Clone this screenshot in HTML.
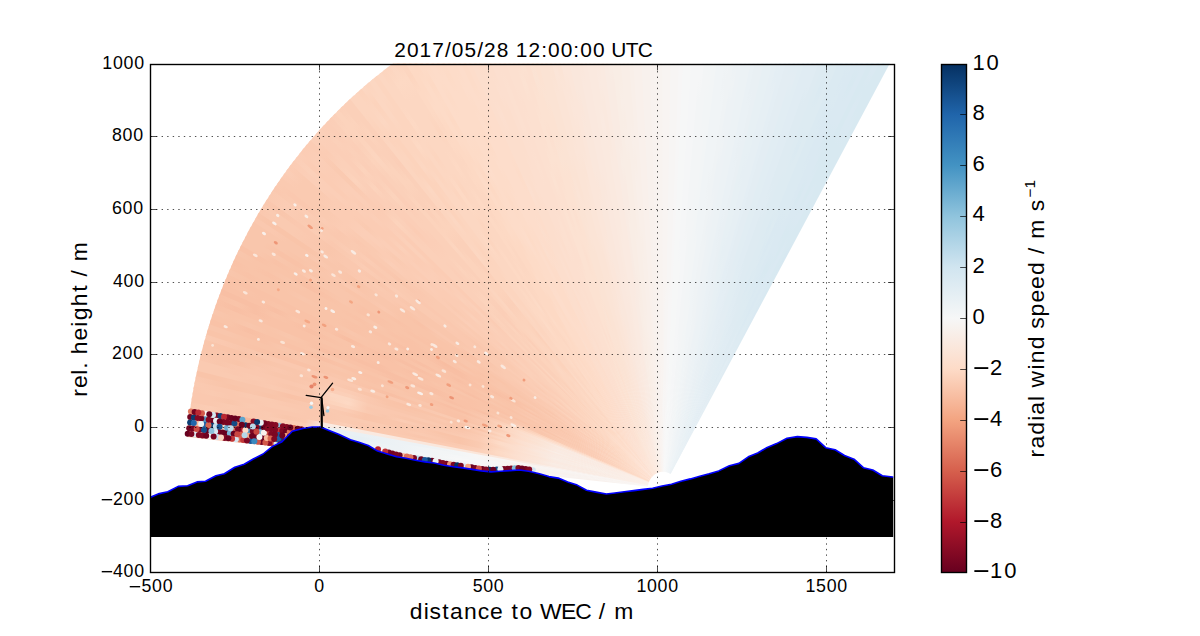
<!DOCTYPE html><html><head><meta charset="utf-8"><style>html,body{margin:0;padding:0;background:#fff;}body{width:1200px;height:636px;overflow:hidden;}svg{display:block;}text{font-family:"Liberation Sans",sans-serif;fill:#000;}</style></head><body>
<svg width="1200" height="636" viewBox="0 0 1200 636">
<defs><clipPath id="ax"><rect x="150" y="63.6" width="744" height="508.8"/></clipPath>
<linearGradient id="cb" x1="0" y1="0" x2="0" y2="1"><stop offset="0" stop-color="#053061"/><stop offset="0.1" stop-color="#2065ab"/><stop offset="0.2" stop-color="#4393c3"/><stop offset="0.3" stop-color="#90c4dd"/><stop offset="0.4" stop-color="#d1e5f0"/><stop offset="0.5" stop-color="#f6f7f7"/><stop offset="0.6" stop-color="#fddbc7"/><stop offset="0.7" stop-color="#f3a481"/><stop offset="0.8" stop-color="#d6604d"/><stop offset="0.9" stop-color="#b1182b"/><stop offset="1" stop-color="#67001f"/></linearGradient>
<linearGradient id="b0" gradientUnits="userSpaceOnUse" x1="670.5" y1="473.8" x2="897.9" y2="40.1"><stop offset="0.000" stop-color="#e7f0f4"/><stop offset="0.042" stop-color="#e6eff4"/><stop offset="0.083" stop-color="#e6eff4"/><stop offset="0.125" stop-color="#e4eef4"/><stop offset="0.167" stop-color="#e1edf3"/><stop offset="0.208" stop-color="#e0ecf3"/><stop offset="0.250" stop-color="#deebf2"/><stop offset="0.292" stop-color="#ddebf2"/><stop offset="0.333" stop-color="#dbeaf2"/><stop offset="0.375" stop-color="#dae9f2"/><stop offset="0.417" stop-color="#d8e9f1"/><stop offset="0.458" stop-color="#d8e9f1"/><stop offset="0.500" stop-color="#d7e8f1"/><stop offset="0.542" stop-color="#d8e9f1"/><stop offset="0.583" stop-color="#d8e9f1"/><stop offset="0.625" stop-color="#d8e9f1"/><stop offset="0.667" stop-color="#d8e9f1"/><stop offset="0.708" stop-color="#d8e9f1"/><stop offset="0.750" stop-color="#d8e9f1"/><stop offset="0.792" stop-color="#d8e9f1"/><stop offset="0.833" stop-color="#d8e9f1"/><stop offset="0.875" stop-color="#d8e9f1"/><stop offset="0.917" stop-color="#d8e9f1"/><stop offset="0.958" stop-color="#d8e9f1"/><stop offset="1.000" stop-color="#d8e9f1"/></linearGradient>
<linearGradient id="b1" gradientUnits="userSpaceOnUse" x1="670.4" y1="473.8" x2="893.6" y2="37.4"><stop offset="0.000" stop-color="#e7f0f4"/><stop offset="0.042" stop-color="#e6eff4"/><stop offset="0.083" stop-color="#e4eef4"/><stop offset="0.125" stop-color="#e4eef4"/><stop offset="0.167" stop-color="#e3edf3"/><stop offset="0.208" stop-color="#e1edf3"/><stop offset="0.250" stop-color="#e0ecf3"/><stop offset="0.292" stop-color="#deebf2"/><stop offset="0.333" stop-color="#ddebf2"/><stop offset="0.375" stop-color="#dbeaf2"/><stop offset="0.417" stop-color="#dae9f2"/><stop offset="0.458" stop-color="#d8e9f1"/><stop offset="0.500" stop-color="#d8e9f1"/><stop offset="0.542" stop-color="#d8e9f1"/><stop offset="0.583" stop-color="#d8e9f1"/><stop offset="0.625" stop-color="#d8e9f1"/><stop offset="0.667" stop-color="#d8e9f1"/><stop offset="0.708" stop-color="#d8e9f1"/><stop offset="0.750" stop-color="#d8e9f1"/><stop offset="0.792" stop-color="#dae9f2"/><stop offset="0.833" stop-color="#d8e9f1"/><stop offset="0.875" stop-color="#d8e9f1"/><stop offset="0.917" stop-color="#d8e9f1"/><stop offset="0.958" stop-color="#d8e9f1"/><stop offset="1.000" stop-color="#d8e9f1"/></linearGradient>
<linearGradient id="b2" gradientUnits="userSpaceOnUse" x1="670.2" y1="473.7" x2="889.2" y2="34.9"><stop offset="0.000" stop-color="#e9f0f4"/><stop offset="0.042" stop-color="#e7f0f4"/><stop offset="0.083" stop-color="#e6eff4"/><stop offset="0.125" stop-color="#e4eef4"/><stop offset="0.167" stop-color="#e3edf3"/><stop offset="0.208" stop-color="#e1edf3"/><stop offset="0.250" stop-color="#e1edf3"/><stop offset="0.292" stop-color="#deebf2"/><stop offset="0.333" stop-color="#ddebf2"/><stop offset="0.375" stop-color="#dbeaf2"/><stop offset="0.417" stop-color="#dbeaf2"/><stop offset="0.458" stop-color="#dae9f2"/><stop offset="0.500" stop-color="#dae9f2"/><stop offset="0.542" stop-color="#d8e9f1"/><stop offset="0.583" stop-color="#dae9f2"/><stop offset="0.625" stop-color="#dae9f2"/><stop offset="0.667" stop-color="#d8e9f1"/><stop offset="0.708" stop-color="#d8e9f1"/><stop offset="0.750" stop-color="#d8e9f1"/><stop offset="0.792" stop-color="#dae9f2"/><stop offset="0.833" stop-color="#dae9f2"/><stop offset="0.875" stop-color="#d8e9f1"/><stop offset="0.917" stop-color="#dae9f2"/><stop offset="0.958" stop-color="#dae9f2"/><stop offset="1.000" stop-color="#d8e9f1"/></linearGradient>
<linearGradient id="b3" gradientUnits="userSpaceOnUse" x1="670.1" y1="473.6" x2="884.7" y2="32.4"><stop offset="0.000" stop-color="#e7f0f4"/><stop offset="0.042" stop-color="#e6eff4"/><stop offset="0.083" stop-color="#e4eef4"/><stop offset="0.125" stop-color="#e3edf3"/><stop offset="0.167" stop-color="#e1edf3"/><stop offset="0.208" stop-color="#e0ecf3"/><stop offset="0.250" stop-color="#deebf2"/><stop offset="0.292" stop-color="#deebf2"/><stop offset="0.333" stop-color="#dbeaf2"/><stop offset="0.375" stop-color="#dae9f2"/><stop offset="0.417" stop-color="#dae9f2"/><stop offset="0.458" stop-color="#dae9f2"/><stop offset="0.500" stop-color="#d8e9f1"/><stop offset="0.542" stop-color="#d8e9f1"/><stop offset="0.583" stop-color="#dae9f2"/><stop offset="0.625" stop-color="#d8e9f1"/><stop offset="0.667" stop-color="#d8e9f1"/><stop offset="0.708" stop-color="#d8e9f1"/><stop offset="0.750" stop-color="#d8e9f1"/><stop offset="0.792" stop-color="#d8e9f1"/><stop offset="0.833" stop-color="#d8e9f1"/><stop offset="0.875" stop-color="#d8e9f1"/><stop offset="0.917" stop-color="#d8e9f1"/><stop offset="0.958" stop-color="#d8e9f1"/><stop offset="1.000" stop-color="#d8e9f1"/></linearGradient>
<linearGradient id="b4" gradientUnits="userSpaceOnUse" x1="669.9" y1="473.5" x2="880.3" y2="29.9"><stop offset="0.000" stop-color="#e9f0f4"/><stop offset="0.042" stop-color="#e7f0f4"/><stop offset="0.083" stop-color="#e6eff4"/><stop offset="0.125" stop-color="#e4eef4"/><stop offset="0.167" stop-color="#e3edf3"/><stop offset="0.208" stop-color="#e1edf3"/><stop offset="0.250" stop-color="#e0ecf3"/><stop offset="0.292" stop-color="#e0ecf3"/><stop offset="0.333" stop-color="#ddebf2"/><stop offset="0.375" stop-color="#dbeaf2"/><stop offset="0.417" stop-color="#dbeaf2"/><stop offset="0.458" stop-color="#d8e9f1"/><stop offset="0.500" stop-color="#dae9f2"/><stop offset="0.542" stop-color="#d8e9f1"/><stop offset="0.583" stop-color="#dae9f2"/><stop offset="0.625" stop-color="#dae9f2"/><stop offset="0.667" stop-color="#dae9f2"/><stop offset="0.708" stop-color="#d8e9f1"/><stop offset="0.750" stop-color="#d8e9f1"/><stop offset="0.792" stop-color="#dae9f2"/><stop offset="0.833" stop-color="#dae9f2"/><stop offset="0.875" stop-color="#dae9f2"/><stop offset="0.917" stop-color="#dae9f2"/><stop offset="0.958" stop-color="#dae9f2"/><stop offset="1.000" stop-color="#dae9f2"/></linearGradient>
<linearGradient id="b5" gradientUnits="userSpaceOnUse" x1="669.8" y1="473.4" x2="875.8" y2="27.5"><stop offset="0.000" stop-color="#e9f0f4"/><stop offset="0.042" stop-color="#e7f0f4"/><stop offset="0.083" stop-color="#e6eff4"/><stop offset="0.125" stop-color="#e3edf3"/><stop offset="0.167" stop-color="#e3edf3"/><stop offset="0.208" stop-color="#e1edf3"/><stop offset="0.250" stop-color="#e0ecf3"/><stop offset="0.292" stop-color="#deebf2"/><stop offset="0.333" stop-color="#ddebf2"/><stop offset="0.375" stop-color="#dbeaf2"/><stop offset="0.417" stop-color="#dae9f2"/><stop offset="0.458" stop-color="#d8e9f1"/><stop offset="0.500" stop-color="#dae9f2"/><stop offset="0.542" stop-color="#dae9f2"/><stop offset="0.583" stop-color="#dae9f2"/><stop offset="0.625" stop-color="#d8e9f1"/><stop offset="0.667" stop-color="#dae9f2"/><stop offset="0.708" stop-color="#dae9f2"/><stop offset="0.750" stop-color="#d8e9f1"/><stop offset="0.792" stop-color="#dae9f2"/><stop offset="0.833" stop-color="#dae9f2"/><stop offset="0.875" stop-color="#d8e9f1"/><stop offset="0.917" stop-color="#dae9f2"/><stop offset="0.958" stop-color="#dae9f2"/><stop offset="1.000" stop-color="#dae9f2"/></linearGradient>
<linearGradient id="b6" gradientUnits="userSpaceOnUse" x1="669.6" y1="473.4" x2="871.3" y2="25.1"><stop offset="0.000" stop-color="#e9f0f4"/><stop offset="0.042" stop-color="#e9f0f4"/><stop offset="0.083" stop-color="#e6eff4"/><stop offset="0.125" stop-color="#e4eef4"/><stop offset="0.167" stop-color="#e4eef4"/><stop offset="0.208" stop-color="#e1edf3"/><stop offset="0.250" stop-color="#e0ecf3"/><stop offset="0.292" stop-color="#deebf2"/><stop offset="0.333" stop-color="#ddebf2"/><stop offset="0.375" stop-color="#ddebf2"/><stop offset="0.417" stop-color="#dbeaf2"/><stop offset="0.458" stop-color="#dae9f2"/><stop offset="0.500" stop-color="#dae9f2"/><stop offset="0.542" stop-color="#dae9f2"/><stop offset="0.583" stop-color="#dbeaf2"/><stop offset="0.625" stop-color="#dae9f2"/><stop offset="0.667" stop-color="#dae9f2"/><stop offset="0.708" stop-color="#dae9f2"/><stop offset="0.750" stop-color="#dae9f2"/><stop offset="0.792" stop-color="#dae9f2"/><stop offset="0.833" stop-color="#dae9f2"/><stop offset="0.875" stop-color="#dae9f2"/><stop offset="0.917" stop-color="#dae9f2"/><stop offset="0.958" stop-color="#dae9f2"/><stop offset="1.000" stop-color="#dae9f2"/></linearGradient>
<linearGradient id="b7" gradientUnits="userSpaceOnUse" x1="669.5" y1="473.3" x2="866.8" y2="22.8"><stop offset="0.000" stop-color="#e9f0f4"/><stop offset="0.042" stop-color="#e7f0f4"/><stop offset="0.083" stop-color="#e6eff4"/><stop offset="0.125" stop-color="#e4eef4"/><stop offset="0.167" stop-color="#e4eef4"/><stop offset="0.208" stop-color="#e1edf3"/><stop offset="0.250" stop-color="#e1edf3"/><stop offset="0.292" stop-color="#e0ecf3"/><stop offset="0.333" stop-color="#deebf2"/><stop offset="0.375" stop-color="#ddebf2"/><stop offset="0.417" stop-color="#dbeaf2"/><stop offset="0.458" stop-color="#dbeaf2"/><stop offset="0.500" stop-color="#dbeaf2"/><stop offset="0.542" stop-color="#dae9f2"/><stop offset="0.583" stop-color="#dbeaf2"/><stop offset="0.625" stop-color="#dbeaf2"/><stop offset="0.667" stop-color="#dbeaf2"/><stop offset="0.708" stop-color="#dae9f2"/><stop offset="0.750" stop-color="#dae9f2"/><stop offset="0.792" stop-color="#dae9f2"/><stop offset="0.833" stop-color="#dbeaf2"/><stop offset="0.875" stop-color="#dae9f2"/><stop offset="0.917" stop-color="#dbeaf2"/><stop offset="0.958" stop-color="#dae9f2"/><stop offset="1.000" stop-color="#dae9f2"/></linearGradient>
<linearGradient id="b8" gradientUnits="userSpaceOnUse" x1="669.4" y1="473.2" x2="862.3" y2="20.5"><stop offset="0.000" stop-color="#e9f0f4"/><stop offset="0.042" stop-color="#e7f0f4"/><stop offset="0.083" stop-color="#e7f0f4"/><stop offset="0.125" stop-color="#e6eff4"/><stop offset="0.167" stop-color="#e4eef4"/><stop offset="0.208" stop-color="#e3edf3"/><stop offset="0.250" stop-color="#e1edf3"/><stop offset="0.292" stop-color="#e0ecf3"/><stop offset="0.333" stop-color="#deebf2"/><stop offset="0.375" stop-color="#ddebf2"/><stop offset="0.417" stop-color="#ddebf2"/><stop offset="0.458" stop-color="#dbeaf2"/><stop offset="0.500" stop-color="#dae9f2"/><stop offset="0.542" stop-color="#dae9f2"/><stop offset="0.583" stop-color="#dbeaf2"/><stop offset="0.625" stop-color="#dbeaf2"/><stop offset="0.667" stop-color="#dbeaf2"/><stop offset="0.708" stop-color="#dbeaf2"/><stop offset="0.750" stop-color="#dbeaf2"/><stop offset="0.792" stop-color="#dae9f2"/><stop offset="0.833" stop-color="#dbeaf2"/><stop offset="0.875" stop-color="#dbeaf2"/><stop offset="0.917" stop-color="#dbeaf2"/><stop offset="0.958" stop-color="#dbeaf2"/><stop offset="1.000" stop-color="#dbeaf2"/></linearGradient>
<linearGradient id="b9" gradientUnits="userSpaceOnUse" x1="669.2" y1="473.1" x2="857.7" y2="18.3"><stop offset="0.000" stop-color="#eaf1f5"/><stop offset="0.042" stop-color="#e9f0f4"/><stop offset="0.083" stop-color="#e6eff4"/><stop offset="0.125" stop-color="#e6eff4"/><stop offset="0.167" stop-color="#e4eef4"/><stop offset="0.208" stop-color="#e3edf3"/><stop offset="0.250" stop-color="#e1edf3"/><stop offset="0.292" stop-color="#e0ecf3"/><stop offset="0.333" stop-color="#deebf2"/><stop offset="0.375" stop-color="#deebf2"/><stop offset="0.417" stop-color="#dbeaf2"/><stop offset="0.458" stop-color="#ddebf2"/><stop offset="0.500" stop-color="#dbeaf2"/><stop offset="0.542" stop-color="#ddebf2"/><stop offset="0.583" stop-color="#dbeaf2"/><stop offset="0.625" stop-color="#dbeaf2"/><stop offset="0.667" stop-color="#dbeaf2"/><stop offset="0.708" stop-color="#dbeaf2"/><stop offset="0.750" stop-color="#dbeaf2"/><stop offset="0.792" stop-color="#dbeaf2"/><stop offset="0.833" stop-color="#dbeaf2"/><stop offset="0.875" stop-color="#dbeaf2"/><stop offset="0.917" stop-color="#dbeaf2"/><stop offset="0.958" stop-color="#dbeaf2"/><stop offset="1.000" stop-color="#dbeaf2"/></linearGradient>
<linearGradient id="b10" gradientUnits="userSpaceOnUse" x1="669.1" y1="473.1" x2="853.1" y2="16.2"><stop offset="0.000" stop-color="#eaf1f5"/><stop offset="0.042" stop-color="#e9f0f4"/><stop offset="0.083" stop-color="#e7f0f4"/><stop offset="0.125" stop-color="#e7f0f4"/><stop offset="0.167" stop-color="#e6eff4"/><stop offset="0.208" stop-color="#e3edf3"/><stop offset="0.250" stop-color="#e1edf3"/><stop offset="0.292" stop-color="#e1edf3"/><stop offset="0.333" stop-color="#e0ecf3"/><stop offset="0.375" stop-color="#deebf2"/><stop offset="0.417" stop-color="#deebf2"/><stop offset="0.458" stop-color="#ddebf2"/><stop offset="0.500" stop-color="#ddebf2"/><stop offset="0.542" stop-color="#dbeaf2"/><stop offset="0.583" stop-color="#ddebf2"/><stop offset="0.625" stop-color="#ddebf2"/><stop offset="0.667" stop-color="#ddebf2"/><stop offset="0.708" stop-color="#ddebf2"/><stop offset="0.750" stop-color="#ddebf2"/><stop offset="0.792" stop-color="#ddebf2"/><stop offset="0.833" stop-color="#ddebf2"/><stop offset="0.875" stop-color="#ddebf2"/><stop offset="0.917" stop-color="#ddebf2"/><stop offset="0.958" stop-color="#ddebf2"/><stop offset="1.000" stop-color="#ddebf2"/></linearGradient>
<linearGradient id="b11" gradientUnits="userSpaceOnUse" x1="668.9" y1="473" x2="848.5" y2="14"><stop offset="0.000" stop-color="#eaf1f5"/><stop offset="0.042" stop-color="#eaf1f5"/><stop offset="0.083" stop-color="#e7f0f4"/><stop offset="0.125" stop-color="#e6eff4"/><stop offset="0.167" stop-color="#e6eff4"/><stop offset="0.208" stop-color="#e3edf3"/><stop offset="0.250" stop-color="#e3edf3"/><stop offset="0.292" stop-color="#e1edf3"/><stop offset="0.333" stop-color="#e0ecf3"/><stop offset="0.375" stop-color="#deebf2"/><stop offset="0.417" stop-color="#ddebf2"/><stop offset="0.458" stop-color="#ddebf2"/><stop offset="0.500" stop-color="#ddebf2"/><stop offset="0.542" stop-color="#ddebf2"/><stop offset="0.583" stop-color="#ddebf2"/><stop offset="0.625" stop-color="#ddebf2"/><stop offset="0.667" stop-color="#ddebf2"/><stop offset="0.708" stop-color="#dbeaf2"/><stop offset="0.750" stop-color="#ddebf2"/><stop offset="0.792" stop-color="#ddebf2"/><stop offset="0.833" stop-color="#dbeaf2"/><stop offset="0.875" stop-color="#ddebf2"/><stop offset="0.917" stop-color="#ddebf2"/><stop offset="0.958" stop-color="#dbeaf2"/><stop offset="1.000" stop-color="#ddebf2"/></linearGradient>
<linearGradient id="b12" gradientUnits="userSpaceOnUse" x1="668.8" y1="472.9" x2="843.9" y2="12"><stop offset="0.000" stop-color="#eaf1f5"/><stop offset="0.042" stop-color="#eaf1f5"/><stop offset="0.083" stop-color="#e9f0f4"/><stop offset="0.125" stop-color="#e7f0f4"/><stop offset="0.167" stop-color="#e6eff4"/><stop offset="0.208" stop-color="#e4eef4"/><stop offset="0.250" stop-color="#e3edf3"/><stop offset="0.292" stop-color="#e3edf3"/><stop offset="0.333" stop-color="#e1edf3"/><stop offset="0.375" stop-color="#e0ecf3"/><stop offset="0.417" stop-color="#deebf2"/><stop offset="0.458" stop-color="#deebf2"/><stop offset="0.500" stop-color="#deebf2"/><stop offset="0.542" stop-color="#ddebf2"/><stop offset="0.583" stop-color="#ddebf2"/><stop offset="0.625" stop-color="#ddebf2"/><stop offset="0.667" stop-color="#deebf2"/><stop offset="0.708" stop-color="#ddebf2"/><stop offset="0.750" stop-color="#ddebf2"/><stop offset="0.792" stop-color="#ddebf2"/><stop offset="0.833" stop-color="#ddebf2"/><stop offset="0.875" stop-color="#ddebf2"/><stop offset="0.917" stop-color="#ddebf2"/><stop offset="0.958" stop-color="#deebf2"/><stop offset="1.000" stop-color="#ddebf2"/></linearGradient>
<linearGradient id="b13" gradientUnits="userSpaceOnUse" x1="668.6" y1="472.9" x2="839.3" y2="10"><stop offset="0.000" stop-color="#ecf2f5"/><stop offset="0.042" stop-color="#e9f0f4"/><stop offset="0.083" stop-color="#e7f0f4"/><stop offset="0.125" stop-color="#e7f0f4"/><stop offset="0.167" stop-color="#e6eff4"/><stop offset="0.208" stop-color="#e4eef4"/><stop offset="0.250" stop-color="#e4eef4"/><stop offset="0.292" stop-color="#e3edf3"/><stop offset="0.333" stop-color="#e1edf3"/><stop offset="0.375" stop-color="#e0ecf3"/><stop offset="0.417" stop-color="#deebf2"/><stop offset="0.458" stop-color="#deebf2"/><stop offset="0.500" stop-color="#deebf2"/><stop offset="0.542" stop-color="#deebf2"/><stop offset="0.583" stop-color="#deebf2"/><stop offset="0.625" stop-color="#deebf2"/><stop offset="0.667" stop-color="#deebf2"/><stop offset="0.708" stop-color="#deebf2"/><stop offset="0.750" stop-color="#deebf2"/><stop offset="0.792" stop-color="#deebf2"/><stop offset="0.833" stop-color="#deebf2"/><stop offset="0.875" stop-color="#deebf2"/><stop offset="0.917" stop-color="#deebf2"/><stop offset="0.958" stop-color="#deebf2"/><stop offset="1.000" stop-color="#deebf2"/></linearGradient>
<linearGradient id="b14" gradientUnits="userSpaceOnUse" x1="668.5" y1="472.8" x2="834.6" y2="8"><stop offset="0.000" stop-color="#ecf2f5"/><stop offset="0.042" stop-color="#eaf1f5"/><stop offset="0.083" stop-color="#e9f0f4"/><stop offset="0.125" stop-color="#e7f0f4"/><stop offset="0.167" stop-color="#e6eff4"/><stop offset="0.208" stop-color="#e6eff4"/><stop offset="0.250" stop-color="#e4eef4"/><stop offset="0.292" stop-color="#e3edf3"/><stop offset="0.333" stop-color="#e3edf3"/><stop offset="0.375" stop-color="#e1edf3"/><stop offset="0.417" stop-color="#e0ecf3"/><stop offset="0.458" stop-color="#deebf2"/><stop offset="0.500" stop-color="#deebf2"/><stop offset="0.542" stop-color="#deebf2"/><stop offset="0.583" stop-color="#e0ecf3"/><stop offset="0.625" stop-color="#deebf2"/><stop offset="0.667" stop-color="#deebf2"/><stop offset="0.708" stop-color="#deebf2"/><stop offset="0.750" stop-color="#deebf2"/><stop offset="0.792" stop-color="#deebf2"/><stop offset="0.833" stop-color="#e0ecf3"/><stop offset="0.875" stop-color="#e0ecf3"/><stop offset="0.917" stop-color="#deebf2"/><stop offset="0.958" stop-color="#e0ecf3"/><stop offset="1.000" stop-color="#deebf2"/></linearGradient>
<linearGradient id="b15" gradientUnits="userSpaceOnUse" x1="668.3" y1="472.8" x2="829.9" y2="6.1"><stop offset="0.000" stop-color="#edf2f5"/><stop offset="0.042" stop-color="#ecf2f5"/><stop offset="0.083" stop-color="#e9f0f4"/><stop offset="0.125" stop-color="#e9f0f4"/><stop offset="0.167" stop-color="#e7f0f4"/><stop offset="0.208" stop-color="#e7f0f4"/><stop offset="0.250" stop-color="#e6eff4"/><stop offset="0.292" stop-color="#e4eef4"/><stop offset="0.333" stop-color="#e3edf3"/><stop offset="0.375" stop-color="#e1edf3"/><stop offset="0.417" stop-color="#e1edf3"/><stop offset="0.458" stop-color="#e0ecf3"/><stop offset="0.500" stop-color="#e0ecf3"/><stop offset="0.542" stop-color="#e0ecf3"/><stop offset="0.583" stop-color="#e0ecf3"/><stop offset="0.625" stop-color="#e0ecf3"/><stop offset="0.667" stop-color="#e0ecf3"/><stop offset="0.708" stop-color="#e0ecf3"/><stop offset="0.750" stop-color="#e0ecf3"/><stop offset="0.792" stop-color="#e0ecf3"/><stop offset="0.833" stop-color="#e0ecf3"/><stop offset="0.875" stop-color="#e0ecf3"/><stop offset="0.917" stop-color="#e0ecf3"/><stop offset="0.958" stop-color="#e0ecf3"/><stop offset="1.000" stop-color="#e0ecf3"/></linearGradient>
<linearGradient id="b16" gradientUnits="userSpaceOnUse" x1="668.2" y1="472.7" x2="825.2" y2="4.3"><stop offset="0.000" stop-color="#ecf2f5"/><stop offset="0.042" stop-color="#eaf1f5"/><stop offset="0.083" stop-color="#e9f0f4"/><stop offset="0.125" stop-color="#e9f0f4"/><stop offset="0.167" stop-color="#e7f0f4"/><stop offset="0.208" stop-color="#e6eff4"/><stop offset="0.250" stop-color="#e6eff4"/><stop offset="0.292" stop-color="#e4eef4"/><stop offset="0.333" stop-color="#e3edf3"/><stop offset="0.375" stop-color="#e1edf3"/><stop offset="0.417" stop-color="#e1edf3"/><stop offset="0.458" stop-color="#e0ecf3"/><stop offset="0.500" stop-color="#e0ecf3"/><stop offset="0.542" stop-color="#e0ecf3"/><stop offset="0.583" stop-color="#e0ecf3"/><stop offset="0.625" stop-color="#e0ecf3"/><stop offset="0.667" stop-color="#e0ecf3"/><stop offset="0.708" stop-color="#e0ecf3"/><stop offset="0.750" stop-color="#e0ecf3"/><stop offset="0.792" stop-color="#e0ecf3"/><stop offset="0.833" stop-color="#e0ecf3"/><stop offset="0.875" stop-color="#e0ecf3"/><stop offset="0.917" stop-color="#e1edf3"/><stop offset="0.958" stop-color="#e0ecf3"/><stop offset="1.000" stop-color="#e1edf3"/></linearGradient>
<linearGradient id="b17" gradientUnits="userSpaceOnUse" x1="668" y1="472.6" x2="820.5" y2="2.5"><stop offset="0.000" stop-color="#ecf2f5"/><stop offset="0.042" stop-color="#ecf2f5"/><stop offset="0.083" stop-color="#eaf1f5"/><stop offset="0.125" stop-color="#e9f0f4"/><stop offset="0.167" stop-color="#e9f0f4"/><stop offset="0.208" stop-color="#e7f0f4"/><stop offset="0.250" stop-color="#e6eff4"/><stop offset="0.292" stop-color="#e4eef4"/><stop offset="0.333" stop-color="#e4eef4"/><stop offset="0.375" stop-color="#e3edf3"/><stop offset="0.417" stop-color="#e3edf3"/><stop offset="0.458" stop-color="#e1edf3"/><stop offset="0.500" stop-color="#e1edf3"/><stop offset="0.542" stop-color="#e1edf3"/><stop offset="0.583" stop-color="#e1edf3"/><stop offset="0.625" stop-color="#e1edf3"/><stop offset="0.667" stop-color="#e1edf3"/><stop offset="0.708" stop-color="#e1edf3"/><stop offset="0.750" stop-color="#e1edf3"/><stop offset="0.792" stop-color="#e1edf3"/><stop offset="0.833" stop-color="#e1edf3"/><stop offset="0.875" stop-color="#e1edf3"/><stop offset="0.917" stop-color="#e1edf3"/><stop offset="0.958" stop-color="#e1edf3"/><stop offset="1.000" stop-color="#e1edf3"/></linearGradient>
<linearGradient id="b18" gradientUnits="userSpaceOnUse" x1="667.9" y1="472.6" x2="815.8" y2="0.7"><stop offset="0.000" stop-color="#ecf2f5"/><stop offset="0.042" stop-color="#ecf2f5"/><stop offset="0.083" stop-color="#eaf1f5"/><stop offset="0.125" stop-color="#eaf1f5"/><stop offset="0.167" stop-color="#e9f0f4"/><stop offset="0.208" stop-color="#e7f0f4"/><stop offset="0.250" stop-color="#e6eff4"/><stop offset="0.292" stop-color="#e6eff4"/><stop offset="0.333" stop-color="#e4eef4"/><stop offset="0.375" stop-color="#e4eef4"/><stop offset="0.417" stop-color="#e3edf3"/><stop offset="0.458" stop-color="#e1edf3"/><stop offset="0.500" stop-color="#e1edf3"/><stop offset="0.542" stop-color="#e1edf3"/><stop offset="0.583" stop-color="#e1edf3"/><stop offset="0.625" stop-color="#e1edf3"/><stop offset="0.667" stop-color="#e1edf3"/><stop offset="0.708" stop-color="#e1edf3"/><stop offset="0.750" stop-color="#e1edf3"/><stop offset="0.792" stop-color="#e1edf3"/><stop offset="0.833" stop-color="#e3edf3"/><stop offset="0.875" stop-color="#e1edf3"/><stop offset="0.917" stop-color="#e1edf3"/><stop offset="0.958" stop-color="#e1edf3"/><stop offset="1.000" stop-color="#e1edf3"/></linearGradient>
<linearGradient id="b19" gradientUnits="userSpaceOnUse" x1="667.7" y1="472.5" x2="811" y2="-1"><stop offset="0.000" stop-color="#edf2f5"/><stop offset="0.042" stop-color="#ecf2f5"/><stop offset="0.083" stop-color="#ecf2f5"/><stop offset="0.125" stop-color="#eaf1f5"/><stop offset="0.167" stop-color="#e9f0f4"/><stop offset="0.208" stop-color="#e9f0f4"/><stop offset="0.250" stop-color="#e7f0f4"/><stop offset="0.292" stop-color="#e6eff4"/><stop offset="0.333" stop-color="#e6eff4"/><stop offset="0.375" stop-color="#e4eef4"/><stop offset="0.417" stop-color="#e3edf3"/><stop offset="0.458" stop-color="#e3edf3"/><stop offset="0.500" stop-color="#e3edf3"/><stop offset="0.542" stop-color="#e3edf3"/><stop offset="0.583" stop-color="#e3edf3"/><stop offset="0.625" stop-color="#e3edf3"/><stop offset="0.667" stop-color="#e3edf3"/><stop offset="0.708" stop-color="#e3edf3"/><stop offset="0.750" stop-color="#e3edf3"/><stop offset="0.792" stop-color="#e3edf3"/><stop offset="0.833" stop-color="#e3edf3"/><stop offset="0.875" stop-color="#e1edf3"/><stop offset="0.917" stop-color="#e3edf3"/><stop offset="0.958" stop-color="#e3edf3"/><stop offset="1.000" stop-color="#e3edf3"/></linearGradient>
<linearGradient id="b20" gradientUnits="userSpaceOnUse" x1="667.6" y1="472.5" x2="806.2" y2="-2.6"><stop offset="0.000" stop-color="#edf2f5"/><stop offset="0.042" stop-color="#ecf2f5"/><stop offset="0.083" stop-color="#ecf2f5"/><stop offset="0.125" stop-color="#eaf1f5"/><stop offset="0.167" stop-color="#e9f0f4"/><stop offset="0.208" stop-color="#e9f0f4"/><stop offset="0.250" stop-color="#e7f0f4"/><stop offset="0.292" stop-color="#e6eff4"/><stop offset="0.333" stop-color="#e6eff4"/><stop offset="0.375" stop-color="#e4eef4"/><stop offset="0.417" stop-color="#e4eef4"/><stop offset="0.458" stop-color="#e3edf3"/><stop offset="0.500" stop-color="#e3edf3"/><stop offset="0.542" stop-color="#e3edf3"/><stop offset="0.583" stop-color="#e3edf3"/><stop offset="0.625" stop-color="#e3edf3"/><stop offset="0.667" stop-color="#e3edf3"/><stop offset="0.708" stop-color="#e3edf3"/><stop offset="0.750" stop-color="#e3edf3"/><stop offset="0.792" stop-color="#e3edf3"/><stop offset="0.833" stop-color="#e3edf3"/><stop offset="0.875" stop-color="#e3edf3"/><stop offset="0.917" stop-color="#e3edf3"/><stop offset="0.958" stop-color="#e3edf3"/><stop offset="1.000" stop-color="#e3edf3"/></linearGradient>
<linearGradient id="b21" gradientUnits="userSpaceOnUse" x1="667.4" y1="472.4" x2="801.5" y2="-4.2"><stop offset="0.000" stop-color="#edf2f5"/><stop offset="0.042" stop-color="#edf2f5"/><stop offset="0.083" stop-color="#ecf2f5"/><stop offset="0.125" stop-color="#ecf2f5"/><stop offset="0.167" stop-color="#eaf1f5"/><stop offset="0.208" stop-color="#e9f0f4"/><stop offset="0.250" stop-color="#e9f0f4"/><stop offset="0.292" stop-color="#e7f0f4"/><stop offset="0.333" stop-color="#e7f0f4"/><stop offset="0.375" stop-color="#e6eff4"/><stop offset="0.417" stop-color="#e4eef4"/><stop offset="0.458" stop-color="#e4eef4"/><stop offset="0.500" stop-color="#e4eef4"/><stop offset="0.542" stop-color="#e4eef4"/><stop offset="0.583" stop-color="#e4eef4"/><stop offset="0.625" stop-color="#e4eef4"/><stop offset="0.667" stop-color="#e4eef4"/><stop offset="0.708" stop-color="#e4eef4"/><stop offset="0.750" stop-color="#e4eef4"/><stop offset="0.792" stop-color="#e4eef4"/><stop offset="0.833" stop-color="#e4eef4"/><stop offset="0.875" stop-color="#e4eef4"/><stop offset="0.917" stop-color="#e4eef4"/><stop offset="0.958" stop-color="#e4eef4"/><stop offset="1.000" stop-color="#e4eef4"/></linearGradient>
<linearGradient id="b22" gradientUnits="userSpaceOnUse" x1="667.3" y1="472.4" x2="796.7" y2="-5.7"><stop offset="0.000" stop-color="#eff3f5"/><stop offset="0.042" stop-color="#edf2f5"/><stop offset="0.083" stop-color="#edf2f5"/><stop offset="0.125" stop-color="#ecf2f5"/><stop offset="0.167" stop-color="#ecf2f5"/><stop offset="0.208" stop-color="#eaf1f5"/><stop offset="0.250" stop-color="#e9f0f4"/><stop offset="0.292" stop-color="#e9f0f4"/><stop offset="0.333" stop-color="#e7f0f4"/><stop offset="0.375" stop-color="#e7f0f4"/><stop offset="0.417" stop-color="#e6eff4"/><stop offset="0.458" stop-color="#e6eff4"/><stop offset="0.500" stop-color="#e6eff4"/><stop offset="0.542" stop-color="#e6eff4"/><stop offset="0.583" stop-color="#e6eff4"/><stop offset="0.625" stop-color="#e6eff4"/><stop offset="0.667" stop-color="#e6eff4"/><stop offset="0.708" stop-color="#e6eff4"/><stop offset="0.750" stop-color="#e6eff4"/><stop offset="0.792" stop-color="#e6eff4"/><stop offset="0.833" stop-color="#e4eef4"/><stop offset="0.875" stop-color="#e6eff4"/><stop offset="0.917" stop-color="#e6eff4"/><stop offset="0.958" stop-color="#e6eff4"/><stop offset="1.000" stop-color="#e6eff4"/></linearGradient>
<linearGradient id="b23" gradientUnits="userSpaceOnUse" x1="667.1" y1="472.3" x2="791.9" y2="-7.2"><stop offset="0.000" stop-color="#eff3f5"/><stop offset="0.042" stop-color="#edf2f5"/><stop offset="0.083" stop-color="#edf2f5"/><stop offset="0.125" stop-color="#ecf2f5"/><stop offset="0.167" stop-color="#ecf2f5"/><stop offset="0.208" stop-color="#eaf1f5"/><stop offset="0.250" stop-color="#eaf1f5"/><stop offset="0.292" stop-color="#e9f0f4"/><stop offset="0.333" stop-color="#e9f0f4"/><stop offset="0.375" stop-color="#e7f0f4"/><stop offset="0.417" stop-color="#e7f0f4"/><stop offset="0.458" stop-color="#e6eff4"/><stop offset="0.500" stop-color="#e6eff4"/><stop offset="0.542" stop-color="#e6eff4"/><stop offset="0.583" stop-color="#e6eff4"/><stop offset="0.625" stop-color="#e6eff4"/><stop offset="0.667" stop-color="#e6eff4"/><stop offset="0.708" stop-color="#e6eff4"/><stop offset="0.750" stop-color="#e6eff4"/><stop offset="0.792" stop-color="#e6eff4"/><stop offset="0.833" stop-color="#e6eff4"/><stop offset="0.875" stop-color="#e6eff4"/><stop offset="0.917" stop-color="#e6eff4"/><stop offset="0.958" stop-color="#e6eff4"/><stop offset="1.000" stop-color="#e6eff4"/></linearGradient>
<linearGradient id="b24" gradientUnits="userSpaceOnUse" x1="667" y1="472.3" x2="787" y2="-8.6"><stop offset="0.000" stop-color="#eff3f5"/><stop offset="0.042" stop-color="#eff3f5"/><stop offset="0.083" stop-color="#edf2f5"/><stop offset="0.125" stop-color="#edf2f5"/><stop offset="0.167" stop-color="#ecf2f5"/><stop offset="0.208" stop-color="#ecf2f5"/><stop offset="0.250" stop-color="#eaf1f5"/><stop offset="0.292" stop-color="#eaf1f5"/><stop offset="0.333" stop-color="#e9f0f4"/><stop offset="0.375" stop-color="#e9f0f4"/><stop offset="0.417" stop-color="#e7f0f4"/><stop offset="0.458" stop-color="#e6eff4"/><stop offset="0.500" stop-color="#e7f0f4"/><stop offset="0.542" stop-color="#e7f0f4"/><stop offset="0.583" stop-color="#e7f0f4"/><stop offset="0.625" stop-color="#e6eff4"/><stop offset="0.667" stop-color="#e7f0f4"/><stop offset="0.708" stop-color="#e7f0f4"/><stop offset="0.750" stop-color="#e7f0f4"/><stop offset="0.792" stop-color="#e7f0f4"/><stop offset="0.833" stop-color="#e7f0f4"/><stop offset="0.875" stop-color="#e7f0f4"/><stop offset="0.917" stop-color="#e6eff4"/><stop offset="0.958" stop-color="#e7f0f4"/><stop offset="1.000" stop-color="#e7f0f4"/></linearGradient>
<linearGradient id="b25" gradientUnits="userSpaceOnUse" x1="666.8" y1="472.2" x2="782.2" y2="-10"><stop offset="0.000" stop-color="#eff3f5"/><stop offset="0.042" stop-color="#eff3f5"/><stop offset="0.083" stop-color="#edf2f5"/><stop offset="0.125" stop-color="#edf2f5"/><stop offset="0.167" stop-color="#edf2f5"/><stop offset="0.208" stop-color="#ecf2f5"/><stop offset="0.250" stop-color="#ecf2f5"/><stop offset="0.292" stop-color="#eaf1f5"/><stop offset="0.333" stop-color="#eaf1f5"/><stop offset="0.375" stop-color="#e9f0f4"/><stop offset="0.417" stop-color="#e9f0f4"/><stop offset="0.458" stop-color="#e7f0f4"/><stop offset="0.500" stop-color="#e7f0f4"/><stop offset="0.542" stop-color="#e7f0f4"/><stop offset="0.583" stop-color="#e7f0f4"/><stop offset="0.625" stop-color="#e7f0f4"/><stop offset="0.667" stop-color="#e7f0f4"/><stop offset="0.708" stop-color="#e7f0f4"/><stop offset="0.750" stop-color="#e7f0f4"/><stop offset="0.792" stop-color="#e7f0f4"/><stop offset="0.833" stop-color="#e7f0f4"/><stop offset="0.875" stop-color="#e7f0f4"/><stop offset="0.917" stop-color="#e7f0f4"/><stop offset="0.958" stop-color="#e7f0f4"/><stop offset="1.000" stop-color="#e7f0f4"/></linearGradient>
<linearGradient id="b26" gradientUnits="userSpaceOnUse" x1="666.7" y1="472.2" x2="777.3" y2="-11.3"><stop offset="0.000" stop-color="#f0f4f6"/><stop offset="0.042" stop-color="#eff3f5"/><stop offset="0.083" stop-color="#eff3f5"/><stop offset="0.125" stop-color="#eff3f5"/><stop offset="0.167" stop-color="#edf2f5"/><stop offset="0.208" stop-color="#ecf2f5"/><stop offset="0.250" stop-color="#ecf2f5"/><stop offset="0.292" stop-color="#ecf2f5"/><stop offset="0.333" stop-color="#eaf1f5"/><stop offset="0.375" stop-color="#eaf1f5"/><stop offset="0.417" stop-color="#e9f0f4"/><stop offset="0.458" stop-color="#e9f0f4"/><stop offset="0.500" stop-color="#e9f0f4"/><stop offset="0.542" stop-color="#e9f0f4"/><stop offset="0.583" stop-color="#e9f0f4"/><stop offset="0.625" stop-color="#e9f0f4"/><stop offset="0.667" stop-color="#e9f0f4"/><stop offset="0.708" stop-color="#e9f0f4"/><stop offset="0.750" stop-color="#e9f0f4"/><stop offset="0.792" stop-color="#e9f0f4"/><stop offset="0.833" stop-color="#e9f0f4"/><stop offset="0.875" stop-color="#e9f0f4"/><stop offset="0.917" stop-color="#e9f0f4"/><stop offset="0.958" stop-color="#e9f0f4"/><stop offset="1.000" stop-color="#e9f0f4"/></linearGradient>
<linearGradient id="b27" gradientUnits="userSpaceOnUse" x1="666.5" y1="472.2" x2="772.5" y2="-12.5"><stop offset="0.000" stop-color="#f0f4f6"/><stop offset="0.042" stop-color="#f0f4f6"/><stop offset="0.083" stop-color="#eff3f5"/><stop offset="0.125" stop-color="#eff3f5"/><stop offset="0.167" stop-color="#edf2f5"/><stop offset="0.208" stop-color="#edf2f5"/><stop offset="0.250" stop-color="#edf2f5"/><stop offset="0.292" stop-color="#ecf2f5"/><stop offset="0.333" stop-color="#ecf2f5"/><stop offset="0.375" stop-color="#eaf1f5"/><stop offset="0.417" stop-color="#eaf1f5"/><stop offset="0.458" stop-color="#eaf1f5"/><stop offset="0.500" stop-color="#e9f0f4"/><stop offset="0.542" stop-color="#eaf1f5"/><stop offset="0.583" stop-color="#eaf1f5"/><stop offset="0.625" stop-color="#eaf1f5"/><stop offset="0.667" stop-color="#e9f0f4"/><stop offset="0.708" stop-color="#eaf1f5"/><stop offset="0.750" stop-color="#eaf1f5"/><stop offset="0.792" stop-color="#e9f0f4"/><stop offset="0.833" stop-color="#e9f0f4"/><stop offset="0.875" stop-color="#e9f0f4"/><stop offset="0.917" stop-color="#e9f0f4"/><stop offset="0.958" stop-color="#eaf1f5"/><stop offset="1.000" stop-color="#e9f0f4"/></linearGradient>
<linearGradient id="b28" gradientUnits="userSpaceOnUse" x1="666.3" y1="472.1" x2="767.6" y2="-13.7"><stop offset="0.000" stop-color="#f0f4f6"/><stop offset="0.042" stop-color="#f0f4f6"/><stop offset="0.083" stop-color="#f0f4f6"/><stop offset="0.125" stop-color="#eff3f5"/><stop offset="0.167" stop-color="#eff3f5"/><stop offset="0.208" stop-color="#edf2f5"/><stop offset="0.250" stop-color="#edf2f5"/><stop offset="0.292" stop-color="#ecf2f5"/><stop offset="0.333" stop-color="#ecf2f5"/><stop offset="0.375" stop-color="#ecf2f5"/><stop offset="0.417" stop-color="#eaf1f5"/><stop offset="0.458" stop-color="#eaf1f5"/><stop offset="0.500" stop-color="#eaf1f5"/><stop offset="0.542" stop-color="#eaf1f5"/><stop offset="0.583" stop-color="#eaf1f5"/><stop offset="0.625" stop-color="#eaf1f5"/><stop offset="0.667" stop-color="#eaf1f5"/><stop offset="0.708" stop-color="#eaf1f5"/><stop offset="0.750" stop-color="#eaf1f5"/><stop offset="0.792" stop-color="#eaf1f5"/><stop offset="0.833" stop-color="#eaf1f5"/><stop offset="0.875" stop-color="#eaf1f5"/><stop offset="0.917" stop-color="#eaf1f5"/><stop offset="0.958" stop-color="#eaf1f5"/><stop offset="1.000" stop-color="#eaf1f5"/></linearGradient>
<linearGradient id="b29" gradientUnits="userSpaceOnUse" x1="666.2" y1="472.1" x2="762.7" y2="-14.9"><stop offset="0.000" stop-color="#f2f5f6"/><stop offset="0.042" stop-color="#f0f4f6"/><stop offset="0.083" stop-color="#f0f4f6"/><stop offset="0.125" stop-color="#f0f4f6"/><stop offset="0.167" stop-color="#eff3f5"/><stop offset="0.208" stop-color="#eff3f5"/><stop offset="0.250" stop-color="#edf2f5"/><stop offset="0.292" stop-color="#edf2f5"/><stop offset="0.333" stop-color="#edf2f5"/><stop offset="0.375" stop-color="#ecf2f5"/><stop offset="0.417" stop-color="#ecf2f5"/><stop offset="0.458" stop-color="#ecf2f5"/><stop offset="0.500" stop-color="#ecf2f5"/><stop offset="0.542" stop-color="#ecf2f5"/><stop offset="0.583" stop-color="#ecf2f5"/><stop offset="0.625" stop-color="#ecf2f5"/><stop offset="0.667" stop-color="#ecf2f5"/><stop offset="0.708" stop-color="#ecf2f5"/><stop offset="0.750" stop-color="#ecf2f5"/><stop offset="0.792" stop-color="#ecf2f5"/><stop offset="0.833" stop-color="#ecf2f5"/><stop offset="0.875" stop-color="#ecf2f5"/><stop offset="0.917" stop-color="#ecf2f5"/><stop offset="0.958" stop-color="#ecf2f5"/><stop offset="1.000" stop-color="#ecf2f5"/></linearGradient>
<linearGradient id="b30" gradientUnits="userSpaceOnUse" x1="666" y1="472.1" x2="757.8" y2="-16"><stop offset="0.000" stop-color="#f2f5f6"/><stop offset="0.042" stop-color="#f2f5f6"/><stop offset="0.083" stop-color="#f0f4f6"/><stop offset="0.125" stop-color="#f0f4f6"/><stop offset="0.167" stop-color="#f0f4f6"/><stop offset="0.208" stop-color="#eff3f5"/><stop offset="0.250" stop-color="#eff3f5"/><stop offset="0.292" stop-color="#eff3f5"/><stop offset="0.333" stop-color="#edf2f5"/><stop offset="0.375" stop-color="#edf2f5"/><stop offset="0.417" stop-color="#edf2f5"/><stop offset="0.458" stop-color="#ecf2f5"/><stop offset="0.500" stop-color="#ecf2f5"/><stop offset="0.542" stop-color="#ecf2f5"/><stop offset="0.583" stop-color="#ecf2f5"/><stop offset="0.625" stop-color="#ecf2f5"/><stop offset="0.667" stop-color="#ecf2f5"/><stop offset="0.708" stop-color="#ecf2f5"/><stop offset="0.750" stop-color="#ecf2f5"/><stop offset="0.792" stop-color="#ecf2f5"/><stop offset="0.833" stop-color="#ecf2f5"/><stop offset="0.875" stop-color="#ecf2f5"/><stop offset="0.917" stop-color="#ecf2f5"/><stop offset="0.958" stop-color="#ecf2f5"/><stop offset="1.000" stop-color="#ecf2f5"/></linearGradient>
<linearGradient id="b31" gradientUnits="userSpaceOnUse" x1="665.9" y1="472" x2="752.9" y2="-17"><stop offset="0.000" stop-color="#f2f5f6"/><stop offset="0.042" stop-color="#f2f5f6"/><stop offset="0.083" stop-color="#f2f5f6"/><stop offset="0.125" stop-color="#f0f4f6"/><stop offset="0.167" stop-color="#f0f4f6"/><stop offset="0.208" stop-color="#f0f4f6"/><stop offset="0.250" stop-color="#eff3f5"/><stop offset="0.292" stop-color="#eff3f5"/><stop offset="0.333" stop-color="#eff3f5"/><stop offset="0.375" stop-color="#edf2f5"/><stop offset="0.417" stop-color="#edf2f5"/><stop offset="0.458" stop-color="#edf2f5"/><stop offset="0.500" stop-color="#edf2f5"/><stop offset="0.542" stop-color="#edf2f5"/><stop offset="0.583" stop-color="#edf2f5"/><stop offset="0.625" stop-color="#edf2f5"/><stop offset="0.667" stop-color="#edf2f5"/><stop offset="0.708" stop-color="#edf2f5"/><stop offset="0.750" stop-color="#edf2f5"/><stop offset="0.792" stop-color="#edf2f5"/><stop offset="0.833" stop-color="#edf2f5"/><stop offset="0.875" stop-color="#edf2f5"/><stop offset="0.917" stop-color="#edf2f5"/><stop offset="0.958" stop-color="#edf2f5"/><stop offset="1.000" stop-color="#edf2f5"/></linearGradient>
<linearGradient id="b32" gradientUnits="userSpaceOnUse" x1="665.7" y1="472" x2="748" y2="-18"><stop offset="0.000" stop-color="#f3f5f6"/><stop offset="0.042" stop-color="#f2f5f6"/><stop offset="0.083" stop-color="#f2f5f6"/><stop offset="0.125" stop-color="#f2f5f6"/><stop offset="0.167" stop-color="#f0f4f6"/><stop offset="0.208" stop-color="#f0f4f6"/><stop offset="0.250" stop-color="#f0f4f6"/><stop offset="0.292" stop-color="#f0f4f6"/><stop offset="0.333" stop-color="#eff3f5"/><stop offset="0.375" stop-color="#eff3f5"/><stop offset="0.417" stop-color="#eff3f5"/><stop offset="0.458" stop-color="#eff3f5"/><stop offset="0.500" stop-color="#edf2f5"/><stop offset="0.542" stop-color="#eff3f5"/><stop offset="0.583" stop-color="#edf2f5"/><stop offset="0.625" stop-color="#edf2f5"/><stop offset="0.667" stop-color="#eff3f5"/><stop offset="0.708" stop-color="#edf2f5"/><stop offset="0.750" stop-color="#edf2f5"/><stop offset="0.792" stop-color="#eff3f5"/><stop offset="0.833" stop-color="#edf2f5"/><stop offset="0.875" stop-color="#edf2f5"/><stop offset="0.917" stop-color="#eff3f5"/><stop offset="0.958" stop-color="#edf2f5"/><stop offset="1.000" stop-color="#edf2f5"/></linearGradient>
<linearGradient id="b33" gradientUnits="userSpaceOnUse" x1="665.6" y1="472" x2="743" y2="-18.9"><stop offset="0.000" stop-color="#f3f5f6"/><stop offset="0.042" stop-color="#f3f5f6"/><stop offset="0.083" stop-color="#f2f5f6"/><stop offset="0.125" stop-color="#f2f5f6"/><stop offset="0.167" stop-color="#f2f5f6"/><stop offset="0.208" stop-color="#f0f4f6"/><stop offset="0.250" stop-color="#f0f4f6"/><stop offset="0.292" stop-color="#f0f4f6"/><stop offset="0.333" stop-color="#f0f4f6"/><stop offset="0.375" stop-color="#eff3f5"/><stop offset="0.417" stop-color="#eff3f5"/><stop offset="0.458" stop-color="#eff3f5"/><stop offset="0.500" stop-color="#eff3f5"/><stop offset="0.542" stop-color="#eff3f5"/><stop offset="0.583" stop-color="#eff3f5"/><stop offset="0.625" stop-color="#eff3f5"/><stop offset="0.667" stop-color="#eff3f5"/><stop offset="0.708" stop-color="#eff3f5"/><stop offset="0.750" stop-color="#eff3f5"/><stop offset="0.792" stop-color="#eff3f5"/><stop offset="0.833" stop-color="#eff3f5"/><stop offset="0.875" stop-color="#eff3f5"/><stop offset="0.917" stop-color="#eff3f5"/><stop offset="0.958" stop-color="#eff3f5"/><stop offset="1.000" stop-color="#eff3f5"/></linearGradient>
<linearGradient id="b34" gradientUnits="userSpaceOnUse" x1="665.4" y1="471.9" x2="738.1" y2="-19.8"><stop offset="0.000" stop-color="#f3f5f6"/><stop offset="0.042" stop-color="#f3f5f6"/><stop offset="0.083" stop-color="#f3f5f6"/><stop offset="0.125" stop-color="#f2f5f6"/><stop offset="0.167" stop-color="#f2f5f6"/><stop offset="0.208" stop-color="#f2f5f6"/><stop offset="0.250" stop-color="#f2f5f6"/><stop offset="0.292" stop-color="#f0f4f6"/><stop offset="0.333" stop-color="#f0f4f6"/><stop offset="0.375" stop-color="#f0f4f6"/><stop offset="0.417" stop-color="#f0f4f6"/><stop offset="0.458" stop-color="#f0f4f6"/><stop offset="0.500" stop-color="#f0f4f6"/><stop offset="0.542" stop-color="#f0f4f6"/><stop offset="0.583" stop-color="#eff3f5"/><stop offset="0.625" stop-color="#f0f4f6"/><stop offset="0.667" stop-color="#f0f4f6"/><stop offset="0.708" stop-color="#f0f4f6"/><stop offset="0.750" stop-color="#f0f4f6"/><stop offset="0.792" stop-color="#eff3f5"/><stop offset="0.833" stop-color="#f0f4f6"/><stop offset="0.875" stop-color="#f0f4f6"/><stop offset="0.917" stop-color="#f0f4f6"/><stop offset="0.958" stop-color="#f0f4f6"/><stop offset="1.000" stop-color="#f0f4f6"/></linearGradient>
<linearGradient id="b35" gradientUnits="userSpaceOnUse" x1="665.3" y1="471.9" x2="733.2" y2="-20.6"><stop offset="0.000" stop-color="#f3f5f6"/><stop offset="0.042" stop-color="#f3f5f6"/><stop offset="0.083" stop-color="#f3f5f6"/><stop offset="0.125" stop-color="#f3f5f6"/><stop offset="0.167" stop-color="#f2f5f6"/><stop offset="0.208" stop-color="#f2f5f6"/><stop offset="0.250" stop-color="#f2f5f6"/><stop offset="0.292" stop-color="#f2f5f6"/><stop offset="0.333" stop-color="#f2f5f6"/><stop offset="0.375" stop-color="#f0f4f6"/><stop offset="0.417" stop-color="#f0f4f6"/><stop offset="0.458" stop-color="#f0f4f6"/><stop offset="0.500" stop-color="#f0f4f6"/><stop offset="0.542" stop-color="#f0f4f6"/><stop offset="0.583" stop-color="#f0f4f6"/><stop offset="0.625" stop-color="#f0f4f6"/><stop offset="0.667" stop-color="#f0f4f6"/><stop offset="0.708" stop-color="#f0f4f6"/><stop offset="0.750" stop-color="#f0f4f6"/><stop offset="0.792" stop-color="#f0f4f6"/><stop offset="0.833" stop-color="#f0f4f6"/><stop offset="0.875" stop-color="#f0f4f6"/><stop offset="0.917" stop-color="#f0f4f6"/><stop offset="0.958" stop-color="#f0f4f6"/><stop offset="1.000" stop-color="#f0f4f6"/></linearGradient>
<linearGradient id="b36" gradientUnits="userSpaceOnUse" x1="665.1" y1="471.9" x2="728.2" y2="-21.4"><stop offset="0.000" stop-color="#f5f6f7"/><stop offset="0.042" stop-color="#f3f5f6"/><stop offset="0.083" stop-color="#f3f5f6"/><stop offset="0.125" stop-color="#f3f5f6"/><stop offset="0.167" stop-color="#f3f5f6"/><stop offset="0.208" stop-color="#f3f5f6"/><stop offset="0.250" stop-color="#f2f5f6"/><stop offset="0.292" stop-color="#f2f5f6"/><stop offset="0.333" stop-color="#f2f5f6"/><stop offset="0.375" stop-color="#f2f5f6"/><stop offset="0.417" stop-color="#f2f5f6"/><stop offset="0.458" stop-color="#f2f5f6"/><stop offset="0.500" stop-color="#f0f4f6"/><stop offset="0.542" stop-color="#f0f4f6"/><stop offset="0.583" stop-color="#f0f4f6"/><stop offset="0.625" stop-color="#f0f4f6"/><stop offset="0.667" stop-color="#f0f4f6"/><stop offset="0.708" stop-color="#f0f4f6"/><stop offset="0.750" stop-color="#f0f4f6"/><stop offset="0.792" stop-color="#f0f4f6"/><stop offset="0.833" stop-color="#f0f4f6"/><stop offset="0.875" stop-color="#f0f4f6"/><stop offset="0.917" stop-color="#f2f5f6"/><stop offset="0.958" stop-color="#f0f4f6"/><stop offset="1.000" stop-color="#f0f4f6"/></linearGradient>
<linearGradient id="b37" gradientUnits="userSpaceOnUse" x1="664.9" y1="471.9" x2="723.2" y2="-22.1"><stop offset="0.000" stop-color="#f5f6f7"/><stop offset="0.042" stop-color="#f5f6f7"/><stop offset="0.083" stop-color="#f3f5f6"/><stop offset="0.125" stop-color="#f3f5f6"/><stop offset="0.167" stop-color="#f3f5f6"/><stop offset="0.208" stop-color="#f3f5f6"/><stop offset="0.250" stop-color="#f3f5f6"/><stop offset="0.292" stop-color="#f3f5f6"/><stop offset="0.333" stop-color="#f2f5f6"/><stop offset="0.375" stop-color="#f2f5f6"/><stop offset="0.417" stop-color="#f2f5f6"/><stop offset="0.458" stop-color="#f2f5f6"/><stop offset="0.500" stop-color="#f2f5f6"/><stop offset="0.542" stop-color="#f2f5f6"/><stop offset="0.583" stop-color="#f2f5f6"/><stop offset="0.625" stop-color="#f2f5f6"/><stop offset="0.667" stop-color="#f2f5f6"/><stop offset="0.708" stop-color="#f2f5f6"/><stop offset="0.750" stop-color="#f2f5f6"/><stop offset="0.792" stop-color="#f2f5f6"/><stop offset="0.833" stop-color="#f2f5f6"/><stop offset="0.875" stop-color="#f2f5f6"/><stop offset="0.917" stop-color="#f2f5f6"/><stop offset="0.958" stop-color="#f2f5f6"/><stop offset="1.000" stop-color="#f2f5f6"/></linearGradient>
<linearGradient id="b38" gradientUnits="userSpaceOnUse" x1="664.8" y1="471.8" x2="718.3" y2="-22.7"><stop offset="0.000" stop-color="#f5f6f7"/><stop offset="0.042" stop-color="#f5f6f7"/><stop offset="0.083" stop-color="#f5f6f7"/><stop offset="0.125" stop-color="#f5f6f7"/><stop offset="0.167" stop-color="#f3f5f6"/><stop offset="0.208" stop-color="#f3f5f6"/><stop offset="0.250" stop-color="#f3f5f6"/><stop offset="0.292" stop-color="#f3f5f6"/><stop offset="0.333" stop-color="#f3f5f6"/><stop offset="0.375" stop-color="#f3f5f6"/><stop offset="0.417" stop-color="#f3f5f6"/><stop offset="0.458" stop-color="#f2f5f6"/><stop offset="0.500" stop-color="#f3f5f6"/><stop offset="0.542" stop-color="#f2f5f6"/><stop offset="0.583" stop-color="#f3f5f6"/><stop offset="0.625" stop-color="#f3f5f6"/><stop offset="0.667" stop-color="#f3f5f6"/><stop offset="0.708" stop-color="#f2f5f6"/><stop offset="0.750" stop-color="#f2f5f6"/><stop offset="0.792" stop-color="#f3f5f6"/><stop offset="0.833" stop-color="#f2f5f6"/><stop offset="0.875" stop-color="#f2f5f6"/><stop offset="0.917" stop-color="#f3f5f6"/><stop offset="0.958" stop-color="#f2f5f6"/><stop offset="1.000" stop-color="#f3f5f6"/></linearGradient>
<linearGradient id="b39" gradientUnits="userSpaceOnUse" x1="664.6" y1="471.8" x2="713.3" y2="-23.3"><stop offset="0.000" stop-color="#f5f6f7"/><stop offset="0.042" stop-color="#f5f6f7"/><stop offset="0.083" stop-color="#f5f6f7"/><stop offset="0.125" stop-color="#f5f6f7"/><stop offset="0.167" stop-color="#f5f6f7"/><stop offset="0.208" stop-color="#f5f6f7"/><stop offset="0.250" stop-color="#f5f6f7"/><stop offset="0.292" stop-color="#f3f5f6"/><stop offset="0.333" stop-color="#f3f5f6"/><stop offset="0.375" stop-color="#f3f5f6"/><stop offset="0.417" stop-color="#f3f5f6"/><stop offset="0.458" stop-color="#f3f5f6"/><stop offset="0.500" stop-color="#f3f5f6"/><stop offset="0.542" stop-color="#f3f5f6"/><stop offset="0.583" stop-color="#f3f5f6"/><stop offset="0.625" stop-color="#f3f5f6"/><stop offset="0.667" stop-color="#f3f5f6"/><stop offset="0.708" stop-color="#f3f5f6"/><stop offset="0.750" stop-color="#f3f5f6"/><stop offset="0.792" stop-color="#f3f5f6"/><stop offset="0.833" stop-color="#f3f5f6"/><stop offset="0.875" stop-color="#f3f5f6"/><stop offset="0.917" stop-color="#f3f5f6"/><stop offset="0.958" stop-color="#f3f5f6"/><stop offset="1.000" stop-color="#f3f5f6"/></linearGradient>
<linearGradient id="b40" gradientUnits="userSpaceOnUse" x1="664.5" y1="471.8" x2="708.3" y2="-23.9"><stop offset="0.000" stop-color="#f6f7f7"/><stop offset="0.042" stop-color="#f5f6f7"/><stop offset="0.083" stop-color="#f5f6f7"/><stop offset="0.125" stop-color="#f5f6f7"/><stop offset="0.167" stop-color="#f5f6f7"/><stop offset="0.208" stop-color="#f5f6f7"/><stop offset="0.250" stop-color="#f5f6f7"/><stop offset="0.292" stop-color="#f5f6f7"/><stop offset="0.333" stop-color="#f5f6f7"/><stop offset="0.375" stop-color="#f5f6f7"/><stop offset="0.417" stop-color="#f5f6f7"/><stop offset="0.458" stop-color="#f5f6f7"/><stop offset="0.500" stop-color="#f3f5f6"/><stop offset="0.542" stop-color="#f3f5f6"/><stop offset="0.583" stop-color="#f3f5f6"/><stop offset="0.625" stop-color="#f3f5f6"/><stop offset="0.667" stop-color="#f3f5f6"/><stop offset="0.708" stop-color="#f3f5f6"/><stop offset="0.750" stop-color="#f3f5f6"/><stop offset="0.792" stop-color="#f5f6f7"/><stop offset="0.833" stop-color="#f5f6f7"/><stop offset="0.875" stop-color="#f5f6f7"/><stop offset="0.917" stop-color="#f3f5f6"/><stop offset="0.958" stop-color="#f3f5f6"/><stop offset="1.000" stop-color="#f3f5f6"/></linearGradient>
<linearGradient id="b41" gradientUnits="userSpaceOnUse" x1="664.3" y1="471.8" x2="703.3" y2="-24.3"><stop offset="0.000" stop-color="#f6f7f7"/><stop offset="0.042" stop-color="#f6f7f7"/><stop offset="0.083" stop-color="#f6f7f7"/><stop offset="0.125" stop-color="#f6f7f7"/><stop offset="0.167" stop-color="#f5f6f7"/><stop offset="0.208" stop-color="#f5f6f7"/><stop offset="0.250" stop-color="#f5f6f7"/><stop offset="0.292" stop-color="#f5f6f7"/><stop offset="0.333" stop-color="#f5f6f7"/><stop offset="0.375" stop-color="#f5f6f7"/><stop offset="0.417" stop-color="#f5f6f7"/><stop offset="0.458" stop-color="#f5f6f7"/><stop offset="0.500" stop-color="#f5f6f7"/><stop offset="0.542" stop-color="#f5f6f7"/><stop offset="0.583" stop-color="#f5f6f7"/><stop offset="0.625" stop-color="#f5f6f7"/><stop offset="0.667" stop-color="#f5f6f7"/><stop offset="0.708" stop-color="#f5f6f7"/><stop offset="0.750" stop-color="#f5f6f7"/><stop offset="0.792" stop-color="#f5f6f7"/><stop offset="0.833" stop-color="#f5f6f7"/><stop offset="0.875" stop-color="#f5f6f7"/><stop offset="0.917" stop-color="#f5f6f7"/><stop offset="0.958" stop-color="#f5f6f7"/><stop offset="1.000" stop-color="#f5f6f7"/></linearGradient>
<linearGradient id="b42" gradientUnits="userSpaceOnUse" x1="664.1" y1="471.8" x2="698.3" y2="-24.8"><stop offset="0.000" stop-color="#f6f7f7"/><stop offset="0.042" stop-color="#f6f7f7"/><stop offset="0.083" stop-color="#f6f7f7"/><stop offset="0.125" stop-color="#f6f7f7"/><stop offset="0.167" stop-color="#f6f7f7"/><stop offset="0.208" stop-color="#f6f7f7"/><stop offset="0.250" stop-color="#f6f7f7"/><stop offset="0.292" stop-color="#f6f7f7"/><stop offset="0.333" stop-color="#f6f7f7"/><stop offset="0.375" stop-color="#f6f7f7"/><stop offset="0.417" stop-color="#f6f7f7"/><stop offset="0.458" stop-color="#f5f6f7"/><stop offset="0.500" stop-color="#f5f6f7"/><stop offset="0.542" stop-color="#f5f6f7"/><stop offset="0.583" stop-color="#f5f6f7"/><stop offset="0.625" stop-color="#f5f6f7"/><stop offset="0.667" stop-color="#f5f6f7"/><stop offset="0.708" stop-color="#f5f6f7"/><stop offset="0.750" stop-color="#f5f6f7"/><stop offset="0.792" stop-color="#f5f6f7"/><stop offset="0.833" stop-color="#f5f6f7"/><stop offset="0.875" stop-color="#f5f6f7"/><stop offset="0.917" stop-color="#f5f6f7"/><stop offset="0.958" stop-color="#f5f6f7"/><stop offset="1.000" stop-color="#f5f6f7"/></linearGradient>
<linearGradient id="b43" gradientUnits="userSpaceOnUse" x1="664" y1="471.8" x2="693.4" y2="-25.1"><stop offset="0.000" stop-color="#f6f7f7"/><stop offset="0.042" stop-color="#f6f7f7"/><stop offset="0.083" stop-color="#f6f7f7"/><stop offset="0.125" stop-color="#f6f7f7"/><stop offset="0.167" stop-color="#f6f7f7"/><stop offset="0.208" stop-color="#f6f7f7"/><stop offset="0.250" stop-color="#f6f7f7"/><stop offset="0.292" stop-color="#f6f7f7"/><stop offset="0.333" stop-color="#f6f7f7"/><stop offset="0.375" stop-color="#f6f7f7"/><stop offset="0.417" stop-color="#f6f7f7"/><stop offset="0.458" stop-color="#f6f7f7"/><stop offset="0.500" stop-color="#f6f7f7"/><stop offset="0.542" stop-color="#f6f7f7"/><stop offset="0.583" stop-color="#f6f7f7"/><stop offset="0.625" stop-color="#f6f7f7"/><stop offset="0.667" stop-color="#f6f7f7"/><stop offset="0.708" stop-color="#f6f7f7"/><stop offset="0.750" stop-color="#f6f7f7"/><stop offset="0.792" stop-color="#f6f7f7"/><stop offset="0.833" stop-color="#f6f7f7"/><stop offset="0.875" stop-color="#f6f7f7"/><stop offset="0.917" stop-color="#f6f7f7"/><stop offset="0.958" stop-color="#f6f7f7"/><stop offset="1.000" stop-color="#f6f7f7"/></linearGradient>
<linearGradient id="b44" gradientUnits="userSpaceOnUse" x1="663.8" y1="471.8" x2="688.4" y2="-25.4"><stop offset="0.000" stop-color="#f6f7f7"/><stop offset="0.042" stop-color="#f6f7f7"/><stop offset="0.083" stop-color="#f6f7f7"/><stop offset="0.125" stop-color="#f6f7f7"/><stop offset="0.167" stop-color="#f6f7f7"/><stop offset="0.208" stop-color="#f6f7f7"/><stop offset="0.250" stop-color="#f6f7f7"/><stop offset="0.292" stop-color="#f6f7f7"/><stop offset="0.333" stop-color="#f6f7f7"/><stop offset="0.375" stop-color="#f6f7f7"/><stop offset="0.417" stop-color="#f6f7f7"/><stop offset="0.458" stop-color="#f6f7f7"/><stop offset="0.500" stop-color="#f6f7f7"/><stop offset="0.542" stop-color="#f6f7f7"/><stop offset="0.583" stop-color="#f6f7f7"/><stop offset="0.625" stop-color="#f6f7f7"/><stop offset="0.667" stop-color="#f6f7f7"/><stop offset="0.708" stop-color="#f6f7f7"/><stop offset="0.750" stop-color="#f6f7f7"/><stop offset="0.792" stop-color="#f6f7f7"/><stop offset="0.833" stop-color="#f6f7f7"/><stop offset="0.875" stop-color="#f6f7f7"/><stop offset="0.917" stop-color="#f6f7f7"/><stop offset="0.958" stop-color="#f6f7f7"/><stop offset="1.000" stop-color="#f6f7f7"/></linearGradient>
<linearGradient id="b45" gradientUnits="userSpaceOnUse" x1="663.7" y1="471.7" x2="683.4" y2="-25.7"><stop offset="0.000" stop-color="#f7f6f6"/><stop offset="0.042" stop-color="#f7f6f6"/><stop offset="0.083" stop-color="#f7f6f6"/><stop offset="0.125" stop-color="#f7f6f6"/><stop offset="0.167" stop-color="#f7f6f6"/><stop offset="0.208" stop-color="#f7f6f6"/><stop offset="0.250" stop-color="#f7f6f6"/><stop offset="0.292" stop-color="#f7f6f6"/><stop offset="0.333" stop-color="#f7f6f6"/><stop offset="0.375" stop-color="#f7f6f6"/><stop offset="0.417" stop-color="#f7f6f6"/><stop offset="0.458" stop-color="#f7f6f6"/><stop offset="0.500" stop-color="#f7f6f6"/><stop offset="0.542" stop-color="#f7f6f6"/><stop offset="0.583" stop-color="#f7f6f6"/><stop offset="0.625" stop-color="#f7f6f6"/><stop offset="0.667" stop-color="#f7f6f6"/><stop offset="0.708" stop-color="#f7f6f6"/><stop offset="0.750" stop-color="#f7f6f6"/><stop offset="0.792" stop-color="#f7f6f6"/><stop offset="0.833" stop-color="#f7f6f6"/><stop offset="0.875" stop-color="#f7f6f6"/><stop offset="0.917" stop-color="#f7f6f6"/><stop offset="0.958" stop-color="#f7f6f6"/><stop offset="1.000" stop-color="#f7f6f6"/></linearGradient>
<linearGradient id="b46" gradientUnits="userSpaceOnUse" x1="663.5" y1="471.7" x2="678.4" y2="-25.9"><stop offset="0.000" stop-color="#f7f6f6"/><stop offset="0.042" stop-color="#f7f6f6"/><stop offset="0.083" stop-color="#f7f6f6"/><stop offset="0.125" stop-color="#f7f6f6"/><stop offset="0.167" stop-color="#f7f6f6"/><stop offset="0.208" stop-color="#f7f6f6"/><stop offset="0.250" stop-color="#f7f6f6"/><stop offset="0.292" stop-color="#f7f6f6"/><stop offset="0.333" stop-color="#f7f6f6"/><stop offset="0.375" stop-color="#f7f5f4"/><stop offset="0.417" stop-color="#f7f5f4"/><stop offset="0.458" stop-color="#f7f5f4"/><stop offset="0.500" stop-color="#f7f5f4"/><stop offset="0.542" stop-color="#f7f5f4"/><stop offset="0.583" stop-color="#f7f5f4"/><stop offset="0.625" stop-color="#f7f5f4"/><stop offset="0.667" stop-color="#f7f5f4"/><stop offset="0.708" stop-color="#f7f5f4"/><stop offset="0.750" stop-color="#f7f5f4"/><stop offset="0.792" stop-color="#f7f5f4"/><stop offset="0.833" stop-color="#f7f5f4"/><stop offset="0.875" stop-color="#f7f5f4"/><stop offset="0.917" stop-color="#f7f5f4"/><stop offset="0.958" stop-color="#f7f5f4"/><stop offset="1.000" stop-color="#f7f5f4"/></linearGradient>
<linearGradient id="b47" gradientUnits="userSpaceOnUse" x1="663.4" y1="471.7" x2="673.4" y2="-26"><stop offset="0.000" stop-color="#f7f6f6"/><stop offset="0.042" stop-color="#f7f6f6"/><stop offset="0.083" stop-color="#f7f6f6"/><stop offset="0.125" stop-color="#f7f5f4"/><stop offset="0.167" stop-color="#f7f5f4"/><stop offset="0.208" stop-color="#f7f5f4"/><stop offset="0.250" stop-color="#f7f5f4"/><stop offset="0.292" stop-color="#f7f5f4"/><stop offset="0.333" stop-color="#f7f5f4"/><stop offset="0.375" stop-color="#f7f5f4"/><stop offset="0.417" stop-color="#f7f5f4"/><stop offset="0.458" stop-color="#f7f5f4"/><stop offset="0.500" stop-color="#f7f5f4"/><stop offset="0.542" stop-color="#f7f5f4"/><stop offset="0.583" stop-color="#f7f5f4"/><stop offset="0.625" stop-color="#f7f5f4"/><stop offset="0.667" stop-color="#f7f5f4"/><stop offset="0.708" stop-color="#f7f5f4"/><stop offset="0.750" stop-color="#f7f5f4"/><stop offset="0.792" stop-color="#f7f5f4"/><stop offset="0.833" stop-color="#f7f5f4"/><stop offset="0.875" stop-color="#f7f5f4"/><stop offset="0.917" stop-color="#f7f5f4"/><stop offset="0.958" stop-color="#f7f5f4"/><stop offset="1.000" stop-color="#f7f5f4"/></linearGradient>
<linearGradient id="b48" gradientUnits="userSpaceOnUse" x1="663.2" y1="471.7" x2="668.4" y2="-26.1"><stop offset="0.000" stop-color="#f7f5f4"/><stop offset="0.042" stop-color="#f7f5f4"/><stop offset="0.083" stop-color="#f7f5f4"/><stop offset="0.125" stop-color="#f7f5f4"/><stop offset="0.167" stop-color="#f7f5f4"/><stop offset="0.208" stop-color="#f7f5f4"/><stop offset="0.250" stop-color="#f7f5f4"/><stop offset="0.292" stop-color="#f7f5f4"/><stop offset="0.333" stop-color="#f7f5f4"/><stop offset="0.375" stop-color="#f8f4f2"/><stop offset="0.417" stop-color="#f8f4f2"/><stop offset="0.458" stop-color="#f8f4f2"/><stop offset="0.500" stop-color="#f8f4f2"/><stop offset="0.542" stop-color="#f8f4f2"/><stop offset="0.583" stop-color="#f8f4f2"/><stop offset="0.625" stop-color="#f8f4f2"/><stop offset="0.667" stop-color="#f8f4f2"/><stop offset="0.708" stop-color="#f8f4f2"/><stop offset="0.750" stop-color="#f8f4f2"/><stop offset="0.792" stop-color="#f8f4f2"/><stop offset="0.833" stop-color="#f8f4f2"/><stop offset="0.875" stop-color="#f8f4f2"/><stop offset="0.917" stop-color="#f8f4f2"/><stop offset="0.958" stop-color="#f8f4f2"/><stop offset="1.000" stop-color="#f8f4f2"/></linearGradient>
<linearGradient id="b49" gradientUnits="userSpaceOnUse" x1="663" y1="471.7" x2="663.3" y2="-26.2"><stop offset="0.000" stop-color="#f7f5f4"/><stop offset="0.042" stop-color="#f7f5f4"/><stop offset="0.083" stop-color="#f7f5f4"/><stop offset="0.125" stop-color="#f7f5f4"/><stop offset="0.167" stop-color="#f7f5f4"/><stop offset="0.208" stop-color="#f8f4f2"/><stop offset="0.250" stop-color="#f8f4f2"/><stop offset="0.292" stop-color="#f8f4f2"/><stop offset="0.333" stop-color="#f8f4f2"/><stop offset="0.375" stop-color="#f8f4f2"/><stop offset="0.417" stop-color="#f8f4f2"/><stop offset="0.458" stop-color="#f8f4f2"/><stop offset="0.500" stop-color="#f8f4f2"/><stop offset="0.542" stop-color="#f8f4f2"/><stop offset="0.583" stop-color="#f8f4f2"/><stop offset="0.625" stop-color="#f8f4f2"/><stop offset="0.667" stop-color="#f8f4f2"/><stop offset="0.708" stop-color="#f8f4f2"/><stop offset="0.750" stop-color="#f8f4f2"/><stop offset="0.792" stop-color="#f8f4f2"/><stop offset="0.833" stop-color="#f8f4f2"/><stop offset="0.875" stop-color="#f8f4f2"/><stop offset="0.917" stop-color="#f8f4f2"/><stop offset="0.958" stop-color="#f8f4f2"/><stop offset="1.000" stop-color="#f8f4f2"/></linearGradient>
<linearGradient id="b50" gradientUnits="userSpaceOnUse" x1="662.9" y1="471.7" x2="658.3" y2="-26.1"><stop offset="0.000" stop-color="#f8f4f2"/><stop offset="0.042" stop-color="#f8f4f2"/><stop offset="0.083" stop-color="#f8f4f2"/><stop offset="0.125" stop-color="#f8f4f2"/><stop offset="0.167" stop-color="#f8f3f0"/><stop offset="0.208" stop-color="#f8f3f0"/><stop offset="0.250" stop-color="#f8f3f0"/><stop offset="0.292" stop-color="#f8f3f0"/><stop offset="0.333" stop-color="#f8f3f0"/><stop offset="0.375" stop-color="#f8f3f0"/><stop offset="0.417" stop-color="#f8f3f0"/><stop offset="0.458" stop-color="#f8f3f0"/><stop offset="0.500" stop-color="#f8f3f0"/><stop offset="0.542" stop-color="#f8f3f0"/><stop offset="0.583" stop-color="#f8f3f0"/><stop offset="0.625" stop-color="#f8f3f0"/><stop offset="0.667" stop-color="#f8f3f0"/><stop offset="0.708" stop-color="#f8f3f0"/><stop offset="0.750" stop-color="#f8f3f0"/><stop offset="0.792" stop-color="#f8f3f0"/><stop offset="0.833" stop-color="#f8f3f0"/><stop offset="0.875" stop-color="#f8f3f0"/><stop offset="0.917" stop-color="#f8f3f0"/><stop offset="0.958" stop-color="#f8f3f0"/><stop offset="1.000" stop-color="#f8f3f0"/></linearGradient>
<linearGradient id="b51" gradientUnits="userSpaceOnUse" x1="662.7" y1="471.7" x2="653.3" y2="-26.1"><stop offset="0.000" stop-color="#f8f4f2"/><stop offset="0.042" stop-color="#f8f3f0"/><stop offset="0.083" stop-color="#f8f3f0"/><stop offset="0.125" stop-color="#f8f3f0"/><stop offset="0.167" stop-color="#f8f3f0"/><stop offset="0.208" stop-color="#f8f3f0"/><stop offset="0.250" stop-color="#f8f3f0"/><stop offset="0.292" stop-color="#f8f3f0"/><stop offset="0.333" stop-color="#f8f3f0"/><stop offset="0.375" stop-color="#f8f3f0"/><stop offset="0.417" stop-color="#f8f3f0"/><stop offset="0.458" stop-color="#f8f3f0"/><stop offset="0.500" stop-color="#f8f3f0"/><stop offset="0.542" stop-color="#f8f3f0"/><stop offset="0.583" stop-color="#f8f3f0"/><stop offset="0.625" stop-color="#f8f3f0"/><stop offset="0.667" stop-color="#f8f2ef"/><stop offset="0.708" stop-color="#f8f3f0"/><stop offset="0.750" stop-color="#f8f2ef"/><stop offset="0.792" stop-color="#f8f3f0"/><stop offset="0.833" stop-color="#f8f2ef"/><stop offset="0.875" stop-color="#f8f2ef"/><stop offset="0.917" stop-color="#f8f2ef"/><stop offset="0.958" stop-color="#f8f2ef"/><stop offset="1.000" stop-color="#f8f3f0"/></linearGradient>
<linearGradient id="b52" gradientUnits="userSpaceOnUse" x1="662.6" y1="471.7" x2="648.3" y2="-25.9"><stop offset="0.000" stop-color="#f8f3f0"/><stop offset="0.042" stop-color="#f8f3f0"/><stop offset="0.083" stop-color="#f8f3f0"/><stop offset="0.125" stop-color="#f8f3f0"/><stop offset="0.167" stop-color="#f8f2ef"/><stop offset="0.208" stop-color="#f8f2ef"/><stop offset="0.250" stop-color="#f8f2ef"/><stop offset="0.292" stop-color="#f8f2ef"/><stop offset="0.333" stop-color="#f8f2ef"/><stop offset="0.375" stop-color="#f8f2ef"/><stop offset="0.417" stop-color="#f8f2ef"/><stop offset="0.458" stop-color="#f8f2ef"/><stop offset="0.500" stop-color="#f8f2ef"/><stop offset="0.542" stop-color="#f8f2ef"/><stop offset="0.583" stop-color="#f8f2ef"/><stop offset="0.625" stop-color="#f8f2ef"/><stop offset="0.667" stop-color="#f8f2ef"/><stop offset="0.708" stop-color="#f8f2ef"/><stop offset="0.750" stop-color="#f8f2ef"/><stop offset="0.792" stop-color="#f8f2ef"/><stop offset="0.833" stop-color="#f8f2ef"/><stop offset="0.875" stop-color="#f8f2ef"/><stop offset="0.917" stop-color="#f8f2ef"/><stop offset="0.958" stop-color="#f8f2ef"/><stop offset="1.000" stop-color="#f8f2ef"/></linearGradient>
<linearGradient id="b53" gradientUnits="userSpaceOnUse" x1="662.4" y1="471.7" x2="643.3" y2="-25.7"><stop offset="0.000" stop-color="#f8f3f0"/><stop offset="0.042" stop-color="#f8f2ef"/><stop offset="0.083" stop-color="#f8f2ef"/><stop offset="0.125" stop-color="#f8f2ef"/><stop offset="0.167" stop-color="#f8f2ef"/><stop offset="0.208" stop-color="#f8f2ef"/><stop offset="0.250" stop-color="#f8f2ef"/><stop offset="0.292" stop-color="#f8f2ef"/><stop offset="0.333" stop-color="#f8f2ef"/><stop offset="0.375" stop-color="#f8f1ed"/><stop offset="0.417" stop-color="#f8f1ed"/><stop offset="0.458" stop-color="#f8f2ef"/><stop offset="0.500" stop-color="#f8f1ed"/><stop offset="0.542" stop-color="#f8f1ed"/><stop offset="0.583" stop-color="#f8f1ed"/><stop offset="0.625" stop-color="#f8f1ed"/><stop offset="0.667" stop-color="#f8f1ed"/><stop offset="0.708" stop-color="#f8f1ed"/><stop offset="0.750" stop-color="#f8f1ed"/><stop offset="0.792" stop-color="#f8f1ed"/><stop offset="0.833" stop-color="#f8f1ed"/><stop offset="0.875" stop-color="#f8f1ed"/><stop offset="0.917" stop-color="#f8f1ed"/><stop offset="0.958" stop-color="#f8f1ed"/><stop offset="1.000" stop-color="#f8f1ed"/></linearGradient>
<linearGradient id="b54" gradientUnits="userSpaceOnUse" x1="662.2" y1="471.8" x2="638.3" y2="-25.5"><stop offset="0.000" stop-color="#f8f2ef"/><stop offset="0.042" stop-color="#f8f2ef"/><stop offset="0.083" stop-color="#f8f2ef"/><stop offset="0.125" stop-color="#f8f2ef"/><stop offset="0.167" stop-color="#f8f2ef"/><stop offset="0.208" stop-color="#f8f1ed"/><stop offset="0.250" stop-color="#f8f1ed"/><stop offset="0.292" stop-color="#f8f1ed"/><stop offset="0.333" stop-color="#f8f1ed"/><stop offset="0.375" stop-color="#f8f1ed"/><stop offset="0.417" stop-color="#f8f1ed"/><stop offset="0.458" stop-color="#f8f1ed"/><stop offset="0.500" stop-color="#f8f1ed"/><stop offset="0.542" stop-color="#f8f1ed"/><stop offset="0.583" stop-color="#f8f1ed"/><stop offset="0.625" stop-color="#f8f1ed"/><stop offset="0.667" stop-color="#f8f1ed"/><stop offset="0.708" stop-color="#f8f1ed"/><stop offset="0.750" stop-color="#f8f1ed"/><stop offset="0.792" stop-color="#f8f1ed"/><stop offset="0.833" stop-color="#f8f1ed"/><stop offset="0.875" stop-color="#f8f1ed"/><stop offset="0.917" stop-color="#f8f1ed"/><stop offset="0.958" stop-color="#f8f1ed"/><stop offset="1.000" stop-color="#f8f1ed"/></linearGradient>
<linearGradient id="b55" gradientUnits="userSpaceOnUse" x1="662.1" y1="471.8" x2="633.3" y2="-25.2"><stop offset="0.000" stop-color="#f8f2ef"/><stop offset="0.042" stop-color="#f8f2ef"/><stop offset="0.083" stop-color="#f8f1ed"/><stop offset="0.125" stop-color="#f8f1ed"/><stop offset="0.167" stop-color="#f8f1ed"/><stop offset="0.208" stop-color="#f8f1ed"/><stop offset="0.250" stop-color="#f8f1ed"/><stop offset="0.292" stop-color="#f8f1ed"/><stop offset="0.333" stop-color="#f8f1ed"/><stop offset="0.375" stop-color="#f9f0eb"/><stop offset="0.417" stop-color="#f9f0eb"/><stop offset="0.458" stop-color="#f9f0eb"/><stop offset="0.500" stop-color="#f9f0eb"/><stop offset="0.542" stop-color="#f9f0eb"/><stop offset="0.583" stop-color="#f9f0eb"/><stop offset="0.625" stop-color="#f9f0eb"/><stop offset="0.667" stop-color="#f9f0eb"/><stop offset="0.708" stop-color="#f9f0eb"/><stop offset="0.750" stop-color="#f9f0eb"/><stop offset="0.792" stop-color="#f9f0eb"/><stop offset="0.833" stop-color="#f9f0eb"/><stop offset="0.875" stop-color="#f9f0eb"/><stop offset="0.917" stop-color="#f9f0eb"/><stop offset="0.958" stop-color="#f9f0eb"/><stop offset="1.000" stop-color="#f9f0eb"/></linearGradient>
<linearGradient id="b56" gradientUnits="userSpaceOnUse" x1="661.9" y1="471.8" x2="628.3" y2="-24.8"><stop offset="0.000" stop-color="#f8f2ef"/><stop offset="0.042" stop-color="#f8f1ed"/><stop offset="0.083" stop-color="#f8f1ed"/><stop offset="0.125" stop-color="#f8f1ed"/><stop offset="0.167" stop-color="#f8f1ed"/><stop offset="0.208" stop-color="#f9f0eb"/><stop offset="0.250" stop-color="#f9f0eb"/><stop offset="0.292" stop-color="#f9f0eb"/><stop offset="0.333" stop-color="#f9f0eb"/><stop offset="0.375" stop-color="#f9f0eb"/><stop offset="0.417" stop-color="#f9f0eb"/><stop offset="0.458" stop-color="#f9f0eb"/><stop offset="0.500" stop-color="#f9f0eb"/><stop offset="0.542" stop-color="#f9f0eb"/><stop offset="0.583" stop-color="#f9f0eb"/><stop offset="0.625" stop-color="#f9f0eb"/><stop offset="0.667" stop-color="#f9f0eb"/><stop offset="0.708" stop-color="#f9f0eb"/><stop offset="0.750" stop-color="#f9f0eb"/><stop offset="0.792" stop-color="#f9f0eb"/><stop offset="0.833" stop-color="#f9f0eb"/><stop offset="0.875" stop-color="#f9f0eb"/><stop offset="0.917" stop-color="#f9f0eb"/><stop offset="0.958" stop-color="#f9f0eb"/><stop offset="1.000" stop-color="#f9f0eb"/></linearGradient>
<linearGradient id="b57" gradientUnits="userSpaceOnUse" x1="661.8" y1="471.8" x2="623.4" y2="-24.4"><stop offset="0.000" stop-color="#f8f1ed"/><stop offset="0.042" stop-color="#f8f1ed"/><stop offset="0.083" stop-color="#f9f0eb"/><stop offset="0.125" stop-color="#f9f0eb"/><stop offset="0.167" stop-color="#f9f0eb"/><stop offset="0.208" stop-color="#f9f0eb"/><stop offset="0.250" stop-color="#f9f0eb"/><stop offset="0.292" stop-color="#f9efe9"/><stop offset="0.333" stop-color="#f9efe9"/><stop offset="0.375" stop-color="#f9efe9"/><stop offset="0.417" stop-color="#f9efe9"/><stop offset="0.458" stop-color="#f9efe9"/><stop offset="0.500" stop-color="#f9efe9"/><stop offset="0.542" stop-color="#f9efe9"/><stop offset="0.583" stop-color="#f9efe9"/><stop offset="0.625" stop-color="#f9efe9"/><stop offset="0.667" stop-color="#f9efe9"/><stop offset="0.708" stop-color="#f9efe9"/><stop offset="0.750" stop-color="#f9efe9"/><stop offset="0.792" stop-color="#f9efe9"/><stop offset="0.833" stop-color="#f9efe9"/><stop offset="0.875" stop-color="#f9efe9"/><stop offset="0.917" stop-color="#f9efe9"/><stop offset="0.958" stop-color="#f9efe9"/><stop offset="1.000" stop-color="#f9efe9"/></linearGradient>
<linearGradient id="b58" gradientUnits="userSpaceOnUse" x1="661.6" y1="471.8" x2="618.4" y2="-23.9"><stop offset="0.000" stop-color="#f8f1ed"/><stop offset="0.042" stop-color="#f9f0eb"/><stop offset="0.083" stop-color="#f9f0eb"/><stop offset="0.125" stop-color="#f9f0eb"/><stop offset="0.167" stop-color="#f9efe9"/><stop offset="0.208" stop-color="#f9efe9"/><stop offset="0.250" stop-color="#f9efe9"/><stop offset="0.292" stop-color="#f9efe9"/><stop offset="0.333" stop-color="#f9efe9"/><stop offset="0.375" stop-color="#f9efe9"/><stop offset="0.417" stop-color="#f9efe9"/><stop offset="0.458" stop-color="#f9eee7"/><stop offset="0.500" stop-color="#f9efe9"/><stop offset="0.542" stop-color="#f9efe9"/><stop offset="0.583" stop-color="#f9efe9"/><stop offset="0.625" stop-color="#f9eee7"/><stop offset="0.667" stop-color="#f9efe9"/><stop offset="0.708" stop-color="#f9eee7"/><stop offset="0.750" stop-color="#f9eee7"/><stop offset="0.792" stop-color="#f9eee7"/><stop offset="0.833" stop-color="#f9eee7"/><stop offset="0.875" stop-color="#f9eee7"/><stop offset="0.917" stop-color="#f9eee7"/><stop offset="0.958" stop-color="#f9eee7"/><stop offset="1.000" stop-color="#f9eee7"/></linearGradient>
<linearGradient id="b59" gradientUnits="userSpaceOnUse" x1="661.4" y1="471.8" x2="613.4" y2="-23.4"><stop offset="0.000" stop-color="#f9f0eb"/><stop offset="0.042" stop-color="#f9f0eb"/><stop offset="0.083" stop-color="#f9f0eb"/><stop offset="0.125" stop-color="#f9efe9"/><stop offset="0.167" stop-color="#f9efe9"/><stop offset="0.208" stop-color="#f9efe9"/><stop offset="0.250" stop-color="#f9eee7"/><stop offset="0.292" stop-color="#f9efe9"/><stop offset="0.333" stop-color="#f9eee7"/><stop offset="0.375" stop-color="#f9eee7"/><stop offset="0.417" stop-color="#f9eee7"/><stop offset="0.458" stop-color="#f9eee7"/><stop offset="0.500" stop-color="#f9eee7"/><stop offset="0.542" stop-color="#f9eee7"/><stop offset="0.583" stop-color="#f9eee7"/><stop offset="0.625" stop-color="#f9eee7"/><stop offset="0.667" stop-color="#f9eee7"/><stop offset="0.708" stop-color="#f9eee7"/><stop offset="0.750" stop-color="#f9eee7"/><stop offset="0.792" stop-color="#f9eee7"/><stop offset="0.833" stop-color="#f9eee7"/><stop offset="0.875" stop-color="#f9eee7"/><stop offset="0.917" stop-color="#f9eee7"/><stop offset="0.958" stop-color="#f9eee7"/><stop offset="1.000" stop-color="#f9eee7"/></linearGradient>
<linearGradient id="b60" gradientUnits="userSpaceOnUse" x1="661.3" y1="471.8" x2="608.4" y2="-22.8"><stop offset="0.000" stop-color="#f9f0eb"/><stop offset="0.042" stop-color="#f9efe9"/><stop offset="0.083" stop-color="#f9efe9"/><stop offset="0.125" stop-color="#f9efe9"/><stop offset="0.167" stop-color="#f9eee7"/><stop offset="0.208" stop-color="#f9eee7"/><stop offset="0.250" stop-color="#f9eee7"/><stop offset="0.292" stop-color="#f9eee7"/><stop offset="0.333" stop-color="#f9eee7"/><stop offset="0.375" stop-color="#f9eee7"/><stop offset="0.417" stop-color="#f9eee7"/><stop offset="0.458" stop-color="#f9eee7"/><stop offset="0.500" stop-color="#f9ede5"/><stop offset="0.542" stop-color="#f9ede5"/><stop offset="0.583" stop-color="#f9ede5"/><stop offset="0.625" stop-color="#f9ede5"/><stop offset="0.667" stop-color="#f9eee7"/><stop offset="0.708" stop-color="#f9ede5"/><stop offset="0.750" stop-color="#f9eee7"/><stop offset="0.792" stop-color="#f9ede5"/><stop offset="0.833" stop-color="#f9ede5"/><stop offset="0.875" stop-color="#f9eee7"/><stop offset="0.917" stop-color="#f9ede5"/><stop offset="0.958" stop-color="#f9ede5"/><stop offset="1.000" stop-color="#f9ede5"/></linearGradient>
<linearGradient id="b61" gradientUnits="userSpaceOnUse" x1="661.1" y1="471.9" x2="603.4" y2="-22.2"><stop offset="0.000" stop-color="#f9f0eb"/><stop offset="0.042" stop-color="#f9efe9"/><stop offset="0.083" stop-color="#f9efe9"/><stop offset="0.125" stop-color="#f9eee7"/><stop offset="0.167" stop-color="#f9eee7"/><stop offset="0.208" stop-color="#f9eee7"/><stop offset="0.250" stop-color="#f9ede5"/><stop offset="0.292" stop-color="#f9eee7"/><stop offset="0.333" stop-color="#f9ede5"/><stop offset="0.375" stop-color="#f9ede5"/><stop offset="0.417" stop-color="#f9ede5"/><stop offset="0.458" stop-color="#f9ede5"/><stop offset="0.500" stop-color="#f9ede5"/><stop offset="0.542" stop-color="#f9ede5"/><stop offset="0.583" stop-color="#f9ede5"/><stop offset="0.625" stop-color="#f9ede5"/><stop offset="0.667" stop-color="#f9ede5"/><stop offset="0.708" stop-color="#f9ede5"/><stop offset="0.750" stop-color="#f9ede5"/><stop offset="0.792" stop-color="#f9ede5"/><stop offset="0.833" stop-color="#f9ede5"/><stop offset="0.875" stop-color="#f9ede5"/><stop offset="0.917" stop-color="#f9ede5"/><stop offset="0.958" stop-color="#f9ede5"/><stop offset="1.000" stop-color="#f9ede5"/></linearGradient>
<linearGradient id="b62" gradientUnits="userSpaceOnUse" x1="661" y1="471.9" x2="598.5" y2="-21.5"><stop offset="0.000" stop-color="#f9efe9"/><stop offset="0.042" stop-color="#f9efe9"/><stop offset="0.083" stop-color="#f9eee7"/><stop offset="0.125" stop-color="#f9eee7"/><stop offset="0.167" stop-color="#f9ede5"/><stop offset="0.208" stop-color="#f9ede5"/><stop offset="0.250" stop-color="#f9ede5"/><stop offset="0.292" stop-color="#f9ede5"/><stop offset="0.333" stop-color="#f9ede5"/><stop offset="0.375" stop-color="#f9ebe3"/><stop offset="0.417" stop-color="#f9ede5"/><stop offset="0.458" stop-color="#f9ede5"/><stop offset="0.500" stop-color="#f9ede5"/><stop offset="0.542" stop-color="#f9ebe3"/><stop offset="0.583" stop-color="#f9ebe3"/><stop offset="0.625" stop-color="#f9ede5"/><stop offset="0.667" stop-color="#f9ebe3"/><stop offset="0.708" stop-color="#f9ebe3"/><stop offset="0.750" stop-color="#f9ebe3"/><stop offset="0.792" stop-color="#f9ebe3"/><stop offset="0.833" stop-color="#f9ede5"/><stop offset="0.875" stop-color="#f9ebe3"/><stop offset="0.917" stop-color="#f9ede5"/><stop offset="0.958" stop-color="#f9ebe3"/><stop offset="1.000" stop-color="#f9ebe3"/></linearGradient>
<linearGradient id="b63" gradientUnits="userSpaceOnUse" x1="660.8" y1="471.9" x2="593.5" y2="-20.7"><stop offset="0.000" stop-color="#f9efe9"/><stop offset="0.042" stop-color="#f9eee7"/><stop offset="0.083" stop-color="#f9eee7"/><stop offset="0.125" stop-color="#f9ede5"/><stop offset="0.167" stop-color="#f9ede5"/><stop offset="0.208" stop-color="#f9ede5"/><stop offset="0.250" stop-color="#f9ede5"/><stop offset="0.292" stop-color="#f9ebe3"/><stop offset="0.333" stop-color="#f9ebe3"/><stop offset="0.375" stop-color="#f9ebe3"/><stop offset="0.417" stop-color="#f9ebe3"/><stop offset="0.458" stop-color="#f9ebe3"/><stop offset="0.500" stop-color="#f9ebe3"/><stop offset="0.542" stop-color="#f9ebe3"/><stop offset="0.583" stop-color="#f9ebe3"/><stop offset="0.625" stop-color="#f9ebe3"/><stop offset="0.667" stop-color="#f9ebe3"/><stop offset="0.708" stop-color="#f9ebe3"/><stop offset="0.750" stop-color="#f9ebe3"/><stop offset="0.792" stop-color="#f9ebe3"/><stop offset="0.833" stop-color="#f9ebe3"/><stop offset="0.875" stop-color="#f9ebe3"/><stop offset="0.917" stop-color="#f9ebe3"/><stop offset="0.958" stop-color="#f9ebe3"/><stop offset="1.000" stop-color="#f9ebe3"/></linearGradient>
<linearGradient id="b64" gradientUnits="userSpaceOnUse" x1="660.7" y1="471.9" x2="588.6" y2="-19.9"><stop offset="0.000" stop-color="#f9eee7"/><stop offset="0.042" stop-color="#f9eee7"/><stop offset="0.083" stop-color="#f9ede5"/><stop offset="0.125" stop-color="#f9ebe3"/><stop offset="0.167" stop-color="#f9ebe3"/><stop offset="0.208" stop-color="#f9ebe3"/><stop offset="0.250" stop-color="#f9ebe3"/><stop offset="0.292" stop-color="#f9ebe3"/><stop offset="0.333" stop-color="#f9ebe3"/><stop offset="0.375" stop-color="#faeae1"/><stop offset="0.417" stop-color="#faeae1"/><stop offset="0.458" stop-color="#faeae1"/><stop offset="0.500" stop-color="#faeae1"/><stop offset="0.542" stop-color="#faeae1"/><stop offset="0.583" stop-color="#faeae1"/><stop offset="0.625" stop-color="#faeae1"/><stop offset="0.667" stop-color="#faeae1"/><stop offset="0.708" stop-color="#faeae1"/><stop offset="0.750" stop-color="#faeae1"/><stop offset="0.792" stop-color="#faeae1"/><stop offset="0.833" stop-color="#faeae1"/><stop offset="0.875" stop-color="#faeae1"/><stop offset="0.917" stop-color="#faeae1"/><stop offset="0.958" stop-color="#faeae1"/><stop offset="1.000" stop-color="#faeae1"/></linearGradient>
<linearGradient id="b65" gradientUnits="userSpaceOnUse" x1="660.5" y1="472" x2="583.6" y2="-19"><stop offset="0.000" stop-color="#f9eee7"/><stop offset="0.042" stop-color="#f9ede5"/><stop offset="0.083" stop-color="#f9ede5"/><stop offset="0.125" stop-color="#f9ebe3"/><stop offset="0.167" stop-color="#f9ebe3"/><stop offset="0.208" stop-color="#faeae1"/><stop offset="0.250" stop-color="#faeae1"/><stop offset="0.292" stop-color="#faeae1"/><stop offset="0.333" stop-color="#faeae1"/><stop offset="0.375" stop-color="#faeae1"/><stop offset="0.417" stop-color="#faeae1"/><stop offset="0.458" stop-color="#faeae1"/><stop offset="0.500" stop-color="#faeae1"/><stop offset="0.542" stop-color="#faeae1"/><stop offset="0.583" stop-color="#faeae1"/><stop offset="0.625" stop-color="#faeae1"/><stop offset="0.667" stop-color="#fae9df"/><stop offset="0.708" stop-color="#fae9df"/><stop offset="0.750" stop-color="#fae9df"/><stop offset="0.792" stop-color="#faeae1"/><stop offset="0.833" stop-color="#fae9df"/><stop offset="0.875" stop-color="#fae9df"/><stop offset="0.917" stop-color="#faeae1"/><stop offset="0.958" stop-color="#faeae1"/><stop offset="1.000" stop-color="#faeae1"/></linearGradient>
<linearGradient id="b66" gradientUnits="userSpaceOnUse" x1="660.3" y1="472" x2="578.7" y2="-18.1"><stop offset="0.000" stop-color="#f9eee7"/><stop offset="0.042" stop-color="#f9ede5"/><stop offset="0.083" stop-color="#f9ede5"/><stop offset="0.125" stop-color="#f9ebe3"/><stop offset="0.167" stop-color="#f9ebe3"/><stop offset="0.208" stop-color="#faeae1"/><stop offset="0.250" stop-color="#faeae1"/><stop offset="0.292" stop-color="#faeae1"/><stop offset="0.333" stop-color="#faeae1"/><stop offset="0.375" stop-color="#faeae1"/><stop offset="0.417" stop-color="#faeae1"/><stop offset="0.458" stop-color="#faeae1"/><stop offset="0.500" stop-color="#fae9df"/><stop offset="0.542" stop-color="#fae9df"/><stop offset="0.583" stop-color="#fae9df"/><stop offset="0.625" stop-color="#fae9df"/><stop offset="0.667" stop-color="#fae9df"/><stop offset="0.708" stop-color="#faeae1"/><stop offset="0.750" stop-color="#fae9df"/><stop offset="0.792" stop-color="#fae9df"/><stop offset="0.833" stop-color="#fae9df"/><stop offset="0.875" stop-color="#fae9df"/><stop offset="0.917" stop-color="#fae9df"/><stop offset="0.958" stop-color="#fae9df"/><stop offset="1.000" stop-color="#fae9df"/></linearGradient>
<linearGradient id="b67" gradientUnits="userSpaceOnUse" x1="660.2" y1="472" x2="573.8" y2="-17.1"><stop offset="0.000" stop-color="#f9eee7"/><stop offset="0.042" stop-color="#f9ede5"/><stop offset="0.083" stop-color="#f9ebe3"/><stop offset="0.125" stop-color="#f9ebe3"/><stop offset="0.167" stop-color="#faeae1"/><stop offset="0.208" stop-color="#faeae1"/><stop offset="0.250" stop-color="#faeae1"/><stop offset="0.292" stop-color="#faeae1"/><stop offset="0.333" stop-color="#fae9df"/><stop offset="0.375" stop-color="#fae9df"/><stop offset="0.417" stop-color="#fae9df"/><stop offset="0.458" stop-color="#fae9df"/><stop offset="0.500" stop-color="#fae9df"/><stop offset="0.542" stop-color="#fae9df"/><stop offset="0.583" stop-color="#fae9df"/><stop offset="0.625" stop-color="#fae9df"/><stop offset="0.667" stop-color="#fae9df"/><stop offset="0.708" stop-color="#fae9df"/><stop offset="0.750" stop-color="#fae9df"/><stop offset="0.792" stop-color="#fae9df"/><stop offset="0.833" stop-color="#fae9df"/><stop offset="0.875" stop-color="#fae9df"/><stop offset="0.917" stop-color="#fae9df"/><stop offset="0.958" stop-color="#fae9df"/><stop offset="1.000" stop-color="#fae9df"/></linearGradient>
<linearGradient id="b68" gradientUnits="userSpaceOnUse" x1="660" y1="472" x2="568.9" y2="-16.1"><stop offset="0.000" stop-color="#f9ede5"/><stop offset="0.042" stop-color="#f9ede5"/><stop offset="0.083" stop-color="#faeae1"/><stop offset="0.125" stop-color="#faeae1"/><stop offset="0.167" stop-color="#faeae1"/><stop offset="0.208" stop-color="#fae9df"/><stop offset="0.250" stop-color="#fae9df"/><stop offset="0.292" stop-color="#fae9df"/><stop offset="0.333" stop-color="#fae8de"/><stop offset="0.375" stop-color="#fae9df"/><stop offset="0.417" stop-color="#fae8de"/><stop offset="0.458" stop-color="#fae8de"/><stop offset="0.500" stop-color="#fae8de"/><stop offset="0.542" stop-color="#fae8de"/><stop offset="0.583" stop-color="#fae8de"/><stop offset="0.625" stop-color="#fae8de"/><stop offset="0.667" stop-color="#fae8de"/><stop offset="0.708" stop-color="#fae8de"/><stop offset="0.750" stop-color="#fae8de"/><stop offset="0.792" stop-color="#fae8de"/><stop offset="0.833" stop-color="#fae8de"/><stop offset="0.875" stop-color="#fae8de"/><stop offset="0.917" stop-color="#fae8de"/><stop offset="0.958" stop-color="#fae8de"/><stop offset="1.000" stop-color="#fae8de"/></linearGradient>
<linearGradient id="b69" gradientUnits="userSpaceOnUse" x1="659.9" y1="472.1" x2="564" y2="-15"><stop offset="0.000" stop-color="#f9ede5"/><stop offset="0.042" stop-color="#f9ebe3"/><stop offset="0.083" stop-color="#faeae1"/><stop offset="0.125" stop-color="#faeae1"/><stop offset="0.167" stop-color="#fae9df"/><stop offset="0.208" stop-color="#fae9df"/><stop offset="0.250" stop-color="#fae9df"/><stop offset="0.292" stop-color="#fae8de"/><stop offset="0.333" stop-color="#fae8de"/><stop offset="0.375" stop-color="#fae8de"/><stop offset="0.417" stop-color="#fae8de"/><stop offset="0.458" stop-color="#fae8de"/><stop offset="0.500" stop-color="#fae8de"/><stop offset="0.542" stop-color="#fae8de"/><stop offset="0.583" stop-color="#fae7dc"/><stop offset="0.625" stop-color="#fae8de"/><stop offset="0.667" stop-color="#fae8de"/><stop offset="0.708" stop-color="#fae8de"/><stop offset="0.750" stop-color="#fae8de"/><stop offset="0.792" stop-color="#fae8de"/><stop offset="0.833" stop-color="#fae7dc"/><stop offset="0.875" stop-color="#fae7dc"/><stop offset="0.917" stop-color="#fae8de"/><stop offset="0.958" stop-color="#fae8de"/><stop offset="1.000" stop-color="#fae7dc"/></linearGradient>
<linearGradient id="b70" gradientUnits="userSpaceOnUse" x1="659.7" y1="472.1" x2="559.1" y2="-13.9"><stop offset="0.000" stop-color="#f9ebe3"/><stop offset="0.042" stop-color="#faeae1"/><stop offset="0.083" stop-color="#faeae1"/><stop offset="0.125" stop-color="#fae9df"/><stop offset="0.167" stop-color="#fae8de"/><stop offset="0.208" stop-color="#fae9df"/><stop offset="0.250" stop-color="#fae8de"/><stop offset="0.292" stop-color="#fae8de"/><stop offset="0.333" stop-color="#fae8de"/><stop offset="0.375" stop-color="#fae8de"/><stop offset="0.417" stop-color="#fae7dc"/><stop offset="0.458" stop-color="#fae7dc"/><stop offset="0.500" stop-color="#fae7dc"/><stop offset="0.542" stop-color="#fae7dc"/><stop offset="0.583" stop-color="#fae7dc"/><stop offset="0.625" stop-color="#fae7dc"/><stop offset="0.667" stop-color="#fae7dc"/><stop offset="0.708" stop-color="#fae7dc"/><stop offset="0.750" stop-color="#fae7dc"/><stop offset="0.792" stop-color="#fae7dc"/><stop offset="0.833" stop-color="#fae7dc"/><stop offset="0.875" stop-color="#fae7dc"/><stop offset="0.917" stop-color="#fae7dc"/><stop offset="0.958" stop-color="#fae7dc"/><stop offset="1.000" stop-color="#fae7dc"/></linearGradient>
<linearGradient id="b71" gradientUnits="userSpaceOnUse" x1="659.6" y1="472.2" x2="554.2" y2="-12.7"><stop offset="0.000" stop-color="#f9ebe3"/><stop offset="0.042" stop-color="#faeae1"/><stop offset="0.083" stop-color="#faeae1"/><stop offset="0.125" stop-color="#fae9df"/><stop offset="0.167" stop-color="#fae8de"/><stop offset="0.208" stop-color="#fae8de"/><stop offset="0.250" stop-color="#fae8de"/><stop offset="0.292" stop-color="#fae7dc"/><stop offset="0.333" stop-color="#fae7dc"/><stop offset="0.375" stop-color="#fae7dc"/><stop offset="0.417" stop-color="#fae7dc"/><stop offset="0.458" stop-color="#fae7dc"/><stop offset="0.500" stop-color="#fae7dc"/><stop offset="0.542" stop-color="#fae7dc"/><stop offset="0.583" stop-color="#fbe6da"/><stop offset="0.625" stop-color="#fae7dc"/><stop offset="0.667" stop-color="#fae7dc"/><stop offset="0.708" stop-color="#fae7dc"/><stop offset="0.750" stop-color="#fbe6da"/><stop offset="0.792" stop-color="#fae7dc"/><stop offset="0.833" stop-color="#fae7dc"/><stop offset="0.875" stop-color="#fae7dc"/><stop offset="0.917" stop-color="#fbe6da"/><stop offset="0.958" stop-color="#fbe6da"/><stop offset="1.000" stop-color="#fbe6da"/></linearGradient>
<linearGradient id="b72" gradientUnits="userSpaceOnUse" x1="659.4" y1="472.2" x2="549.3" y2="-11.4"><stop offset="0.000" stop-color="#f9ebe3"/><stop offset="0.042" stop-color="#faeae1"/><stop offset="0.083" stop-color="#fae9df"/><stop offset="0.125" stop-color="#fae8de"/><stop offset="0.167" stop-color="#fae8de"/><stop offset="0.208" stop-color="#fae7dc"/><stop offset="0.250" stop-color="#fae7dc"/><stop offset="0.292" stop-color="#fae7dc"/><stop offset="0.333" stop-color="#fae7dc"/><stop offset="0.375" stop-color="#fbe6da"/><stop offset="0.417" stop-color="#fbe6da"/><stop offset="0.458" stop-color="#fae7dc"/><stop offset="0.500" stop-color="#fbe6da"/><stop offset="0.542" stop-color="#fbe6da"/><stop offset="0.583" stop-color="#fbe6da"/><stop offset="0.625" stop-color="#fbe6da"/><stop offset="0.667" stop-color="#fbe6da"/><stop offset="0.708" stop-color="#fbe6da"/><stop offset="0.750" stop-color="#fbe6da"/><stop offset="0.792" stop-color="#fbe6da"/><stop offset="0.833" stop-color="#fbe6da"/><stop offset="0.875" stop-color="#fbe6da"/><stop offset="0.917" stop-color="#fbe6da"/><stop offset="0.958" stop-color="#fbe6da"/><stop offset="1.000" stop-color="#fbe6da"/></linearGradient>
<linearGradient id="b73" gradientUnits="userSpaceOnUse" x1="659.3" y1="472.2" x2="544.5" y2="-10.1"><stop offset="0.000" stop-color="#faeae1"/><stop offset="0.042" stop-color="#fae9df"/><stop offset="0.083" stop-color="#fae8de"/><stop offset="0.125" stop-color="#fae8de"/><stop offset="0.167" stop-color="#fae8de"/><stop offset="0.208" stop-color="#fae7dc"/><stop offset="0.250" stop-color="#fae7dc"/><stop offset="0.292" stop-color="#fbe6da"/><stop offset="0.333" stop-color="#fae7dc"/><stop offset="0.375" stop-color="#fbe6da"/><stop offset="0.417" stop-color="#fbe6da"/><stop offset="0.458" stop-color="#fbe6da"/><stop offset="0.500" stop-color="#fbe6da"/><stop offset="0.542" stop-color="#fbe6da"/><stop offset="0.583" stop-color="#fbe6da"/><stop offset="0.625" stop-color="#fbe6da"/><stop offset="0.667" stop-color="#fbe5d8"/><stop offset="0.708" stop-color="#fbe5d8"/><stop offset="0.750" stop-color="#fbe6da"/><stop offset="0.792" stop-color="#fbe5d8"/><stop offset="0.833" stop-color="#fbe6da"/><stop offset="0.875" stop-color="#fbe6da"/><stop offset="0.917" stop-color="#fbe6da"/><stop offset="0.958" stop-color="#fbe6da"/><stop offset="1.000" stop-color="#fbe5d8"/></linearGradient>
<linearGradient id="b74" gradientUnits="userSpaceOnUse" x1="659.1" y1="472.3" x2="539.6" y2="-8.8"><stop offset="0.000" stop-color="#fae9df"/><stop offset="0.042" stop-color="#fae8de"/><stop offset="0.083" stop-color="#fae8de"/><stop offset="0.125" stop-color="#fae7dc"/><stop offset="0.167" stop-color="#fbe6da"/><stop offset="0.208" stop-color="#fbe6da"/><stop offset="0.250" stop-color="#fbe6da"/><stop offset="0.292" stop-color="#fbe6da"/><stop offset="0.333" stop-color="#fbe6da"/><stop offset="0.375" stop-color="#fbe5d8"/><stop offset="0.417" stop-color="#fbe5d8"/><stop offset="0.458" stop-color="#fbe5d8"/><stop offset="0.500" stop-color="#fbe5d8"/><stop offset="0.542" stop-color="#fbe5d8"/><stop offset="0.583" stop-color="#fbe5d8"/><stop offset="0.625" stop-color="#fbe4d6"/><stop offset="0.667" stop-color="#fbe5d8"/><stop offset="0.708" stop-color="#fbe5d8"/><stop offset="0.750" stop-color="#fbe5d8"/><stop offset="0.792" stop-color="#fbe5d8"/><stop offset="0.833" stop-color="#fbe4d6"/><stop offset="0.875" stop-color="#fbe5d8"/><stop offset="0.917" stop-color="#fbe5d8"/><stop offset="0.958" stop-color="#fbe4d6"/><stop offset="1.000" stop-color="#fbe5d8"/></linearGradient>
<linearGradient id="b75" gradientUnits="userSpaceOnUse" x1="658.9" y1="472.3" x2="534.8" y2="-7.4"><stop offset="0.000" stop-color="#fae9df"/><stop offset="0.042" stop-color="#fae8de"/><stop offset="0.083" stop-color="#fae8de"/><stop offset="0.125" stop-color="#fbe6da"/><stop offset="0.167" stop-color="#fbe6da"/><stop offset="0.208" stop-color="#fbe6da"/><stop offset="0.250" stop-color="#fbe6da"/><stop offset="0.292" stop-color="#fbe5d8"/><stop offset="0.333" stop-color="#fbe5d8"/><stop offset="0.375" stop-color="#fbe5d8"/><stop offset="0.417" stop-color="#fbe4d6"/><stop offset="0.458" stop-color="#fbe4d6"/><stop offset="0.500" stop-color="#fbe5d8"/><stop offset="0.542" stop-color="#fbe5d8"/><stop offset="0.583" stop-color="#fbe4d6"/><stop offset="0.625" stop-color="#fbe4d6"/><stop offset="0.667" stop-color="#fbe5d8"/><stop offset="0.708" stop-color="#fbe4d6"/><stop offset="0.750" stop-color="#fbe4d6"/><stop offset="0.792" stop-color="#fbe4d6"/><stop offset="0.833" stop-color="#fbe5d8"/><stop offset="0.875" stop-color="#fbe4d6"/><stop offset="0.917" stop-color="#fbe5d8"/><stop offset="0.958" stop-color="#fbe4d6"/><stop offset="1.000" stop-color="#fbe4d6"/></linearGradient>
<linearGradient id="b76" gradientUnits="userSpaceOnUse" x1="658.8" y1="472.4" x2="530" y2="-5.9"><stop offset="0.000" stop-color="#fae9df"/><stop offset="0.042" stop-color="#fae8de"/><stop offset="0.083" stop-color="#fae7dc"/><stop offset="0.125" stop-color="#fae7dc"/><stop offset="0.167" stop-color="#fbe6da"/><stop offset="0.208" stop-color="#fbe6da"/><stop offset="0.250" stop-color="#fbe5d8"/><stop offset="0.292" stop-color="#fbe5d8"/><stop offset="0.333" stop-color="#fbe5d8"/><stop offset="0.375" stop-color="#fbe4d6"/><stop offset="0.417" stop-color="#fbe4d6"/><stop offset="0.458" stop-color="#fbe4d6"/><stop offset="0.500" stop-color="#fbe4d6"/><stop offset="0.542" stop-color="#fbe4d6"/><stop offset="0.583" stop-color="#fbe4d6"/><stop offset="0.625" stop-color="#fbe4d6"/><stop offset="0.667" stop-color="#fbe4d6"/><stop offset="0.708" stop-color="#fbe4d6"/><stop offset="0.750" stop-color="#fbe4d6"/><stop offset="0.792" stop-color="#fbe4d6"/><stop offset="0.833" stop-color="#fbe3d4"/><stop offset="0.875" stop-color="#fbe4d6"/><stop offset="0.917" stop-color="#fbe4d6"/><stop offset="0.958" stop-color="#fbe4d6"/><stop offset="1.000" stop-color="#fbe4d6"/></linearGradient>
<linearGradient id="b77" gradientUnits="userSpaceOnUse" x1="658.6" y1="472.4" x2="525.2" y2="-4.4"><stop offset="0.000" stop-color="#fae8de"/><stop offset="0.042" stop-color="#fae7dc"/><stop offset="0.083" stop-color="#fbe6da"/><stop offset="0.125" stop-color="#fbe6da"/><stop offset="0.167" stop-color="#fbe5d8"/><stop offset="0.208" stop-color="#fbe5d8"/><stop offset="0.250" stop-color="#fbe4d6"/><stop offset="0.292" stop-color="#fbe4d6"/><stop offset="0.333" stop-color="#fbe4d6"/><stop offset="0.375" stop-color="#fbe4d6"/><stop offset="0.417" stop-color="#fbe4d6"/><stop offset="0.458" stop-color="#fbe4d6"/><stop offset="0.500" stop-color="#fbe4d6"/><stop offset="0.542" stop-color="#fbe4d6"/><stop offset="0.583" stop-color="#fbe3d4"/><stop offset="0.625" stop-color="#fbe3d4"/><stop offset="0.667" stop-color="#fbe4d6"/><stop offset="0.708" stop-color="#fbe3d4"/><stop offset="0.750" stop-color="#fbe3d4"/><stop offset="0.792" stop-color="#fbe3d4"/><stop offset="0.833" stop-color="#fbe3d4"/><stop offset="0.875" stop-color="#fbe3d4"/><stop offset="0.917" stop-color="#fbe3d4"/><stop offset="0.958" stop-color="#fbe3d4"/><stop offset="1.000" stop-color="#fbe3d4"/></linearGradient>
<linearGradient id="b78" gradientUnits="userSpaceOnUse" x1="658.5" y1="472.5" x2="520.4" y2="-2.8"><stop offset="0.000" stop-color="#fae9df"/><stop offset="0.042" stop-color="#fae8de"/><stop offset="0.083" stop-color="#fbe6da"/><stop offset="0.125" stop-color="#fbe5d8"/><stop offset="0.167" stop-color="#fbe5d8"/><stop offset="0.208" stop-color="#fbe5d8"/><stop offset="0.250" stop-color="#fbe5d8"/><stop offset="0.292" stop-color="#fbe4d6"/><stop offset="0.333" stop-color="#fbe4d6"/><stop offset="0.375" stop-color="#fbe4d6"/><stop offset="0.417" stop-color="#fbe3d4"/><stop offset="0.458" stop-color="#fbe3d4"/><stop offset="0.500" stop-color="#fbe4d6"/><stop offset="0.542" stop-color="#fbe3d4"/><stop offset="0.583" stop-color="#fbe4d6"/><stop offset="0.625" stop-color="#fbe3d4"/><stop offset="0.667" stop-color="#fbe3d4"/><stop offset="0.708" stop-color="#fbe3d4"/><stop offset="0.750" stop-color="#fbe3d4"/><stop offset="0.792" stop-color="#fbe3d4"/><stop offset="0.833" stop-color="#fbe3d4"/><stop offset="0.875" stop-color="#fbe3d4"/><stop offset="0.917" stop-color="#fbe3d4"/><stop offset="0.958" stop-color="#fbe3d4"/><stop offset="1.000" stop-color="#fbe4d6"/></linearGradient>
<linearGradient id="b79" gradientUnits="userSpaceOnUse" x1="658.3" y1="472.5" x2="515.6" y2="-1.2"><stop offset="0.000" stop-color="#fae8de"/><stop offset="0.042" stop-color="#fae7dc"/><stop offset="0.083" stop-color="#fbe6da"/><stop offset="0.125" stop-color="#fbe5d8"/><stop offset="0.167" stop-color="#fbe4d6"/><stop offset="0.208" stop-color="#fbe4d6"/><stop offset="0.250" stop-color="#fbe4d6"/><stop offset="0.292" stop-color="#fbe3d4"/><stop offset="0.333" stop-color="#fbe3d4"/><stop offset="0.375" stop-color="#fbe3d4"/><stop offset="0.417" stop-color="#fbe3d4"/><stop offset="0.458" stop-color="#fbe3d4"/><stop offset="0.500" stop-color="#fbe3d4"/><stop offset="0.542" stop-color="#fbe3d4"/><stop offset="0.583" stop-color="#fbe3d4"/><stop offset="0.625" stop-color="#fce2d2"/><stop offset="0.667" stop-color="#fbe3d4"/><stop offset="0.708" stop-color="#fce2d2"/><stop offset="0.750" stop-color="#fce2d2"/><stop offset="0.792" stop-color="#fbe3d4"/><stop offset="0.833" stop-color="#fce2d2"/><stop offset="0.875" stop-color="#fce2d2"/><stop offset="0.917" stop-color="#fce2d2"/><stop offset="0.958" stop-color="#fce2d2"/><stop offset="1.000" stop-color="#fce2d2"/></linearGradient>
<linearGradient id="b80" gradientUnits="userSpaceOnUse" x1="658.2" y1="472.6" x2="510.9" y2="0.5"><stop offset="0.000" stop-color="#fae7dc"/><stop offset="0.042" stop-color="#fae7dc"/><stop offset="0.083" stop-color="#fbe6da"/><stop offset="0.125" stop-color="#fbe5d8"/><stop offset="0.167" stop-color="#fbe5d8"/><stop offset="0.208" stop-color="#fbe4d6"/><stop offset="0.250" stop-color="#fbe3d4"/><stop offset="0.292" stop-color="#fbe3d4"/><stop offset="0.333" stop-color="#fbe3d4"/><stop offset="0.375" stop-color="#fbe3d4"/><stop offset="0.417" stop-color="#fbe3d4"/><stop offset="0.458" stop-color="#fbe3d4"/><stop offset="0.500" stop-color="#fce2d2"/><stop offset="0.542" stop-color="#fce2d2"/><stop offset="0.583" stop-color="#fce2d2"/><stop offset="0.625" stop-color="#fce2d2"/><stop offset="0.667" stop-color="#fbe3d4"/><stop offset="0.708" stop-color="#fce2d2"/><stop offset="0.750" stop-color="#fce2d2"/><stop offset="0.792" stop-color="#fce2d2"/><stop offset="0.833" stop-color="#fbe3d4"/><stop offset="0.875" stop-color="#fce2d2"/><stop offset="0.917" stop-color="#fce2d2"/><stop offset="0.958" stop-color="#fce2d2"/><stop offset="1.000" stop-color="#fce2d2"/></linearGradient>
<linearGradient id="b81" gradientUnits="userSpaceOnUse" x1="658" y1="472.6" x2="506.2" y2="2.2"><stop offset="0.000" stop-color="#fae7dc"/><stop offset="0.042" stop-color="#fbe6da"/><stop offset="0.083" stop-color="#fbe5d8"/><stop offset="0.125" stop-color="#fbe5d8"/><stop offset="0.167" stop-color="#fbe4d6"/><stop offset="0.208" stop-color="#fbe3d4"/><stop offset="0.250" stop-color="#fbe3d4"/><stop offset="0.292" stop-color="#fbe3d4"/><stop offset="0.333" stop-color="#fce2d2"/><stop offset="0.375" stop-color="#fbe3d4"/><stop offset="0.417" stop-color="#fce2d2"/><stop offset="0.458" stop-color="#fce2d2"/><stop offset="0.500" stop-color="#fce2d2"/><stop offset="0.542" stop-color="#fce0d0"/><stop offset="0.583" stop-color="#fce2d2"/><stop offset="0.625" stop-color="#fce2d2"/><stop offset="0.667" stop-color="#fce2d2"/><stop offset="0.708" stop-color="#fce0d0"/><stop offset="0.750" stop-color="#fce2d2"/><stop offset="0.792" stop-color="#fce2d2"/><stop offset="0.833" stop-color="#fce0d0"/><stop offset="0.875" stop-color="#fce0d0"/><stop offset="0.917" stop-color="#fce0d0"/><stop offset="0.958" stop-color="#fce0d0"/><stop offset="1.000" stop-color="#fce2d2"/></linearGradient>
<linearGradient id="b82" gradientUnits="userSpaceOnUse" x1="657.9" y1="472.7" x2="501.4" y2="4"><stop offset="0.000" stop-color="#fae7dc"/><stop offset="0.042" stop-color="#fbe6da"/><stop offset="0.083" stop-color="#fbe5d8"/><stop offset="0.125" stop-color="#fbe4d6"/><stop offset="0.167" stop-color="#fbe4d6"/><stop offset="0.208" stop-color="#fbe3d4"/><stop offset="0.250" stop-color="#fbe3d4"/><stop offset="0.292" stop-color="#fbe3d4"/><stop offset="0.333" stop-color="#fbe3d4"/><stop offset="0.375" stop-color="#fce2d2"/><stop offset="0.417" stop-color="#fce2d2"/><stop offset="0.458" stop-color="#fce0d0"/><stop offset="0.500" stop-color="#fce2d2"/><stop offset="0.542" stop-color="#fce2d2"/><stop offset="0.583" stop-color="#fce2d2"/><stop offset="0.625" stop-color="#fce0d0"/><stop offset="0.667" stop-color="#fce2d2"/><stop offset="0.708" stop-color="#fce2d2"/><stop offset="0.750" stop-color="#fce2d2"/><stop offset="0.792" stop-color="#fce0d0"/><stop offset="0.833" stop-color="#fce0d0"/><stop offset="0.875" stop-color="#fce2d2"/><stop offset="0.917" stop-color="#fce2d2"/><stop offset="0.958" stop-color="#fce2d2"/><stop offset="1.000" stop-color="#fce0d0"/></linearGradient>
<linearGradient id="b83" gradientUnits="userSpaceOnUse" x1="657.7" y1="472.7" x2="496.7" y2="5.9"><stop offset="0.000" stop-color="#fae7dc"/><stop offset="0.042" stop-color="#fbe6da"/><stop offset="0.083" stop-color="#fbe5d8"/><stop offset="0.125" stop-color="#fbe5d8"/><stop offset="0.167" stop-color="#fbe3d4"/><stop offset="0.208" stop-color="#fbe3d4"/><stop offset="0.250" stop-color="#fce2d2"/><stop offset="0.292" stop-color="#fbe3d4"/><stop offset="0.333" stop-color="#fce2d2"/><stop offset="0.375" stop-color="#fce2d2"/><stop offset="0.417" stop-color="#fce2d2"/><stop offset="0.458" stop-color="#fce2d2"/><stop offset="0.500" stop-color="#fce2d2"/><stop offset="0.542" stop-color="#fce0d0"/><stop offset="0.583" stop-color="#fce0d0"/><stop offset="0.625" stop-color="#fce0d0"/><stop offset="0.667" stop-color="#fce2d2"/><stop offset="0.708" stop-color="#fce0d0"/><stop offset="0.750" stop-color="#fce0d0"/><stop offset="0.792" stop-color="#fce0d0"/><stop offset="0.833" stop-color="#fce2d2"/><stop offset="0.875" stop-color="#fce0d0"/><stop offset="0.917" stop-color="#fce2d2"/><stop offset="0.958" stop-color="#fce0d0"/><stop offset="1.000" stop-color="#fce0d0"/></linearGradient>
<linearGradient id="b84" gradientUnits="userSpaceOnUse" x1="657.6" y1="472.8" x2="492.1" y2="7.8"><stop offset="0.000" stop-color="#fae7dc"/><stop offset="0.042" stop-color="#fbe6da"/><stop offset="0.083" stop-color="#fbe5d8"/><stop offset="0.125" stop-color="#fbe4d6"/><stop offset="0.167" stop-color="#fbe4d6"/><stop offset="0.208" stop-color="#fbe3d4"/><stop offset="0.250" stop-color="#fbe3d4"/><stop offset="0.292" stop-color="#fce0d0"/><stop offset="0.333" stop-color="#fce2d2"/><stop offset="0.375" stop-color="#fce2d2"/><stop offset="0.417" stop-color="#fce2d2"/><stop offset="0.458" stop-color="#fce2d2"/><stop offset="0.500" stop-color="#fce2d2"/><stop offset="0.542" stop-color="#fce2d2"/><stop offset="0.583" stop-color="#fce0d0"/><stop offset="0.625" stop-color="#fce2d2"/><stop offset="0.667" stop-color="#fce0d0"/><stop offset="0.708" stop-color="#fce0d0"/><stop offset="0.750" stop-color="#fce0d0"/><stop offset="0.792" stop-color="#fce0d0"/><stop offset="0.833" stop-color="#fce0d0"/><stop offset="0.875" stop-color="#fce0d0"/><stop offset="0.917" stop-color="#fce0d0"/><stop offset="0.958" stop-color="#fce0d0"/><stop offset="1.000" stop-color="#fce0d0"/></linearGradient>
<linearGradient id="b85" gradientUnits="userSpaceOnUse" x1="657.4" y1="472.9" x2="487.4" y2="9.7"><stop offset="0.000" stop-color="#fbe6da"/><stop offset="0.042" stop-color="#fbe6da"/><stop offset="0.083" stop-color="#fbe5d8"/><stop offset="0.125" stop-color="#fbe4d6"/><stop offset="0.167" stop-color="#fbe4d6"/><stop offset="0.208" stop-color="#fce2d2"/><stop offset="0.250" stop-color="#fce2d2"/><stop offset="0.292" stop-color="#fce2d2"/><stop offset="0.333" stop-color="#fce2d2"/><stop offset="0.375" stop-color="#fce2d2"/><stop offset="0.417" stop-color="#fce2d2"/><stop offset="0.458" stop-color="#fcdfcf"/><stop offset="0.500" stop-color="#fce0d0"/><stop offset="0.542" stop-color="#fce0d0"/><stop offset="0.583" stop-color="#fce0d0"/><stop offset="0.625" stop-color="#fce0d0"/><stop offset="0.667" stop-color="#fce0d0"/><stop offset="0.708" stop-color="#fce0d0"/><stop offset="0.750" stop-color="#fce0d0"/><stop offset="0.792" stop-color="#fcdfcf"/><stop offset="0.833" stop-color="#fce0d0"/><stop offset="0.875" stop-color="#fce0d0"/><stop offset="0.917" stop-color="#fcdfcf"/><stop offset="0.958" stop-color="#fcdfcf"/><stop offset="1.000" stop-color="#fcdfcf"/></linearGradient>
<linearGradient id="b86" gradientUnits="userSpaceOnUse" x1="657.3" y1="472.9" x2="482.7" y2="11.7"><stop offset="0.000" stop-color="#fbe6da"/><stop offset="0.042" stop-color="#fbe5d8"/><stop offset="0.083" stop-color="#fbe4d6"/><stop offset="0.125" stop-color="#fbe3d4"/><stop offset="0.167" stop-color="#fce2d2"/><stop offset="0.208" stop-color="#fce0d0"/><stop offset="0.250" stop-color="#fce2d2"/><stop offset="0.292" stop-color="#fcdfcf"/><stop offset="0.333" stop-color="#fce0d0"/><stop offset="0.375" stop-color="#fce0d0"/><stop offset="0.417" stop-color="#fce0d0"/><stop offset="0.458" stop-color="#fcdfcf"/><stop offset="0.500" stop-color="#fcdfcf"/><stop offset="0.542" stop-color="#fcdfcf"/><stop offset="0.583" stop-color="#fcdfcf"/><stop offset="0.625" stop-color="#fcdfcf"/><stop offset="0.667" stop-color="#fcdfcf"/><stop offset="0.708" stop-color="#fcdfcf"/><stop offset="0.750" stop-color="#fcdfcf"/><stop offset="0.792" stop-color="#fcdfcf"/><stop offset="0.833" stop-color="#fcdfcf"/><stop offset="0.875" stop-color="#fcdfcf"/><stop offset="0.917" stop-color="#fcdfcf"/><stop offset="0.958" stop-color="#fcdfcf"/><stop offset="1.000" stop-color="#fcdfcf"/></linearGradient>
<linearGradient id="b87" gradientUnits="userSpaceOnUse" x1="657.1" y1="473" x2="478.1" y2="13.8"><stop offset="0.000" stop-color="#fae7dc"/><stop offset="0.042" stop-color="#fbe5d8"/><stop offset="0.083" stop-color="#fbe4d6"/><stop offset="0.125" stop-color="#fbe3d4"/><stop offset="0.167" stop-color="#fce2d2"/><stop offset="0.208" stop-color="#fbe3d4"/><stop offset="0.250" stop-color="#fce2d2"/><stop offset="0.292" stop-color="#fce2d2"/><stop offset="0.333" stop-color="#fce0d0"/><stop offset="0.375" stop-color="#fce0d0"/><stop offset="0.417" stop-color="#fce0d0"/><stop offset="0.458" stop-color="#fcdfcf"/><stop offset="0.500" stop-color="#fce0d0"/><stop offset="0.542" stop-color="#fce0d0"/><stop offset="0.583" stop-color="#fcdfcf"/><stop offset="0.625" stop-color="#fcdfcf"/><stop offset="0.667" stop-color="#fce0d0"/><stop offset="0.708" stop-color="#fcdfcf"/><stop offset="0.750" stop-color="#fce0d0"/><stop offset="0.792" stop-color="#fce0d0"/><stop offset="0.833" stop-color="#fce0d0"/><stop offset="0.875" stop-color="#fcdfcf"/><stop offset="0.917" stop-color="#fcdfcf"/><stop offset="0.958" stop-color="#fcdfcf"/><stop offset="1.000" stop-color="#fcdfcf"/></linearGradient>
<linearGradient id="b88" gradientUnits="userSpaceOnUse" x1="657" y1="473.1" x2="473.5" y2="15.9"><stop offset="0.000" stop-color="#fbe6da"/><stop offset="0.042" stop-color="#fbe5d8"/><stop offset="0.083" stop-color="#fbe4d6"/><stop offset="0.125" stop-color="#fbe3d4"/><stop offset="0.167" stop-color="#fbe3d4"/><stop offset="0.208" stop-color="#fce2d2"/><stop offset="0.250" stop-color="#fce0d0"/><stop offset="0.292" stop-color="#fce0d0"/><stop offset="0.333" stop-color="#fce0d0"/><stop offset="0.375" stop-color="#fcdfcf"/><stop offset="0.417" stop-color="#fcdfcf"/><stop offset="0.458" stop-color="#fcdfcf"/><stop offset="0.500" stop-color="#fce0d0"/><stop offset="0.542" stop-color="#fcdfcf"/><stop offset="0.583" stop-color="#fcdfcf"/><stop offset="0.625" stop-color="#fcdfcf"/><stop offset="0.667" stop-color="#fcdfcf"/><stop offset="0.708" stop-color="#fcdfcf"/><stop offset="0.750" stop-color="#fcdfcf"/><stop offset="0.792" stop-color="#fcdfcf"/><stop offset="0.833" stop-color="#fcdfcf"/><stop offset="0.875" stop-color="#fcdfcf"/><stop offset="0.917" stop-color="#fcdfcf"/><stop offset="0.958" stop-color="#fcdfcf"/><stop offset="1.000" stop-color="#fcdfcf"/></linearGradient>
<linearGradient id="b89" gradientUnits="userSpaceOnUse" x1="656.8" y1="473.1" x2="468.9" y2="18"><stop offset="0.000" stop-color="#fbe6da"/><stop offset="0.042" stop-color="#fbe4d6"/><stop offset="0.083" stop-color="#fbe4d6"/><stop offset="0.125" stop-color="#fce2d2"/><stop offset="0.167" stop-color="#fce2d2"/><stop offset="0.208" stop-color="#fce2d2"/><stop offset="0.250" stop-color="#fce0d0"/><stop offset="0.292" stop-color="#fce0d0"/><stop offset="0.333" stop-color="#fce0d0"/><stop offset="0.375" stop-color="#fce0d0"/><stop offset="0.417" stop-color="#fcdfcf"/><stop offset="0.458" stop-color="#fcdfcf"/><stop offset="0.500" stop-color="#fcdecd"/><stop offset="0.542" stop-color="#fcdfcf"/><stop offset="0.583" stop-color="#fcdfcf"/><stop offset="0.625" stop-color="#fcdfcf"/><stop offset="0.667" stop-color="#fcdfcf"/><stop offset="0.708" stop-color="#fcdecd"/><stop offset="0.750" stop-color="#fcdecd"/><stop offset="0.792" stop-color="#fcdecd"/><stop offset="0.833" stop-color="#fcdfcf"/><stop offset="0.875" stop-color="#fcdecd"/><stop offset="0.917" stop-color="#fcdecd"/><stop offset="0.958" stop-color="#fcdfcf"/><stop offset="1.000" stop-color="#fcdecd"/></linearGradient>
<linearGradient id="b90" gradientUnits="userSpaceOnUse" x1="656.7" y1="473.2" x2="464.4" y2="20.2"><stop offset="0.000" stop-color="#fbe5d8"/><stop offset="0.042" stop-color="#fbe5d8"/><stop offset="0.083" stop-color="#fbe4d6"/><stop offset="0.125" stop-color="#fce2d2"/><stop offset="0.167" stop-color="#fce0d0"/><stop offset="0.208" stop-color="#fce0d0"/><stop offset="0.250" stop-color="#fce0d0"/><stop offset="0.292" stop-color="#fce0d0"/><stop offset="0.333" stop-color="#fcdfcf"/><stop offset="0.375" stop-color="#fcdfcf"/><stop offset="0.417" stop-color="#fcdfcf"/><stop offset="0.458" stop-color="#fcdfcf"/><stop offset="0.500" stop-color="#fcdfcf"/><stop offset="0.542" stop-color="#fcdecd"/><stop offset="0.583" stop-color="#fcdecd"/><stop offset="0.625" stop-color="#fcdfcf"/><stop offset="0.667" stop-color="#fcdecd"/><stop offset="0.708" stop-color="#fcdecd"/><stop offset="0.750" stop-color="#fcdecd"/><stop offset="0.792" stop-color="#fcdecd"/><stop offset="0.833" stop-color="#fcdecd"/><stop offset="0.875" stop-color="#fcdecd"/><stop offset="0.917" stop-color="#fcdecd"/><stop offset="0.958" stop-color="#fcdecd"/><stop offset="1.000" stop-color="#fcdecd"/></linearGradient>
<linearGradient id="b91" gradientUnits="userSpaceOnUse" x1="656.6" y1="473.3" x2="459.8" y2="22.5"><stop offset="0.000" stop-color="#fbe6da"/><stop offset="0.042" stop-color="#fbe4d6"/><stop offset="0.083" stop-color="#fbe3d4"/><stop offset="0.125" stop-color="#fbe3d4"/><stop offset="0.167" stop-color="#fce2d2"/><stop offset="0.208" stop-color="#fce2d2"/><stop offset="0.250" stop-color="#fce0d0"/><stop offset="0.292" stop-color="#fcdfcf"/><stop offset="0.333" stop-color="#fce0d0"/><stop offset="0.375" stop-color="#fcdfcf"/><stop offset="0.417" stop-color="#fcdecd"/><stop offset="0.458" stop-color="#fcdecd"/><stop offset="0.500" stop-color="#fcdecd"/><stop offset="0.542" stop-color="#fcdecd"/><stop offset="0.583" stop-color="#fcdecd"/><stop offset="0.625" stop-color="#fcdecd"/><stop offset="0.667" stop-color="#fcdecd"/><stop offset="0.708" stop-color="#fcdecd"/><stop offset="0.750" stop-color="#fcdecd"/><stop offset="0.792" stop-color="#fcdfcf"/><stop offset="0.833" stop-color="#fcdecd"/><stop offset="0.875" stop-color="#fcdecd"/><stop offset="0.917" stop-color="#fdddcb"/><stop offset="0.958" stop-color="#fcdecd"/><stop offset="1.000" stop-color="#fcdecd"/></linearGradient>
<linearGradient id="b92" gradientUnits="userSpaceOnUse" x1="656.4" y1="473.4" x2="455.3" y2="24.8"><stop offset="0.000" stop-color="#fbe6da"/><stop offset="0.042" stop-color="#fbe4d6"/><stop offset="0.083" stop-color="#fbe4d6"/><stop offset="0.125" stop-color="#fbe3d4"/><stop offset="0.167" stop-color="#fce2d2"/><stop offset="0.208" stop-color="#fce0d0"/><stop offset="0.250" stop-color="#fce0d0"/><stop offset="0.292" stop-color="#fcdfcf"/><stop offset="0.333" stop-color="#fcdfcf"/><stop offset="0.375" stop-color="#fcdfcf"/><stop offset="0.417" stop-color="#fcdfcf"/><stop offset="0.458" stop-color="#fcdfcf"/><stop offset="0.500" stop-color="#fcdecd"/><stop offset="0.542" stop-color="#fcdecd"/><stop offset="0.583" stop-color="#fcdecd"/><stop offset="0.625" stop-color="#fcdfcf"/><stop offset="0.667" stop-color="#fcdecd"/><stop offset="0.708" stop-color="#fcdecd"/><stop offset="0.750" stop-color="#fcdecd"/><stop offset="0.792" stop-color="#fcdecd"/><stop offset="0.833" stop-color="#fcdecd"/><stop offset="0.875" stop-color="#fcdecd"/><stop offset="0.917" stop-color="#fcdecd"/><stop offset="0.958" stop-color="#fcdecd"/><stop offset="1.000" stop-color="#fcdecd"/></linearGradient>
<linearGradient id="b93" gradientUnits="userSpaceOnUse" x1="656.3" y1="473.4" x2="450.8" y2="27.2"><stop offset="0.000" stop-color="#fbe5d8"/><stop offset="0.042" stop-color="#fbe4d6"/><stop offset="0.083" stop-color="#fce2d2"/><stop offset="0.125" stop-color="#fce0d0"/><stop offset="0.167" stop-color="#fce0d0"/><stop offset="0.208" stop-color="#fcdfcf"/><stop offset="0.250" stop-color="#fcdfcf"/><stop offset="0.292" stop-color="#fcdecd"/><stop offset="0.333" stop-color="#fcdfcf"/><stop offset="0.375" stop-color="#fdddcb"/><stop offset="0.417" stop-color="#fcdecd"/><stop offset="0.458" stop-color="#fcdecd"/><stop offset="0.500" stop-color="#fcdecd"/><stop offset="0.542" stop-color="#fdddcb"/><stop offset="0.583" stop-color="#fdddcb"/><stop offset="0.625" stop-color="#fdddcb"/><stop offset="0.667" stop-color="#fddcc9"/><stop offset="0.708" stop-color="#fdddcb"/><stop offset="0.750" stop-color="#fdddcb"/><stop offset="0.792" stop-color="#fdddcb"/><stop offset="0.833" stop-color="#fdddcb"/><stop offset="0.875" stop-color="#fdddcb"/><stop offset="0.917" stop-color="#fdddcb"/><stop offset="0.958" stop-color="#fdddcb"/><stop offset="1.000" stop-color="#fcdecd"/></linearGradient>
<linearGradient id="b94" gradientUnits="userSpaceOnUse" x1="656.1" y1="473.5" x2="446.3" y2="29.6"><stop offset="0.000" stop-color="#fbe5d8"/><stop offset="0.042" stop-color="#fbe3d4"/><stop offset="0.083" stop-color="#fbe3d4"/><stop offset="0.125" stop-color="#fce0d0"/><stop offset="0.167" stop-color="#fce0d0"/><stop offset="0.208" stop-color="#fcdfcf"/><stop offset="0.250" stop-color="#fcdfcf"/><stop offset="0.292" stop-color="#fcdfcf"/><stop offset="0.333" stop-color="#fcdecd"/><stop offset="0.375" stop-color="#fcdecd"/><stop offset="0.417" stop-color="#fcdecd"/><stop offset="0.458" stop-color="#fcdecd"/><stop offset="0.500" stop-color="#fdddcb"/><stop offset="0.542" stop-color="#fcdecd"/><stop offset="0.583" stop-color="#fdddcb"/><stop offset="0.625" stop-color="#fdddcb"/><stop offset="0.667" stop-color="#fdddcb"/><stop offset="0.708" stop-color="#fdddcb"/><stop offset="0.750" stop-color="#fdddcb"/><stop offset="0.792" stop-color="#fdddcb"/><stop offset="0.833" stop-color="#fdddcb"/><stop offset="0.875" stop-color="#fddcc9"/><stop offset="0.917" stop-color="#fddcc9"/><stop offset="0.958" stop-color="#fdddcb"/><stop offset="1.000" stop-color="#fdddcb"/></linearGradient>
<linearGradient id="b95" gradientUnits="userSpaceOnUse" x1="656" y1="473.6" x2="441.9" y2="32"><stop offset="0.000" stop-color="#fbe5d8"/><stop offset="0.042" stop-color="#fbe4d6"/><stop offset="0.083" stop-color="#fce2d2"/><stop offset="0.125" stop-color="#fce0d0"/><stop offset="0.167" stop-color="#fcdfcf"/><stop offset="0.208" stop-color="#fcdfcf"/><stop offset="0.250" stop-color="#fcdfcf"/><stop offset="0.292" stop-color="#fcdfcf"/><stop offset="0.333" stop-color="#fdddcb"/><stop offset="0.375" stop-color="#fcdecd"/><stop offset="0.417" stop-color="#fcdecd"/><stop offset="0.458" stop-color="#fcdecd"/><stop offset="0.500" stop-color="#fdddcb"/><stop offset="0.542" stop-color="#fdddcb"/><stop offset="0.583" stop-color="#fdddcb"/><stop offset="0.625" stop-color="#fdddcb"/><stop offset="0.667" stop-color="#fdddcb"/><stop offset="0.708" stop-color="#fdddcb"/><stop offset="0.750" stop-color="#fdddcb"/><stop offset="0.792" stop-color="#fddcc9"/><stop offset="0.833" stop-color="#fdddcb"/><stop offset="0.875" stop-color="#fdddcb"/><stop offset="0.917" stop-color="#fdddcb"/><stop offset="0.958" stop-color="#fddcc9"/><stop offset="1.000" stop-color="#fdddcb"/></linearGradient>
<linearGradient id="b96" gradientUnits="userSpaceOnUse" x1="655.8" y1="473.7" x2="437.5" y2="34.6"><stop offset="0.000" stop-color="#fbe4d6"/><stop offset="0.042" stop-color="#fbe4d6"/><stop offset="0.083" stop-color="#fce2d2"/><stop offset="0.125" stop-color="#fce0d0"/><stop offset="0.167" stop-color="#fce0d0"/><stop offset="0.208" stop-color="#fcdfcf"/><stop offset="0.250" stop-color="#fcdfcf"/><stop offset="0.292" stop-color="#fcdecd"/><stop offset="0.333" stop-color="#fcdecd"/><stop offset="0.375" stop-color="#fcdecd"/><stop offset="0.417" stop-color="#fdddcb"/><stop offset="0.458" stop-color="#fddcc9"/><stop offset="0.500" stop-color="#fcdecd"/><stop offset="0.542" stop-color="#fdddcb"/><stop offset="0.583" stop-color="#fdddcb"/><stop offset="0.625" stop-color="#fdddcb"/><stop offset="0.667" stop-color="#fdddcb"/><stop offset="0.708" stop-color="#fdddcb"/><stop offset="0.750" stop-color="#fdddcb"/><stop offset="0.792" stop-color="#fdddcb"/><stop offset="0.833" stop-color="#fddcc9"/><stop offset="0.875" stop-color="#fdddcb"/><stop offset="0.917" stop-color="#fddcc9"/><stop offset="0.958" stop-color="#fdddcb"/><stop offset="1.000" stop-color="#fdddcb"/></linearGradient>
<linearGradient id="b97" gradientUnits="userSpaceOnUse" x1="655.7" y1="473.7" x2="433.1" y2="37.1"><stop offset="0.000" stop-color="#fbe4d6"/><stop offset="0.042" stop-color="#fce2d2"/><stop offset="0.083" stop-color="#fce2d2"/><stop offset="0.125" stop-color="#fcdfcf"/><stop offset="0.167" stop-color="#fcdecd"/><stop offset="0.208" stop-color="#fcdecd"/><stop offset="0.250" stop-color="#fdddcb"/><stop offset="0.292" stop-color="#fdddcb"/><stop offset="0.333" stop-color="#fdddcb"/><stop offset="0.375" stop-color="#fddcc9"/><stop offset="0.417" stop-color="#fddcc9"/><stop offset="0.458" stop-color="#fddcc9"/><stop offset="0.500" stop-color="#fddcc9"/><stop offset="0.542" stop-color="#fddcc9"/><stop offset="0.583" stop-color="#fdddcb"/><stop offset="0.625" stop-color="#fdddcb"/><stop offset="0.667" stop-color="#fddcc9"/><stop offset="0.708" stop-color="#fdddcb"/><stop offset="0.750" stop-color="#fddbc7"/><stop offset="0.792" stop-color="#fddcc9"/><stop offset="0.833" stop-color="#fddcc9"/><stop offset="0.875" stop-color="#fddcc9"/><stop offset="0.917" stop-color="#fddcc9"/><stop offset="0.958" stop-color="#fddcc9"/><stop offset="1.000" stop-color="#fddbc7"/></linearGradient>
<linearGradient id="b98" gradientUnits="userSpaceOnUse" x1="655.6" y1="473.8" x2="428.7" y2="39.7"><stop offset="0.000" stop-color="#fbe4d6"/><stop offset="0.042" stop-color="#fbe3d4"/><stop offset="0.083" stop-color="#fce0d0"/><stop offset="0.125" stop-color="#fcdfcf"/><stop offset="0.167" stop-color="#fcdecd"/><stop offset="0.208" stop-color="#fcdecd"/><stop offset="0.250" stop-color="#fcdecd"/><stop offset="0.292" stop-color="#fdddcb"/><stop offset="0.333" stop-color="#fdddcb"/><stop offset="0.375" stop-color="#fddcc9"/><stop offset="0.417" stop-color="#fddcc9"/><stop offset="0.458" stop-color="#fdddcb"/><stop offset="0.500" stop-color="#fdddcb"/><stop offset="0.542" stop-color="#fddcc9"/><stop offset="0.583" stop-color="#fddcc9"/><stop offset="0.625" stop-color="#fddcc9"/><stop offset="0.667" stop-color="#fddcc9"/><stop offset="0.708" stop-color="#fddcc9"/><stop offset="0.750" stop-color="#fddcc9"/><stop offset="0.792" stop-color="#fddcc9"/><stop offset="0.833" stop-color="#fddcc9"/><stop offset="0.875" stop-color="#fddcc9"/><stop offset="0.917" stop-color="#fddbc7"/><stop offset="0.958" stop-color="#fddcc9"/><stop offset="1.000" stop-color="#fddcc9"/></linearGradient>
<linearGradient id="b99" gradientUnits="userSpaceOnUse" x1="655.4" y1="473.9" x2="424.3" y2="42.4"><stop offset="0.000" stop-color="#fbe4d6"/><stop offset="0.042" stop-color="#fce2d2"/><stop offset="0.083" stop-color="#fce0d0"/><stop offset="0.125" stop-color="#fcdfcf"/><stop offset="0.167" stop-color="#fcdfcf"/><stop offset="0.208" stop-color="#fcdecd"/><stop offset="0.250" stop-color="#fcdecd"/><stop offset="0.292" stop-color="#fdddcb"/><stop offset="0.333" stop-color="#fdddcb"/><stop offset="0.375" stop-color="#fddcc9"/><stop offset="0.417" stop-color="#fddcc9"/><stop offset="0.458" stop-color="#fddcc9"/><stop offset="0.500" stop-color="#fddcc9"/><stop offset="0.542" stop-color="#fddbc7"/><stop offset="0.583" stop-color="#fddcc9"/><stop offset="0.625" stop-color="#fddbc7"/><stop offset="0.667" stop-color="#fddcc9"/><stop offset="0.708" stop-color="#fddcc9"/><stop offset="0.750" stop-color="#fddcc9"/><stop offset="0.792" stop-color="#fddcc9"/><stop offset="0.833" stop-color="#fddcc9"/><stop offset="0.875" stop-color="#fddcc9"/><stop offset="0.917" stop-color="#fddcc9"/><stop offset="0.958" stop-color="#fddbc7"/><stop offset="1.000" stop-color="#fddcc9"/></linearGradient>
<linearGradient id="b100" gradientUnits="userSpaceOnUse" x1="655.3" y1="474" x2="420" y2="45.1"><stop offset="0.000" stop-color="#fbe4d6"/><stop offset="0.042" stop-color="#fbe3d4"/><stop offset="0.083" stop-color="#fce0d0"/><stop offset="0.125" stop-color="#fce0d0"/><stop offset="0.167" stop-color="#fcdfcf"/><stop offset="0.208" stop-color="#fcdecd"/><stop offset="0.250" stop-color="#fcdecd"/><stop offset="0.292" stop-color="#fcdecd"/><stop offset="0.333" stop-color="#fdddcb"/><stop offset="0.375" stop-color="#fdddcb"/><stop offset="0.417" stop-color="#fdddcb"/><stop offset="0.458" stop-color="#fddcc9"/><stop offset="0.500" stop-color="#fddcc9"/><stop offset="0.542" stop-color="#fdddcb"/><stop offset="0.583" stop-color="#fddcc9"/><stop offset="0.625" stop-color="#fddcc9"/><stop offset="0.667" stop-color="#fddcc9"/><stop offset="0.708" stop-color="#fdddcb"/><stop offset="0.750" stop-color="#fddbc7"/><stop offset="0.792" stop-color="#fddcc9"/><stop offset="0.833" stop-color="#fddcc9"/><stop offset="0.875" stop-color="#fddbc7"/><stop offset="0.917" stop-color="#fddcc9"/><stop offset="0.958" stop-color="#fddcc9"/><stop offset="1.000" stop-color="#fddbc7"/></linearGradient>
<linearGradient id="b101" gradientUnits="userSpaceOnUse" x1="655.2" y1="474.1" x2="415.7" y2="47.8"><stop offset="0.000" stop-color="#fbe4d6"/><stop offset="0.042" stop-color="#fce2d2"/><stop offset="0.083" stop-color="#fcdfcf"/><stop offset="0.125" stop-color="#fcdfcf"/><stop offset="0.167" stop-color="#fcdecd"/><stop offset="0.208" stop-color="#fcdecd"/><stop offset="0.250" stop-color="#fdddcb"/><stop offset="0.292" stop-color="#fddcc9"/><stop offset="0.333" stop-color="#fddcc9"/><stop offset="0.375" stop-color="#fdddcb"/><stop offset="0.417" stop-color="#fdddcb"/><stop offset="0.458" stop-color="#fddcc9"/><stop offset="0.500" stop-color="#fddbc7"/><stop offset="0.542" stop-color="#fddcc9"/><stop offset="0.583" stop-color="#fddcc9"/><stop offset="0.625" stop-color="#fddcc9"/><stop offset="0.667" stop-color="#fddbc7"/><stop offset="0.708" stop-color="#fddcc9"/><stop offset="0.750" stop-color="#fddbc7"/><stop offset="0.792" stop-color="#fddcc9"/><stop offset="0.833" stop-color="#fddcc9"/><stop offset="0.875" stop-color="#fddcc9"/><stop offset="0.917" stop-color="#fddcc9"/><stop offset="0.958" stop-color="#fddbc7"/><stop offset="1.000" stop-color="#fddcc9"/></linearGradient>
<linearGradient id="b102" gradientUnits="userSpaceOnUse" x1="655" y1="474.2" x2="411.4" y2="50.6"><stop offset="0.000" stop-color="#fbe3d4"/><stop offset="0.042" stop-color="#fce2d2"/><stop offset="0.083" stop-color="#fcdfcf"/><stop offset="0.125" stop-color="#fcdecd"/><stop offset="0.167" stop-color="#fdddcb"/><stop offset="0.208" stop-color="#fdddcb"/><stop offset="0.250" stop-color="#fddcc9"/><stop offset="0.292" stop-color="#fddcc9"/><stop offset="0.333" stop-color="#fddcc9"/><stop offset="0.375" stop-color="#fddbc7"/><stop offset="0.417" stop-color="#fddbc7"/><stop offset="0.458" stop-color="#fddbc7"/><stop offset="0.500" stop-color="#fddbc7"/><stop offset="0.542" stop-color="#fddbc7"/><stop offset="0.583" stop-color="#fddcc9"/><stop offset="0.625" stop-color="#fddbc7"/><stop offset="0.667" stop-color="#fdd9c4"/><stop offset="0.708" stop-color="#fdd9c4"/><stop offset="0.750" stop-color="#fddbc7"/><stop offset="0.792" stop-color="#fddbc7"/><stop offset="0.833" stop-color="#fdd9c4"/><stop offset="0.875" stop-color="#fddbc7"/><stop offset="0.917" stop-color="#fdd9c4"/><stop offset="0.958" stop-color="#fddbc7"/><stop offset="1.000" stop-color="#fddbc7"/></linearGradient>
<linearGradient id="b103" gradientUnits="userSpaceOnUse" x1="654.9" y1="474.3" x2="407.2" y2="53.5"><stop offset="0.000" stop-color="#fbe4d6"/><stop offset="0.042" stop-color="#fce2d2"/><stop offset="0.083" stop-color="#fcdfcf"/><stop offset="0.125" stop-color="#fcdfcf"/><stop offset="0.167" stop-color="#fcdecd"/><stop offset="0.208" stop-color="#fddcc9"/><stop offset="0.250" stop-color="#fdddcb"/><stop offset="0.292" stop-color="#fddcc9"/><stop offset="0.333" stop-color="#fddcc9"/><stop offset="0.375" stop-color="#fddcc9"/><stop offset="0.417" stop-color="#fddbc7"/><stop offset="0.458" stop-color="#fddbc7"/><stop offset="0.500" stop-color="#fddbc7"/><stop offset="0.542" stop-color="#fdd9c4"/><stop offset="0.583" stop-color="#fddbc7"/><stop offset="0.625" stop-color="#fddbc7"/><stop offset="0.667" stop-color="#fddbc7"/><stop offset="0.708" stop-color="#fddbc7"/><stop offset="0.750" stop-color="#fdd9c4"/><stop offset="0.792" stop-color="#fddbc7"/><stop offset="0.833" stop-color="#fddbc7"/><stop offset="0.875" stop-color="#fddbc7"/><stop offset="0.917" stop-color="#fddbc7"/><stop offset="0.958" stop-color="#fdd9c4"/><stop offset="1.000" stop-color="#fdd9c4"/></linearGradient>
<linearGradient id="b104" gradientUnits="userSpaceOnUse" x1="654.8" y1="474.4" x2="403" y2="56.4"><stop offset="0.000" stop-color="#fbe3d4"/><stop offset="0.042" stop-color="#fce0d0"/><stop offset="0.083" stop-color="#fcdfcf"/><stop offset="0.125" stop-color="#fcdfcf"/><stop offset="0.167" stop-color="#fdddcb"/><stop offset="0.208" stop-color="#fddcc9"/><stop offset="0.250" stop-color="#fddcc9"/><stop offset="0.292" stop-color="#fddcc9"/><stop offset="0.333" stop-color="#fddcc9"/><stop offset="0.375" stop-color="#fddcc9"/><stop offset="0.417" stop-color="#fdd9c4"/><stop offset="0.458" stop-color="#fddcc9"/><stop offset="0.500" stop-color="#fdd9c4"/><stop offset="0.542" stop-color="#fdd9c4"/><stop offset="0.583" stop-color="#fddbc7"/><stop offset="0.625" stop-color="#fdd9c4"/><stop offset="0.667" stop-color="#fdd9c4"/><stop offset="0.708" stop-color="#fdd9c4"/><stop offset="0.750" stop-color="#fdd9c4"/><stop offset="0.792" stop-color="#fdd9c4"/><stop offset="0.833" stop-color="#fdd9c4"/><stop offset="0.875" stop-color="#fddbc7"/><stop offset="0.917" stop-color="#fdd9c4"/><stop offset="0.958" stop-color="#fdd9c4"/><stop offset="1.000" stop-color="#fddbc7"/></linearGradient>
<linearGradient id="b105" gradientUnits="userSpaceOnUse" x1="654.6" y1="474.4" x2="398.8" y2="59.3"><stop offset="0.000" stop-color="#fce2d2"/><stop offset="0.042" stop-color="#fce0d0"/><stop offset="0.083" stop-color="#fcdfcf"/><stop offset="0.125" stop-color="#fdddcb"/><stop offset="0.167" stop-color="#fdddcb"/><stop offset="0.208" stop-color="#fdddcb"/><stop offset="0.250" stop-color="#fddbc7"/><stop offset="0.292" stop-color="#fddbc7"/><stop offset="0.333" stop-color="#fddbc7"/><stop offset="0.375" stop-color="#fdd9c4"/><stop offset="0.417" stop-color="#fdd9c4"/><stop offset="0.458" stop-color="#fdd9c4"/><stop offset="0.500" stop-color="#fdd9c4"/><stop offset="0.542" stop-color="#fdd9c4"/><stop offset="0.583" stop-color="#fdd9c4"/><stop offset="0.625" stop-color="#fdd9c4"/><stop offset="0.667" stop-color="#fcd7c2"/><stop offset="0.708" stop-color="#fdd9c4"/><stop offset="0.750" stop-color="#fcd7c2"/><stop offset="0.792" stop-color="#fdd9c4"/><stop offset="0.833" stop-color="#fcd7c2"/><stop offset="0.875" stop-color="#fdd9c4"/><stop offset="0.917" stop-color="#fdd9c4"/><stop offset="0.958" stop-color="#fcd5bf"/><stop offset="1.000" stop-color="#fcd7c2"/></linearGradient>
<linearGradient id="b106" gradientUnits="userSpaceOnUse" x1="654.5" y1="474.5" x2="394.6" y2="62.3"><stop offset="0.000" stop-color="#fbe3d4"/><stop offset="0.042" stop-color="#fcdfcf"/><stop offset="0.083" stop-color="#fcdfcf"/><stop offset="0.125" stop-color="#fcdecd"/><stop offset="0.167" stop-color="#fdddcb"/><stop offset="0.208" stop-color="#fddcc9"/><stop offset="0.250" stop-color="#fddbc7"/><stop offset="0.292" stop-color="#fddbc7"/><stop offset="0.333" stop-color="#fdd9c4"/><stop offset="0.375" stop-color="#fdd9c4"/><stop offset="0.417" stop-color="#fdd9c4"/><stop offset="0.458" stop-color="#fdd9c4"/><stop offset="0.500" stop-color="#fcd7c2"/><stop offset="0.542" stop-color="#fcd7c2"/><stop offset="0.583" stop-color="#fdd9c4"/><stop offset="0.625" stop-color="#fcd7c2"/><stop offset="0.667" stop-color="#fcd7c2"/><stop offset="0.708" stop-color="#fcd7c2"/><stop offset="0.750" stop-color="#fcd7c2"/><stop offset="0.792" stop-color="#fcd7c2"/><stop offset="0.833" stop-color="#fcd5bf"/><stop offset="0.875" stop-color="#fcd7c2"/><stop offset="0.917" stop-color="#fcd7c2"/><stop offset="0.958" stop-color="#fdd9c4"/><stop offset="1.000" stop-color="#fcd5bf"/></linearGradient>
<linearGradient id="b107" gradientUnits="userSpaceOnUse" x1="654.4" y1="474.6" x2="390.5" y2="65.4"><stop offset="0.000" stop-color="#fce2d2"/><stop offset="0.042" stop-color="#fce0d0"/><stop offset="0.083" stop-color="#fcdfcf"/><stop offset="0.125" stop-color="#fcdecd"/><stop offset="0.167" stop-color="#fddcc9"/><stop offset="0.208" stop-color="#fddcc9"/><stop offset="0.250" stop-color="#fddbc7"/><stop offset="0.292" stop-color="#fdd9c4"/><stop offset="0.333" stop-color="#fddbc7"/><stop offset="0.375" stop-color="#fdd9c4"/><stop offset="0.417" stop-color="#fdd9c4"/><stop offset="0.458" stop-color="#fdd9c4"/><stop offset="0.500" stop-color="#fcd7c2"/><stop offset="0.542" stop-color="#fdd9c4"/><stop offset="0.583" stop-color="#fdd9c4"/><stop offset="0.625" stop-color="#fdd9c4"/><stop offset="0.667" stop-color="#fdd9c4"/><stop offset="0.708" stop-color="#fcd7c2"/><stop offset="0.750" stop-color="#fdd9c4"/><stop offset="0.792" stop-color="#fcd7c2"/><stop offset="0.833" stop-color="#fcd7c2"/><stop offset="0.875" stop-color="#fcd7c2"/><stop offset="0.917" stop-color="#fcd7c2"/><stop offset="0.958" stop-color="#fdd9c4"/><stop offset="1.000" stop-color="#fcd7c2"/></linearGradient>
<linearGradient id="b108" gradientUnits="userSpaceOnUse" x1="654.2" y1="474.7" x2="386.4" y2="68.5"><stop offset="0.000" stop-color="#fce2d2"/><stop offset="0.042" stop-color="#fcdfcf"/><stop offset="0.083" stop-color="#fcdecd"/><stop offset="0.125" stop-color="#fdddcb"/><stop offset="0.167" stop-color="#fdddcb"/><stop offset="0.208" stop-color="#fddcc9"/><stop offset="0.250" stop-color="#fddcc9"/><stop offset="0.292" stop-color="#fddbc7"/><stop offset="0.333" stop-color="#fdd9c4"/><stop offset="0.375" stop-color="#fddbc7"/><stop offset="0.417" stop-color="#fdd9c4"/><stop offset="0.458" stop-color="#fcd7c2"/><stop offset="0.500" stop-color="#fdd9c4"/><stop offset="0.542" stop-color="#fcd7c2"/><stop offset="0.583" stop-color="#fcd7c2"/><stop offset="0.625" stop-color="#fcd7c2"/><stop offset="0.667" stop-color="#fcd7c2"/><stop offset="0.708" stop-color="#fcd7c2"/><stop offset="0.750" stop-color="#fcd7c2"/><stop offset="0.792" stop-color="#fcd7c2"/><stop offset="0.833" stop-color="#fcd7c2"/><stop offset="0.875" stop-color="#fcd7c2"/><stop offset="0.917" stop-color="#fcd7c2"/><stop offset="0.958" stop-color="#fdd9c4"/><stop offset="1.000" stop-color="#fcd5bf"/></linearGradient>
<linearGradient id="b109" gradientUnits="userSpaceOnUse" x1="654.1" y1="474.8" x2="382.3" y2="71.6"><stop offset="0.000" stop-color="#fce2d2"/><stop offset="0.042" stop-color="#fcdecd"/><stop offset="0.083" stop-color="#fcdecd"/><stop offset="0.125" stop-color="#fdddcb"/><stop offset="0.167" stop-color="#fddcc9"/><stop offset="0.208" stop-color="#fdd9c4"/><stop offset="0.250" stop-color="#fddbc7"/><stop offset="0.292" stop-color="#fdd9c4"/><stop offset="0.333" stop-color="#fcd7c2"/><stop offset="0.375" stop-color="#fdd9c4"/><stop offset="0.417" stop-color="#fcd7c2"/><stop offset="0.458" stop-color="#fcd7c2"/><stop offset="0.500" stop-color="#fcd7c2"/><stop offset="0.542" stop-color="#fcd7c2"/><stop offset="0.583" stop-color="#fcd7c2"/><stop offset="0.625" stop-color="#fcd7c2"/><stop offset="0.667" stop-color="#fcd7c2"/><stop offset="0.708" stop-color="#fcd5bf"/><stop offset="0.750" stop-color="#fcd7c2"/><stop offset="0.792" stop-color="#fcd7c2"/><stop offset="0.833" stop-color="#fcd7c2"/><stop offset="0.875" stop-color="#fcd7c2"/><stop offset="0.917" stop-color="#fcd7c2"/><stop offset="0.958" stop-color="#fcd7c2"/><stop offset="1.000" stop-color="#fcd5bf"/></linearGradient>
<linearGradient id="b110" gradientUnits="userSpaceOnUse" x1="654" y1="474.9" x2="378.3" y2="74.8"><stop offset="0.000" stop-color="#fce2d2"/><stop offset="0.042" stop-color="#fcdfcf"/><stop offset="0.083" stop-color="#fcdecd"/><stop offset="0.125" stop-color="#fdddcb"/><stop offset="0.167" stop-color="#fddcc9"/><stop offset="0.208" stop-color="#fddbc7"/><stop offset="0.250" stop-color="#fddbc7"/><stop offset="0.292" stop-color="#fddbc7"/><stop offset="0.333" stop-color="#fdd9c4"/><stop offset="0.375" stop-color="#fcd7c2"/><stop offset="0.417" stop-color="#fddbc7"/><stop offset="0.458" stop-color="#fdd9c4"/><stop offset="0.500" stop-color="#fdd9c4"/><stop offset="0.542" stop-color="#fdd9c4"/><stop offset="0.583" stop-color="#fcd7c2"/><stop offset="0.625" stop-color="#fcd5bf"/><stop offset="0.667" stop-color="#fdd9c4"/><stop offset="0.708" stop-color="#fdd9c4"/><stop offset="0.750" stop-color="#fcd7c2"/><stop offset="0.792" stop-color="#fcd5bf"/><stop offset="0.833" stop-color="#fcd7c2"/><stop offset="0.875" stop-color="#fdd9c4"/><stop offset="0.917" stop-color="#fcd7c2"/><stop offset="0.958" stop-color="#fcd7c2"/><stop offset="1.000" stop-color="#fcd7c2"/></linearGradient>
<linearGradient id="b111" gradientUnits="userSpaceOnUse" x1="653.8" y1="475" x2="374.3" y2="78"><stop offset="0.000" stop-color="#fce2d2"/><stop offset="0.042" stop-color="#fcdfcf"/><stop offset="0.083" stop-color="#fcdecd"/><stop offset="0.125" stop-color="#fdddcb"/><stop offset="0.167" stop-color="#fddbc7"/><stop offset="0.208" stop-color="#fddbc7"/><stop offset="0.250" stop-color="#fddcc9"/><stop offset="0.292" stop-color="#fdd9c4"/><stop offset="0.333" stop-color="#fdd9c4"/><stop offset="0.375" stop-color="#fdd9c4"/><stop offset="0.417" stop-color="#fdd9c4"/><stop offset="0.458" stop-color="#fcd7c2"/><stop offset="0.500" stop-color="#fcd7c2"/><stop offset="0.542" stop-color="#fcd7c2"/><stop offset="0.583" stop-color="#fcd5bf"/><stop offset="0.625" stop-color="#fcd7c2"/><stop offset="0.667" stop-color="#fcd7c2"/><stop offset="0.708" stop-color="#fcd5bf"/><stop offset="0.750" stop-color="#fcd7c2"/><stop offset="0.792" stop-color="#fcd7c2"/><stop offset="0.833" stop-color="#fcd7c2"/><stop offset="0.875" stop-color="#fcd5bf"/><stop offset="0.917" stop-color="#fcd5bf"/><stop offset="0.958" stop-color="#fcd5bf"/><stop offset="1.000" stop-color="#fcd5bf"/></linearGradient>
<linearGradient id="b112" gradientUnits="userSpaceOnUse" x1="653.7" y1="475.1" x2="370.3" y2="81.3"><stop offset="0.000" stop-color="#fbe3d4"/><stop offset="0.042" stop-color="#fcdfcf"/><stop offset="0.083" stop-color="#fcdecd"/><stop offset="0.125" stop-color="#fdddcb"/><stop offset="0.167" stop-color="#fddcc9"/><stop offset="0.208" stop-color="#fddcc9"/><stop offset="0.250" stop-color="#fcd7c2"/><stop offset="0.292" stop-color="#fdd9c4"/><stop offset="0.333" stop-color="#fdd9c4"/><stop offset="0.375" stop-color="#fddbc7"/><stop offset="0.417" stop-color="#fdd9c4"/><stop offset="0.458" stop-color="#fdd9c4"/><stop offset="0.500" stop-color="#fcd7c2"/><stop offset="0.542" stop-color="#fcd7c2"/><stop offset="0.583" stop-color="#fdd9c4"/><stop offset="0.625" stop-color="#fcd7c2"/><stop offset="0.667" stop-color="#fcd7c2"/><stop offset="0.708" stop-color="#fcd7c2"/><stop offset="0.750" stop-color="#fcd5bf"/><stop offset="0.792" stop-color="#fcd5bf"/><stop offset="0.833" stop-color="#fdd9c4"/><stop offset="0.875" stop-color="#fcd5bf"/><stop offset="0.917" stop-color="#fcd5bf"/><stop offset="0.958" stop-color="#fcd7c2"/><stop offset="1.000" stop-color="#fcd7c2"/></linearGradient>
<linearGradient id="b113" gradientUnits="userSpaceOnUse" x1="653.6" y1="475.3" x2="366.4" y2="84.6"><stop offset="0.000" stop-color="#fce2d2"/><stop offset="0.042" stop-color="#fcdfcf"/><stop offset="0.083" stop-color="#fdddcb"/><stop offset="0.125" stop-color="#fddcc9"/><stop offset="0.167" stop-color="#fddcc9"/><stop offset="0.208" stop-color="#fddbc7"/><stop offset="0.250" stop-color="#fdd9c4"/><stop offset="0.292" stop-color="#fddbc7"/><stop offset="0.333" stop-color="#fdd9c4"/><stop offset="0.375" stop-color="#fcd7c2"/><stop offset="0.417" stop-color="#fdd9c4"/><stop offset="0.458" stop-color="#fcd7c2"/><stop offset="0.500" stop-color="#fcd7c2"/><stop offset="0.542" stop-color="#fcd7c2"/><stop offset="0.583" stop-color="#fcd7c2"/><stop offset="0.625" stop-color="#fcd7c2"/><stop offset="0.667" stop-color="#fcd7c2"/><stop offset="0.708" stop-color="#fcd7c2"/><stop offset="0.750" stop-color="#fcd7c2"/><stop offset="0.792" stop-color="#fcd5bf"/><stop offset="0.833" stop-color="#fcd5bf"/><stop offset="0.875" stop-color="#fcd5bf"/><stop offset="0.917" stop-color="#fcd7c2"/><stop offset="0.958" stop-color="#fcd7c2"/><stop offset="1.000" stop-color="#fcd5bf"/></linearGradient>
<linearGradient id="b114" gradientUnits="userSpaceOnUse" x1="653.5" y1="475.4" x2="362.5" y2="87.9"><stop offset="0.000" stop-color="#fbe3d4"/><stop offset="0.042" stop-color="#fcdfcf"/><stop offset="0.083" stop-color="#fdddcb"/><stop offset="0.125" stop-color="#fddcc9"/><stop offset="0.167" stop-color="#fddcc9"/><stop offset="0.208" stop-color="#fddbc7"/><stop offset="0.250" stop-color="#fdd9c4"/><stop offset="0.292" stop-color="#fdd9c4"/><stop offset="0.333" stop-color="#fdd9c4"/><stop offset="0.375" stop-color="#fcd7c2"/><stop offset="0.417" stop-color="#fcd7c2"/><stop offset="0.458" stop-color="#fcd7c2"/><stop offset="0.500" stop-color="#fcd7c2"/><stop offset="0.542" stop-color="#fcd5bf"/><stop offset="0.583" stop-color="#fcd5bf"/><stop offset="0.625" stop-color="#fcd5bf"/><stop offset="0.667" stop-color="#fcd5bf"/><stop offset="0.708" stop-color="#fcd5bf"/><stop offset="0.750" stop-color="#fcd3bc"/><stop offset="0.792" stop-color="#fcd7c2"/><stop offset="0.833" stop-color="#fcd5bf"/><stop offset="0.875" stop-color="#fcd5bf"/><stop offset="0.917" stop-color="#fcd5bf"/><stop offset="0.958" stop-color="#fcd3bc"/><stop offset="1.000" stop-color="#fcd7c2"/></linearGradient>
<linearGradient id="b115" gradientUnits="userSpaceOnUse" x1="653.3" y1="475.5" x2="358.6" y2="91.3"><stop offset="0.000" stop-color="#fce0d0"/><stop offset="0.042" stop-color="#fcdecd"/><stop offset="0.083" stop-color="#fdddcb"/><stop offset="0.125" stop-color="#fddcc9"/><stop offset="0.167" stop-color="#fddbc7"/><stop offset="0.208" stop-color="#fcd7c2"/><stop offset="0.250" stop-color="#fcd7c2"/><stop offset="0.292" stop-color="#fcd7c2"/><stop offset="0.333" stop-color="#fcd7c2"/><stop offset="0.375" stop-color="#fcd5bf"/><stop offset="0.417" stop-color="#fcd5bf"/><stop offset="0.458" stop-color="#fcd5bf"/><stop offset="0.500" stop-color="#fcd5bf"/><stop offset="0.542" stop-color="#fcd5bf"/><stop offset="0.583" stop-color="#fcd3bc"/><stop offset="0.625" stop-color="#fcd5bf"/><stop offset="0.667" stop-color="#fcd3bc"/><stop offset="0.708" stop-color="#fcd3bc"/><stop offset="0.750" stop-color="#fcd3bc"/><stop offset="0.792" stop-color="#fcd3bc"/><stop offset="0.833" stop-color="#fcd3bc"/><stop offset="0.875" stop-color="#fcd3bc"/><stop offset="0.917" stop-color="#fcd7c2"/><stop offset="0.958" stop-color="#fcd5bf"/><stop offset="1.000" stop-color="#fcd3bc"/></linearGradient>
<linearGradient id="b116" gradientUnits="userSpaceOnUse" x1="653.2" y1="475.6" x2="354.7" y2="94.8"><stop offset="0.000" stop-color="#fce0d0"/><stop offset="0.042" stop-color="#fdddcb"/><stop offset="0.083" stop-color="#fddcc9"/><stop offset="0.125" stop-color="#fddcc9"/><stop offset="0.167" stop-color="#fddcc9"/><stop offset="0.208" stop-color="#fddbc7"/><stop offset="0.250" stop-color="#fcd7c2"/><stop offset="0.292" stop-color="#fcd7c2"/><stop offset="0.333" stop-color="#fcd7c2"/><stop offset="0.375" stop-color="#fcd5bf"/><stop offset="0.417" stop-color="#fcd7c2"/><stop offset="0.458" stop-color="#fcd5bf"/><stop offset="0.500" stop-color="#fcd5bf"/><stop offset="0.542" stop-color="#fcd5bf"/><stop offset="0.583" stop-color="#fcd5bf"/><stop offset="0.625" stop-color="#fcd5bf"/><stop offset="0.667" stop-color="#fcd7c2"/><stop offset="0.708" stop-color="#fcd5bf"/><stop offset="0.750" stop-color="#fcd7c2"/><stop offset="0.792" stop-color="#fcd3bc"/><stop offset="0.833" stop-color="#fcd5bf"/><stop offset="0.875" stop-color="#fcd3bc"/><stop offset="0.917" stop-color="#fcd5bf"/><stop offset="0.958" stop-color="#fcd5bf"/><stop offset="1.000" stop-color="#fcd5bf"/></linearGradient>
<linearGradient id="b117" gradientUnits="userSpaceOnUse" x1="653.1" y1="475.7" x2="350.9" y2="98.3"><stop offset="0.000" stop-color="#fce0d0"/><stop offset="0.042" stop-color="#fcdecd"/><stop offset="0.083" stop-color="#fdddcb"/><stop offset="0.125" stop-color="#fddcc9"/><stop offset="0.167" stop-color="#fddbc7"/><stop offset="0.208" stop-color="#fddbc7"/><stop offset="0.250" stop-color="#fddbc7"/><stop offset="0.292" stop-color="#fcd7c2"/><stop offset="0.333" stop-color="#fcd7c2"/><stop offset="0.375" stop-color="#fcd7c2"/><stop offset="0.417" stop-color="#fcd5bf"/><stop offset="0.458" stop-color="#fcd7c2"/><stop offset="0.500" stop-color="#fcd5bf"/><stop offset="0.542" stop-color="#fcd5bf"/><stop offset="0.583" stop-color="#fcd7c2"/><stop offset="0.625" stop-color="#fcd5bf"/><stop offset="0.667" stop-color="#fcd5bf"/><stop offset="0.708" stop-color="#fcd5bf"/><stop offset="0.750" stop-color="#fcd5bf"/><stop offset="0.792" stop-color="#fcd5bf"/><stop offset="0.833" stop-color="#fcd5bf"/><stop offset="0.875" stop-color="#fcd5bf"/><stop offset="0.917" stop-color="#fcd3bc"/><stop offset="0.958" stop-color="#fcd5bf"/><stop offset="1.000" stop-color="#fcd5bf"/></linearGradient>
<linearGradient id="b118" gradientUnits="userSpaceOnUse" x1="653" y1="475.8" x2="347.2" y2="101.8"><stop offset="0.000" stop-color="#fcdfcf"/><stop offset="0.042" stop-color="#fddcc9"/><stop offset="0.083" stop-color="#fddbc7"/><stop offset="0.125" stop-color="#fcd7c2"/><stop offset="0.167" stop-color="#fcd7c2"/><stop offset="0.208" stop-color="#fcd7c2"/><stop offset="0.250" stop-color="#fcd5bf"/><stop offset="0.292" stop-color="#fcd3bc"/><stop offset="0.333" stop-color="#fcd3bc"/><stop offset="0.375" stop-color="#fbd0b9"/><stop offset="0.417" stop-color="#fcd3bc"/><stop offset="0.458" stop-color="#fbd0b9"/><stop offset="0.500" stop-color="#fcd3bc"/><stop offset="0.542" stop-color="#fbd0b9"/><stop offset="0.583" stop-color="#fbd0b9"/><stop offset="0.625" stop-color="#fbd0b9"/><stop offset="0.667" stop-color="#fcd3bc"/><stop offset="0.708" stop-color="#fbd0b9"/><stop offset="0.750" stop-color="#fbd0b9"/><stop offset="0.792" stop-color="#fbd0b9"/><stop offset="0.833" stop-color="#fbceb7"/><stop offset="0.875" stop-color="#fbd0b9"/><stop offset="0.917" stop-color="#fbd0b9"/><stop offset="0.958" stop-color="#fbd0b9"/><stop offset="1.000" stop-color="#fbd0b9"/></linearGradient>
<linearGradient id="b119" gradientUnits="userSpaceOnUse" x1="652.9" y1="475.9" x2="343.4" y2="105.4"><stop offset="0.000" stop-color="#fcdecd"/><stop offset="0.042" stop-color="#fdddcb"/><stop offset="0.083" stop-color="#fddcc9"/><stop offset="0.125" stop-color="#fddbc7"/><stop offset="0.167" stop-color="#fcd7c2"/><stop offset="0.208" stop-color="#fcd7c2"/><stop offset="0.250" stop-color="#fcd7c2"/><stop offset="0.292" stop-color="#fcd3bc"/><stop offset="0.333" stop-color="#fcd5bf"/><stop offset="0.375" stop-color="#fcd3bc"/><stop offset="0.417" stop-color="#fcd3bc"/><stop offset="0.458" stop-color="#fbd0b9"/><stop offset="0.500" stop-color="#fcd3bc"/><stop offset="0.542" stop-color="#fcd3bc"/><stop offset="0.583" stop-color="#fbd0b9"/><stop offset="0.625" stop-color="#fbd0b9"/><stop offset="0.667" stop-color="#fcd3bc"/><stop offset="0.708" stop-color="#fcd3bc"/><stop offset="0.750" stop-color="#fbd0b9"/><stop offset="0.792" stop-color="#fcd3bc"/><stop offset="0.833" stop-color="#fbd0b9"/><stop offset="0.875" stop-color="#fbd0b9"/><stop offset="0.917" stop-color="#fcd3bc"/><stop offset="0.958" stop-color="#fbd0b9"/><stop offset="1.000" stop-color="#fbd0b9"/></linearGradient>
<linearGradient id="b120" gradientUnits="userSpaceOnUse" x1="652.7" y1="476" x2="339.7" y2="109"><stop offset="0.000" stop-color="#fcdfcf"/><stop offset="0.042" stop-color="#fdddcb"/><stop offset="0.083" stop-color="#fddcc9"/><stop offset="0.125" stop-color="#fddcc9"/><stop offset="0.167" stop-color="#fdd9c4"/><stop offset="0.208" stop-color="#fdd9c4"/><stop offset="0.250" stop-color="#fcd7c2"/><stop offset="0.292" stop-color="#fcd5bf"/><stop offset="0.333" stop-color="#fcd5bf"/><stop offset="0.375" stop-color="#fcd5bf"/><stop offset="0.417" stop-color="#fcd3bc"/><stop offset="0.458" stop-color="#fbd0b9"/><stop offset="0.500" stop-color="#fcd3bc"/><stop offset="0.542" stop-color="#fcd3bc"/><stop offset="0.583" stop-color="#fcd3bc"/><stop offset="0.625" stop-color="#fbd0b9"/><stop offset="0.667" stop-color="#fcd3bc"/><stop offset="0.708" stop-color="#fbd0b9"/><stop offset="0.750" stop-color="#fbd0b9"/><stop offset="0.792" stop-color="#fcd3bc"/><stop offset="0.833" stop-color="#fcd3bc"/><stop offset="0.875" stop-color="#fbd0b9"/><stop offset="0.917" stop-color="#fbd0b9"/><stop offset="0.958" stop-color="#fcd3bc"/><stop offset="1.000" stop-color="#fbd0b9"/></linearGradient>
<linearGradient id="b121" gradientUnits="userSpaceOnUse" x1="652.6" y1="476.1" x2="336" y2="112.6"><stop offset="0.000" stop-color="#fce0d0"/><stop offset="0.042" stop-color="#fcdfcf"/><stop offset="0.083" stop-color="#fdddcb"/><stop offset="0.125" stop-color="#fddbc7"/><stop offset="0.167" stop-color="#fdd9c4"/><stop offset="0.208" stop-color="#fdd9c4"/><stop offset="0.250" stop-color="#fcd5bf"/><stop offset="0.292" stop-color="#fcd7c2"/><stop offset="0.333" stop-color="#fcd5bf"/><stop offset="0.375" stop-color="#fcd5bf"/><stop offset="0.417" stop-color="#fcd3bc"/><stop offset="0.458" stop-color="#fcd5bf"/><stop offset="0.500" stop-color="#fcd5bf"/><stop offset="0.542" stop-color="#fcd3bc"/><stop offset="0.583" stop-color="#fcd3bc"/><stop offset="0.625" stop-color="#fcd5bf"/><stop offset="0.667" stop-color="#fcd3bc"/><stop offset="0.708" stop-color="#fcd3bc"/><stop offset="0.750" stop-color="#fcd3bc"/><stop offset="0.792" stop-color="#fbd0b9"/><stop offset="0.833" stop-color="#fcd3bc"/><stop offset="0.875" stop-color="#fcd5bf"/><stop offset="0.917" stop-color="#fcd3bc"/><stop offset="0.958" stop-color="#fcd3bc"/><stop offset="1.000" stop-color="#fcd3bc"/></linearGradient>
<linearGradient id="b122" gradientUnits="userSpaceOnUse" x1="652.5" y1="476.3" x2="332.4" y2="116.3"><stop offset="0.000" stop-color="#fcdfcf"/><stop offset="0.042" stop-color="#fcdecd"/><stop offset="0.083" stop-color="#fddbc7"/><stop offset="0.125" stop-color="#fdd9c4"/><stop offset="0.167" stop-color="#fdd9c4"/><stop offset="0.208" stop-color="#fcd7c2"/><stop offset="0.250" stop-color="#fcd5bf"/><stop offset="0.292" stop-color="#fcd7c2"/><stop offset="0.333" stop-color="#fcd3bc"/><stop offset="0.375" stop-color="#fcd3bc"/><stop offset="0.417" stop-color="#fcd3bc"/><stop offset="0.458" stop-color="#fcd3bc"/><stop offset="0.500" stop-color="#fcd3bc"/><stop offset="0.542" stop-color="#fbd0b9"/><stop offset="0.583" stop-color="#fbd0b9"/><stop offset="0.625" stop-color="#fbd0b9"/><stop offset="0.667" stop-color="#fbd0b9"/><stop offset="0.708" stop-color="#fbd0b9"/><stop offset="0.750" stop-color="#fbd0b9"/><stop offset="0.792" stop-color="#fbd0b9"/><stop offset="0.833" stop-color="#fbd0b9"/><stop offset="0.875" stop-color="#fcd3bc"/><stop offset="0.917" stop-color="#fbd0b9"/><stop offset="0.958" stop-color="#fcd3bc"/><stop offset="1.000" stop-color="#fbd0b9"/></linearGradient>
<linearGradient id="b123" gradientUnits="userSpaceOnUse" x1="652.4" y1="476.4" x2="328.8" y2="120.1"><stop offset="0.000" stop-color="#fcdecd"/><stop offset="0.042" stop-color="#fddcc9"/><stop offset="0.083" stop-color="#fddbc7"/><stop offset="0.125" stop-color="#fdd9c4"/><stop offset="0.167" stop-color="#fdd9c4"/><stop offset="0.208" stop-color="#fcd5bf"/><stop offset="0.250" stop-color="#fcd7c2"/><stop offset="0.292" stop-color="#fcd5bf"/><stop offset="0.333" stop-color="#fbd0b9"/><stop offset="0.375" stop-color="#fbceb7"/><stop offset="0.417" stop-color="#fcd3bc"/><stop offset="0.458" stop-color="#fbceb7"/><stop offset="0.500" stop-color="#fbd0b9"/><stop offset="0.542" stop-color="#fcd3bc"/><stop offset="0.583" stop-color="#fbd0b9"/><stop offset="0.625" stop-color="#fbd0b9"/><stop offset="0.667" stop-color="#fbd0b9"/><stop offset="0.708" stop-color="#fbd0b9"/><stop offset="0.750" stop-color="#fbceb7"/><stop offset="0.792" stop-color="#fbceb7"/><stop offset="0.833" stop-color="#fbceb7"/><stop offset="0.875" stop-color="#fbd0b9"/><stop offset="0.917" stop-color="#fbceb7"/><stop offset="0.958" stop-color="#fbd0b9"/><stop offset="1.000" stop-color="#fbceb7"/></linearGradient>
<linearGradient id="b124" gradientUnits="userSpaceOnUse" x1="652.3" y1="476.5" x2="325.2" y2="123.8"><stop offset="0.000" stop-color="#fcdecd"/><stop offset="0.042" stop-color="#fddcc9"/><stop offset="0.083" stop-color="#fddcc9"/><stop offset="0.125" stop-color="#fdd9c4"/><stop offset="0.167" stop-color="#fcd7c2"/><stop offset="0.208" stop-color="#fcd7c2"/><stop offset="0.250" stop-color="#fcd5bf"/><stop offset="0.292" stop-color="#fcd3bc"/><stop offset="0.333" stop-color="#fcd3bc"/><stop offset="0.375" stop-color="#fcd3bc"/><stop offset="0.417" stop-color="#fbceb7"/><stop offset="0.458" stop-color="#fbceb7"/><stop offset="0.500" stop-color="#fbd0b9"/><stop offset="0.542" stop-color="#fbd0b9"/><stop offset="0.583" stop-color="#fcd3bc"/><stop offset="0.625" stop-color="#fbd0b9"/><stop offset="0.667" stop-color="#fbceb7"/><stop offset="0.708" stop-color="#fbd0b9"/><stop offset="0.750" stop-color="#fbd0b9"/><stop offset="0.792" stop-color="#fcd3bc"/><stop offset="0.833" stop-color="#fbd0b9"/><stop offset="0.875" stop-color="#fbceb7"/><stop offset="0.917" stop-color="#fbd0b9"/><stop offset="0.958" stop-color="#fbceb7"/><stop offset="1.000" stop-color="#fbceb7"/></linearGradient>
<linearGradient id="b125" gradientUnits="userSpaceOnUse" x1="652.2" y1="476.6" x2="321.7" y2="127.6"><stop offset="0.000" stop-color="#fcdecd"/><stop offset="0.042" stop-color="#fdddcb"/><stop offset="0.083" stop-color="#fddbc7"/><stop offset="0.125" stop-color="#fdd9c4"/><stop offset="0.167" stop-color="#fcd7c2"/><stop offset="0.208" stop-color="#fcd7c2"/><stop offset="0.250" stop-color="#fbd0b9"/><stop offset="0.292" stop-color="#fcd3bc"/><stop offset="0.333" stop-color="#fcd3bc"/><stop offset="0.375" stop-color="#fbd0b9"/><stop offset="0.417" stop-color="#fcd3bc"/><stop offset="0.458" stop-color="#fbd0b9"/><stop offset="0.500" stop-color="#fcd3bc"/><stop offset="0.542" stop-color="#fbd0b9"/><stop offset="0.583" stop-color="#fbd0b9"/><stop offset="0.625" stop-color="#fbd0b9"/><stop offset="0.667" stop-color="#fbceb7"/><stop offset="0.708" stop-color="#fbceb7"/><stop offset="0.750" stop-color="#fbceb7"/><stop offset="0.792" stop-color="#fbd0b9"/><stop offset="0.833" stop-color="#fbceb7"/><stop offset="0.875" stop-color="#fcd3bc"/><stop offset="0.917" stop-color="#fbceb7"/><stop offset="0.958" stop-color="#fbd0b9"/><stop offset="1.000" stop-color="#fbceb7"/></linearGradient>
<linearGradient id="b126" gradientUnits="userSpaceOnUse" x1="652.1" y1="476.7" x2="318.2" y2="131.5"><stop offset="0.000" stop-color="#fcdfcf"/><stop offset="0.042" stop-color="#fdddcb"/><stop offset="0.083" stop-color="#fdd9c4"/><stop offset="0.125" stop-color="#fdd9c4"/><stop offset="0.167" stop-color="#fcd7c2"/><stop offset="0.208" stop-color="#fcd3bc"/><stop offset="0.250" stop-color="#fcd5bf"/><stop offset="0.292" stop-color="#fbd0b9"/><stop offset="0.333" stop-color="#fbd0b9"/><stop offset="0.375" stop-color="#fcd3bc"/><stop offset="0.417" stop-color="#fbd0b9"/><stop offset="0.458" stop-color="#fbd0b9"/><stop offset="0.500" stop-color="#fcd3bc"/><stop offset="0.542" stop-color="#fbd0b9"/><stop offset="0.583" stop-color="#fbceb7"/><stop offset="0.625" stop-color="#fbd0b9"/><stop offset="0.667" stop-color="#fbceb7"/><stop offset="0.708" stop-color="#fbccb4"/><stop offset="0.750" stop-color="#fbceb7"/><stop offset="0.792" stop-color="#fbceb7"/><stop offset="0.833" stop-color="#fcd3bc"/><stop offset="0.875" stop-color="#fbceb7"/><stop offset="0.917" stop-color="#fbceb7"/><stop offset="0.958" stop-color="#fbceb7"/><stop offset="1.000" stop-color="#fbd0b9"/></linearGradient>
<linearGradient id="b127" gradientUnits="userSpaceOnUse" x1="651.9" y1="476.9" x2="314.8" y2="135.4"><stop offset="0.000" stop-color="#fcdfcf"/><stop offset="0.042" stop-color="#fdddcb"/><stop offset="0.083" stop-color="#fddcc9"/><stop offset="0.125" stop-color="#fdd9c4"/><stop offset="0.167" stop-color="#fcd7c2"/><stop offset="0.208" stop-color="#fcd5bf"/><stop offset="0.250" stop-color="#fcd3bc"/><stop offset="0.292" stop-color="#fbd0b9"/><stop offset="0.333" stop-color="#fbd0b9"/><stop offset="0.375" stop-color="#fbd0b9"/><stop offset="0.417" stop-color="#fbd0b9"/><stop offset="0.458" stop-color="#fcd3bc"/><stop offset="0.500" stop-color="#fbd0b9"/><stop offset="0.542" stop-color="#fbd0b9"/><stop offset="0.583" stop-color="#fbd0b9"/><stop offset="0.625" stop-color="#fbd0b9"/><stop offset="0.667" stop-color="#fbd0b9"/><stop offset="0.708" stop-color="#fbceb7"/><stop offset="0.750" stop-color="#fbd0b9"/><stop offset="0.792" stop-color="#fbceb7"/><stop offset="0.833" stop-color="#fbceb7"/><stop offset="0.875" stop-color="#fbd0b9"/><stop offset="0.917" stop-color="#fbd0b9"/><stop offset="0.958" stop-color="#fbceb7"/><stop offset="1.000" stop-color="#fbd0b9"/></linearGradient>
<linearGradient id="b128" gradientUnits="userSpaceOnUse" x1="651.8" y1="477" x2="311.4" y2="139.3"><stop offset="0.000" stop-color="#fcdecd"/><stop offset="0.042" stop-color="#fdddcb"/><stop offset="0.083" stop-color="#fddbc7"/><stop offset="0.125" stop-color="#fdd9c4"/><stop offset="0.167" stop-color="#fcd7c2"/><stop offset="0.208" stop-color="#fcd5bf"/><stop offset="0.250" stop-color="#fcd5bf"/><stop offset="0.292" stop-color="#fcd5bf"/><stop offset="0.333" stop-color="#fcd3bc"/><stop offset="0.375" stop-color="#fcd3bc"/><stop offset="0.417" stop-color="#fcd3bc"/><stop offset="0.458" stop-color="#fbd0b9"/><stop offset="0.500" stop-color="#fbd0b9"/><stop offset="0.542" stop-color="#fbd0b9"/><stop offset="0.583" stop-color="#fbd0b9"/><stop offset="0.625" stop-color="#fbd0b9"/><stop offset="0.667" stop-color="#fbd0b9"/><stop offset="0.708" stop-color="#fbd0b9"/><stop offset="0.750" stop-color="#fcd3bc"/><stop offset="0.792" stop-color="#fbccb4"/><stop offset="0.833" stop-color="#fbceb7"/><stop offset="0.875" stop-color="#fcd3bc"/><stop offset="0.917" stop-color="#fbd0b9"/><stop offset="0.958" stop-color="#fbccb4"/><stop offset="1.000" stop-color="#fbd0b9"/></linearGradient>
<linearGradient id="b129" gradientUnits="userSpaceOnUse" x1="651.7" y1="477.1" x2="308" y2="143.3"><stop offset="0.000" stop-color="#fdddcb"/><stop offset="0.042" stop-color="#fddcc9"/><stop offset="0.083" stop-color="#fddbc7"/><stop offset="0.125" stop-color="#fcd7c2"/><stop offset="0.167" stop-color="#fcd5bf"/><stop offset="0.208" stop-color="#fcd5bf"/><stop offset="0.250" stop-color="#fbd0b9"/><stop offset="0.292" stop-color="#fbceb7"/><stop offset="0.333" stop-color="#fbceb7"/><stop offset="0.375" stop-color="#fbceb7"/><stop offset="0.417" stop-color="#fbceb7"/><stop offset="0.458" stop-color="#fbccb4"/><stop offset="0.500" stop-color="#fbccb4"/><stop offset="0.542" stop-color="#fbccb4"/><stop offset="0.583" stop-color="#fbccb4"/><stop offset="0.625" stop-color="#fbccb4"/><stop offset="0.667" stop-color="#fbccb4"/><stop offset="0.708" stop-color="#fbccb4"/><stop offset="0.750" stop-color="#fbceb7"/><stop offset="0.792" stop-color="#fbccb4"/><stop offset="0.833" stop-color="#fbccb4"/><stop offset="0.875" stop-color="#facab1"/><stop offset="0.917" stop-color="#facab1"/><stop offset="0.958" stop-color="#fbccb4"/><stop offset="1.000" stop-color="#fbccb4"/></linearGradient>
<linearGradient id="b130" gradientUnits="userSpaceOnUse" x1="651.6" y1="477.2" x2="304.6" y2="147.3"><stop offset="0.000" stop-color="#fcdecd"/><stop offset="0.042" stop-color="#fddcc9"/><stop offset="0.083" stop-color="#fddbc7"/><stop offset="0.125" stop-color="#fdd9c4"/><stop offset="0.167" stop-color="#fcd5bf"/><stop offset="0.208" stop-color="#fcd3bc"/><stop offset="0.250" stop-color="#fcd3bc"/><stop offset="0.292" stop-color="#fcd3bc"/><stop offset="0.333" stop-color="#fcd3bc"/><stop offset="0.375" stop-color="#fbd0b9"/><stop offset="0.417" stop-color="#fbceb7"/><stop offset="0.458" stop-color="#fbceb7"/><stop offset="0.500" stop-color="#fbd0b9"/><stop offset="0.542" stop-color="#fbceb7"/><stop offset="0.583" stop-color="#fbceb7"/><stop offset="0.625" stop-color="#fbccb4"/><stop offset="0.667" stop-color="#fbd0b9"/><stop offset="0.708" stop-color="#fbd0b9"/><stop offset="0.750" stop-color="#fbceb7"/><stop offset="0.792" stop-color="#fbccb4"/><stop offset="0.833" stop-color="#fbceb7"/><stop offset="0.875" stop-color="#fbceb7"/><stop offset="0.917" stop-color="#fbccb4"/><stop offset="0.958" stop-color="#fbceb7"/><stop offset="1.000" stop-color="#fbccb4"/></linearGradient>
<linearGradient id="b131" gradientUnits="userSpaceOnUse" x1="651.5" y1="477.4" x2="301.3" y2="151.4"><stop offset="0.000" stop-color="#fcdfcf"/><stop offset="0.042" stop-color="#fdddcb"/><stop offset="0.083" stop-color="#fdd9c4"/><stop offset="0.125" stop-color="#fdd9c4"/><stop offset="0.167" stop-color="#fcd7c2"/><stop offset="0.208" stop-color="#fcd3bc"/><stop offset="0.250" stop-color="#fcd3bc"/><stop offset="0.292" stop-color="#fcd3bc"/><stop offset="0.333" stop-color="#fbd0b9"/><stop offset="0.375" stop-color="#fbd0b9"/><stop offset="0.417" stop-color="#fbceb7"/><stop offset="0.458" stop-color="#fbd0b9"/><stop offset="0.500" stop-color="#fbccb4"/><stop offset="0.542" stop-color="#fbd0b9"/><stop offset="0.583" stop-color="#fbccb4"/><stop offset="0.625" stop-color="#fbceb7"/><stop offset="0.667" stop-color="#fbccb4"/><stop offset="0.708" stop-color="#fbccb4"/><stop offset="0.750" stop-color="#fbccb4"/><stop offset="0.792" stop-color="#fbceb7"/><stop offset="0.833" stop-color="#fbccb4"/><stop offset="0.875" stop-color="#fbceb7"/><stop offset="0.917" stop-color="#fbccb4"/><stop offset="0.958" stop-color="#fbceb7"/><stop offset="1.000" stop-color="#fbccb4"/></linearGradient>
<linearGradient id="b132" gradientUnits="userSpaceOnUse" x1="651.4" y1="477.5" x2="298.1" y2="155.4"><stop offset="0.000" stop-color="#fcdecd"/><stop offset="0.042" stop-color="#fdddcb"/><stop offset="0.083" stop-color="#fdd9c4"/><stop offset="0.125" stop-color="#fcd7c2"/><stop offset="0.167" stop-color="#fcd7c2"/><stop offset="0.208" stop-color="#fcd3bc"/><stop offset="0.250" stop-color="#fcd3bc"/><stop offset="0.292" stop-color="#fbd0b9"/><stop offset="0.333" stop-color="#fbd0b9"/><stop offset="0.375" stop-color="#fbccb4"/><stop offset="0.417" stop-color="#fbceb7"/><stop offset="0.458" stop-color="#fbceb7"/><stop offset="0.500" stop-color="#fbccb4"/><stop offset="0.542" stop-color="#fbccb4"/><stop offset="0.583" stop-color="#fbceb7"/><stop offset="0.625" stop-color="#fbceb7"/><stop offset="0.667" stop-color="#fbccb4"/><stop offset="0.708" stop-color="#fbd0b9"/><stop offset="0.750" stop-color="#fbccb4"/><stop offset="0.792" stop-color="#fbccb4"/><stop offset="0.833" stop-color="#fbceb7"/><stop offset="0.875" stop-color="#fbccb4"/><stop offset="0.917" stop-color="#fbccb4"/><stop offset="0.958" stop-color="#fbccb4"/><stop offset="1.000" stop-color="#fbceb7"/></linearGradient>
<linearGradient id="b133" gradientUnits="userSpaceOnUse" x1="651.3" y1="477.6" x2="294.9" y2="159.6"><stop offset="0.000" stop-color="#fdddcb"/><stop offset="0.042" stop-color="#fdddcb"/><stop offset="0.083" stop-color="#fdd9c4"/><stop offset="0.125" stop-color="#fcd7c2"/><stop offset="0.167" stop-color="#fcd5bf"/><stop offset="0.208" stop-color="#fcd5bf"/><stop offset="0.250" stop-color="#fbd0b9"/><stop offset="0.292" stop-color="#fbd0b9"/><stop offset="0.333" stop-color="#fbceb7"/><stop offset="0.375" stop-color="#fbceb7"/><stop offset="0.417" stop-color="#fbd0b9"/><stop offset="0.458" stop-color="#fbccb4"/><stop offset="0.500" stop-color="#fbd0b9"/><stop offset="0.542" stop-color="#fbccb4"/><stop offset="0.583" stop-color="#fbccb4"/><stop offset="0.625" stop-color="#fbceb7"/><stop offset="0.667" stop-color="#fbceb7"/><stop offset="0.708" stop-color="#fbccb4"/><stop offset="0.750" stop-color="#fbccb4"/><stop offset="0.792" stop-color="#fbccb4"/><stop offset="0.833" stop-color="#fbccb4"/><stop offset="0.875" stop-color="#fbceb7"/><stop offset="0.917" stop-color="#fbceb7"/><stop offset="0.958" stop-color="#fbd0b9"/><stop offset="1.000" stop-color="#fbceb7"/></linearGradient>
<linearGradient id="b134" gradientUnits="userSpaceOnUse" x1="651.2" y1="477.8" x2="291.7" y2="163.7"><stop offset="0.000" stop-color="#fcdecd"/><stop offset="0.042" stop-color="#fddcc9"/><stop offset="0.083" stop-color="#fdd9c4"/><stop offset="0.125" stop-color="#fcd7c2"/><stop offset="0.167" stop-color="#fcd7c2"/><stop offset="0.208" stop-color="#fbd0b9"/><stop offset="0.250" stop-color="#fbceb7"/><stop offset="0.292" stop-color="#fbceb7"/><stop offset="0.333" stop-color="#fbd0b9"/><stop offset="0.375" stop-color="#fbd0b9"/><stop offset="0.417" stop-color="#fbccb4"/><stop offset="0.458" stop-color="#fbceb7"/><stop offset="0.500" stop-color="#fbccb4"/><stop offset="0.542" stop-color="#fbccb4"/><stop offset="0.583" stop-color="#fbccb4"/><stop offset="0.625" stop-color="#fbccb4"/><stop offset="0.667" stop-color="#fbccb4"/><stop offset="0.708" stop-color="#fbceb7"/><stop offset="0.750" stop-color="#fbceb7"/><stop offset="0.792" stop-color="#facab1"/><stop offset="0.833" stop-color="#fbccb4"/><stop offset="0.875" stop-color="#fbccb4"/><stop offset="0.917" stop-color="#fbceb7"/><stop offset="0.958" stop-color="#fbceb7"/><stop offset="1.000" stop-color="#fbccb4"/></linearGradient>
<linearGradient id="b135" gradientUnits="userSpaceOnUse" x1="651.1" y1="477.9" x2="288.6" y2="167.9"><stop offset="0.000" stop-color="#fdddcb"/><stop offset="0.042" stop-color="#fddbc7"/><stop offset="0.083" stop-color="#fddbc7"/><stop offset="0.125" stop-color="#fcd7c2"/><stop offset="0.167" stop-color="#fcd3bc"/><stop offset="0.208" stop-color="#fcd5bf"/><stop offset="0.250" stop-color="#fcd3bc"/><stop offset="0.292" stop-color="#fbccb4"/><stop offset="0.333" stop-color="#fbd0b9"/><stop offset="0.375" stop-color="#fbccb4"/><stop offset="0.417" stop-color="#fbceb7"/><stop offset="0.458" stop-color="#fbccb4"/><stop offset="0.500" stop-color="#fbccb4"/><stop offset="0.542" stop-color="#facab1"/><stop offset="0.583" stop-color="#fbccb4"/><stop offset="0.625" stop-color="#fbceb7"/><stop offset="0.667" stop-color="#fbccb4"/><stop offset="0.708" stop-color="#facab1"/><stop offset="0.750" stop-color="#fbceb7"/><stop offset="0.792" stop-color="#fbceb7"/><stop offset="0.833" stop-color="#fbccb4"/><stop offset="0.875" stop-color="#fbccb4"/><stop offset="0.917" stop-color="#facab1"/><stop offset="0.958" stop-color="#facab1"/><stop offset="1.000" stop-color="#fbccb4"/></linearGradient>
<linearGradient id="b136" gradientUnits="userSpaceOnUse" x1="651" y1="478" x2="285.5" y2="172.1"><stop offset="0.000" stop-color="#fdddcb"/><stop offset="0.042" stop-color="#fddcc9"/><stop offset="0.083" stop-color="#fdd9c4"/><stop offset="0.125" stop-color="#fcd7c2"/><stop offset="0.167" stop-color="#fcd5bf"/><stop offset="0.208" stop-color="#fcd5bf"/><stop offset="0.250" stop-color="#fbd0b9"/><stop offset="0.292" stop-color="#fbd0b9"/><stop offset="0.333" stop-color="#fbd0b9"/><stop offset="0.375" stop-color="#fbceb7"/><stop offset="0.417" stop-color="#fbccb4"/><stop offset="0.458" stop-color="#fbccb4"/><stop offset="0.500" stop-color="#fbceb7"/><stop offset="0.542" stop-color="#fbccb4"/><stop offset="0.583" stop-color="#fbccb4"/><stop offset="0.625" stop-color="#fbccb4"/><stop offset="0.667" stop-color="#fbccb4"/><stop offset="0.708" stop-color="#fbccb4"/><stop offset="0.750" stop-color="#fbccb4"/><stop offset="0.792" stop-color="#fbceb7"/><stop offset="0.833" stop-color="#fbccb4"/><stop offset="0.875" stop-color="#fbccb4"/><stop offset="0.917" stop-color="#facab1"/><stop offset="0.958" stop-color="#facab1"/><stop offset="1.000" stop-color="#fbceb7"/></linearGradient>
<linearGradient id="b137" gradientUnits="userSpaceOnUse" x1="650.9" y1="478.2" x2="282.4" y2="176.4"><stop offset="0.000" stop-color="#fddcc9"/><stop offset="0.042" stop-color="#fddbc7"/><stop offset="0.083" stop-color="#fcd7c2"/><stop offset="0.125" stop-color="#fcd3bc"/><stop offset="0.167" stop-color="#fbd0b9"/><stop offset="0.208" stop-color="#fbd0b9"/><stop offset="0.250" stop-color="#fbccb4"/><stop offset="0.292" stop-color="#fbceb7"/><stop offset="0.333" stop-color="#fbccb4"/><stop offset="0.375" stop-color="#fbccb4"/><stop offset="0.417" stop-color="#facab1"/><stop offset="0.458" stop-color="#facab1"/><stop offset="0.500" stop-color="#facab1"/><stop offset="0.542" stop-color="#facab1"/><stop offset="0.583" stop-color="#facab1"/><stop offset="0.625" stop-color="#facab1"/><stop offset="0.667" stop-color="#fbccb4"/><stop offset="0.708" stop-color="#fbceb7"/><stop offset="0.750" stop-color="#facab1"/><stop offset="0.792" stop-color="#facab1"/><stop offset="0.833" stop-color="#fbccb4"/><stop offset="0.875" stop-color="#facab1"/><stop offset="0.917" stop-color="#facab1"/><stop offset="0.958" stop-color="#facab1"/><stop offset="1.000" stop-color="#fbccb4"/></linearGradient>
<linearGradient id="b138" gradientUnits="userSpaceOnUse" x1="650.8" y1="478.3" x2="279.4" y2="180.7"><stop offset="0.000" stop-color="#fdddcb"/><stop offset="0.042" stop-color="#fddbc7"/><stop offset="0.083" stop-color="#fdd9c4"/><stop offset="0.125" stop-color="#fcd7c2"/><stop offset="0.167" stop-color="#fcd3bc"/><stop offset="0.208" stop-color="#fbd0b9"/><stop offset="0.250" stop-color="#fcd3bc"/><stop offset="0.292" stop-color="#facab1"/><stop offset="0.333" stop-color="#fbceb7"/><stop offset="0.375" stop-color="#facab1"/><stop offset="0.417" stop-color="#facab1"/><stop offset="0.458" stop-color="#facab1"/><stop offset="0.500" stop-color="#fbccb4"/><stop offset="0.542" stop-color="#facab1"/><stop offset="0.583" stop-color="#facab1"/><stop offset="0.625" stop-color="#fac8af"/><stop offset="0.667" stop-color="#facab1"/><stop offset="0.708" stop-color="#facab1"/><stop offset="0.750" stop-color="#facab1"/><stop offset="0.792" stop-color="#fac8af"/><stop offset="0.833" stop-color="#fbccb4"/><stop offset="0.875" stop-color="#facab1"/><stop offset="0.917" stop-color="#facab1"/><stop offset="0.958" stop-color="#facab1"/><stop offset="1.000" stop-color="#facab1"/></linearGradient>
<linearGradient id="b139" gradientUnits="userSpaceOnUse" x1="650.7" y1="478.4" x2="276.4" y2="185"><stop offset="0.000" stop-color="#fddcc9"/><stop offset="0.042" stop-color="#fddbc7"/><stop offset="0.083" stop-color="#fcd5bf"/><stop offset="0.125" stop-color="#fcd3bc"/><stop offset="0.167" stop-color="#fcd5bf"/><stop offset="0.208" stop-color="#fbceb7"/><stop offset="0.250" stop-color="#fbceb7"/><stop offset="0.292" stop-color="#fbceb7"/><stop offset="0.333" stop-color="#fbccb4"/><stop offset="0.375" stop-color="#facab1"/><stop offset="0.417" stop-color="#fac8af"/><stop offset="0.458" stop-color="#fac8af"/><stop offset="0.500" stop-color="#facab1"/><stop offset="0.542" stop-color="#facab1"/><stop offset="0.583" stop-color="#facab1"/><stop offset="0.625" stop-color="#fac8af"/><stop offset="0.667" stop-color="#f9c6ac"/><stop offset="0.708" stop-color="#fac8af"/><stop offset="0.750" stop-color="#fac8af"/><stop offset="0.792" stop-color="#facab1"/><stop offset="0.833" stop-color="#fac8af"/><stop offset="0.875" stop-color="#fbccb4"/><stop offset="0.917" stop-color="#fac8af"/><stop offset="0.958" stop-color="#fac8af"/><stop offset="1.000" stop-color="#facab1"/></linearGradient>
<linearGradient id="b140" gradientUnits="userSpaceOnUse" x1="650.6" y1="478.6" x2="273.5" y2="189.4"><stop offset="0.000" stop-color="#fddcc9"/><stop offset="0.042" stop-color="#fddbc7"/><stop offset="0.083" stop-color="#fdd9c4"/><stop offset="0.125" stop-color="#fcd3bc"/><stop offset="0.167" stop-color="#fbd0b9"/><stop offset="0.208" stop-color="#fbceb7"/><stop offset="0.250" stop-color="#facab1"/><stop offset="0.292" stop-color="#fbccb4"/><stop offset="0.333" stop-color="#fbccb4"/><stop offset="0.375" stop-color="#fbccb4"/><stop offset="0.417" stop-color="#facab1"/><stop offset="0.458" stop-color="#f9c6ac"/><stop offset="0.500" stop-color="#fac8af"/><stop offset="0.542" stop-color="#fac8af"/><stop offset="0.583" stop-color="#fac8af"/><stop offset="0.625" stop-color="#fac8af"/><stop offset="0.667" stop-color="#facab1"/><stop offset="0.708" stop-color="#facab1"/><stop offset="0.750" stop-color="#fbccb4"/><stop offset="0.792" stop-color="#facab1"/><stop offset="0.833" stop-color="#fac8af"/><stop offset="0.875" stop-color="#facab1"/><stop offset="0.917" stop-color="#fbccb4"/><stop offset="0.958" stop-color="#facab1"/><stop offset="1.000" stop-color="#fac8af"/></linearGradient>
<linearGradient id="b141" gradientUnits="userSpaceOnUse" x1="650.5" y1="478.7" x2="270.6" y2="193.8"><stop offset="0.000" stop-color="#fddcc9"/><stop offset="0.042" stop-color="#fddbc7"/><stop offset="0.083" stop-color="#fcd5bf"/><stop offset="0.125" stop-color="#fcd3bc"/><stop offset="0.167" stop-color="#fbd0b9"/><stop offset="0.208" stop-color="#fcd3bc"/><stop offset="0.250" stop-color="#fbd0b9"/><stop offset="0.292" stop-color="#fbccb4"/><stop offset="0.333" stop-color="#facab1"/><stop offset="0.375" stop-color="#facab1"/><stop offset="0.417" stop-color="#facab1"/><stop offset="0.458" stop-color="#fac8af"/><stop offset="0.500" stop-color="#fac8af"/><stop offset="0.542" stop-color="#facab1"/><stop offset="0.583" stop-color="#facab1"/><stop offset="0.625" stop-color="#facab1"/><stop offset="0.667" stop-color="#facab1"/><stop offset="0.708" stop-color="#fac8af"/><stop offset="0.750" stop-color="#fac8af"/><stop offset="0.792" stop-color="#fbccb4"/><stop offset="0.833" stop-color="#facab1"/><stop offset="0.875" stop-color="#facab1"/><stop offset="0.917" stop-color="#facab1"/><stop offset="0.958" stop-color="#fbccb4"/><stop offset="1.000" stop-color="#facab1"/></linearGradient>
<linearGradient id="b142" gradientUnits="userSpaceOnUse" x1="650.5" y1="478.9" x2="267.8" y2="198.2"><stop offset="0.000" stop-color="#fdddcb"/><stop offset="0.042" stop-color="#fddbc7"/><stop offset="0.083" stop-color="#fcd7c2"/><stop offset="0.125" stop-color="#fcd5bf"/><stop offset="0.167" stop-color="#fcd3bc"/><stop offset="0.208" stop-color="#fbccb4"/><stop offset="0.250" stop-color="#fbccb4"/><stop offset="0.292" stop-color="#fbceb7"/><stop offset="0.333" stop-color="#fbccb4"/><stop offset="0.375" stop-color="#facab1"/><stop offset="0.417" stop-color="#facab1"/><stop offset="0.458" stop-color="#fac8af"/><stop offset="0.500" stop-color="#fac8af"/><stop offset="0.542" stop-color="#fac8af"/><stop offset="0.583" stop-color="#facab1"/><stop offset="0.625" stop-color="#facab1"/><stop offset="0.667" stop-color="#fbccb4"/><stop offset="0.708" stop-color="#facab1"/><stop offset="0.750" stop-color="#fbccb4"/><stop offset="0.792" stop-color="#facab1"/><stop offset="0.833" stop-color="#fac8af"/><stop offset="0.875" stop-color="#fbccb4"/><stop offset="0.917" stop-color="#facab1"/><stop offset="0.958" stop-color="#fbccb4"/><stop offset="1.000" stop-color="#facab1"/></linearGradient>
<linearGradient id="b143" gradientUnits="userSpaceOnUse" x1="650.4" y1="479" x2="265" y2="202.7"><stop offset="0.000" stop-color="#fddcc9"/><stop offset="0.042" stop-color="#fcd7c2"/><stop offset="0.083" stop-color="#fcd3bc"/><stop offset="0.125" stop-color="#fbd0b9"/><stop offset="0.167" stop-color="#fbceb7"/><stop offset="0.208" stop-color="#facab1"/><stop offset="0.250" stop-color="#facab1"/><stop offset="0.292" stop-color="#facab1"/><stop offset="0.333" stop-color="#facab1"/><stop offset="0.375" stop-color="#facab1"/><stop offset="0.417" stop-color="#f9c6ac"/><stop offset="0.458" stop-color="#fac8af"/><stop offset="0.500" stop-color="#f9c6ac"/><stop offset="0.542" stop-color="#f9c6ac"/><stop offset="0.583" stop-color="#f9c6ac"/><stop offset="0.625" stop-color="#f9c6ac"/><stop offset="0.667" stop-color="#fac8af"/><stop offset="0.708" stop-color="#f9c6ac"/><stop offset="0.750" stop-color="#fac8af"/><stop offset="0.792" stop-color="#fac8af"/><stop offset="0.833" stop-color="#f9c6ac"/><stop offset="0.875" stop-color="#fac8af"/><stop offset="0.917" stop-color="#fac8af"/><stop offset="0.958" stop-color="#f9c6ac"/><stop offset="1.000" stop-color="#fac8af"/></linearGradient>
<linearGradient id="b144" gradientUnits="userSpaceOnUse" x1="650.3" y1="479.2" x2="262.2" y2="207.1"><stop offset="0.000" stop-color="#fdddcb"/><stop offset="0.042" stop-color="#fcd7c2"/><stop offset="0.083" stop-color="#fcd5bf"/><stop offset="0.125" stop-color="#fcd3bc"/><stop offset="0.167" stop-color="#fbd0b9"/><stop offset="0.208" stop-color="#fbceb7"/><stop offset="0.250" stop-color="#fbccb4"/><stop offset="0.292" stop-color="#fac8af"/><stop offset="0.333" stop-color="#fac8af"/><stop offset="0.375" stop-color="#facab1"/><stop offset="0.417" stop-color="#f9c6ac"/><stop offset="0.458" stop-color="#facab1"/><stop offset="0.500" stop-color="#f9c6ac"/><stop offset="0.542" stop-color="#f9c6ac"/><stop offset="0.583" stop-color="#f9c6ac"/><stop offset="0.625" stop-color="#fac8af"/><stop offset="0.667" stop-color="#fac8af"/><stop offset="0.708" stop-color="#facab1"/><stop offset="0.750" stop-color="#fac8af"/><stop offset="0.792" stop-color="#fac8af"/><stop offset="0.833" stop-color="#f9c6ac"/><stop offset="0.875" stop-color="#fac8af"/><stop offset="0.917" stop-color="#facab1"/><stop offset="0.958" stop-color="#facab1"/><stop offset="1.000" stop-color="#facab1"/></linearGradient>
<linearGradient id="b145" gradientUnits="userSpaceOnUse" x1="650.2" y1="479.3" x2="259.5" y2="211.7"><stop offset="0.000" stop-color="#fddcc9"/><stop offset="0.042" stop-color="#fdd9c4"/><stop offset="0.083" stop-color="#fcd5bf"/><stop offset="0.125" stop-color="#fbd0b9"/><stop offset="0.167" stop-color="#fcd3bc"/><stop offset="0.208" stop-color="#fbceb7"/><stop offset="0.250" stop-color="#facab1"/><stop offset="0.292" stop-color="#facab1"/><stop offset="0.333" stop-color="#fac8af"/><stop offset="0.375" stop-color="#fac8af"/><stop offset="0.417" stop-color="#fac8af"/><stop offset="0.458" stop-color="#f9c2a7"/><stop offset="0.500" stop-color="#fac8af"/><stop offset="0.542" stop-color="#fac8af"/><stop offset="0.583" stop-color="#f9c6ac"/><stop offset="0.625" stop-color="#f9c4a9"/><stop offset="0.667" stop-color="#fac8af"/><stop offset="0.708" stop-color="#fac8af"/><stop offset="0.750" stop-color="#fac8af"/><stop offset="0.792" stop-color="#f9c6ac"/><stop offset="0.833" stop-color="#fac8af"/><stop offset="0.875" stop-color="#fac8af"/><stop offset="0.917" stop-color="#facab1"/><stop offset="0.958" stop-color="#facab1"/><stop offset="1.000" stop-color="#fac8af"/></linearGradient>
<linearGradient id="b146" gradientUnits="userSpaceOnUse" x1="650.1" y1="479.4" x2="256.8" y2="216.2"><stop offset="0.000" stop-color="#fdd9c4"/><stop offset="0.042" stop-color="#fdd9c4"/><stop offset="0.083" stop-color="#fcd3bc"/><stop offset="0.125" stop-color="#fbd0b9"/><stop offset="0.167" stop-color="#fbccb4"/><stop offset="0.208" stop-color="#fbccb4"/><stop offset="0.250" stop-color="#f9c6ac"/><stop offset="0.292" stop-color="#fac8af"/><stop offset="0.333" stop-color="#f9c6ac"/><stop offset="0.375" stop-color="#f9c6ac"/><stop offset="0.417" stop-color="#f9c6ac"/><stop offset="0.458" stop-color="#f9c4a9"/><stop offset="0.500" stop-color="#f9c4a9"/><stop offset="0.542" stop-color="#f9c6ac"/><stop offset="0.583" stop-color="#f9c2a7"/><stop offset="0.625" stop-color="#f9c4a9"/><stop offset="0.667" stop-color="#f9c6ac"/><stop offset="0.708" stop-color="#f9c6ac"/><stop offset="0.750" stop-color="#f9c4a9"/><stop offset="0.792" stop-color="#f9c6ac"/><stop offset="0.833" stop-color="#f9c6ac"/><stop offset="0.875" stop-color="#f9c4a9"/><stop offset="0.917" stop-color="#f9c4a9"/><stop offset="0.958" stop-color="#f9c4a9"/><stop offset="1.000" stop-color="#f9c6ac"/></linearGradient>
<linearGradient id="b147" gradientUnits="userSpaceOnUse" x1="650" y1="479.6" x2="254.2" y2="220.8"><stop offset="0.000" stop-color="#fddcc9"/><stop offset="0.042" stop-color="#fdd9c4"/><stop offset="0.083" stop-color="#fcd3bc"/><stop offset="0.125" stop-color="#fcd3bc"/><stop offset="0.167" stop-color="#fbceb7"/><stop offset="0.208" stop-color="#fbccb4"/><stop offset="0.250" stop-color="#facab1"/><stop offset="0.292" stop-color="#f9c6ac"/><stop offset="0.333" stop-color="#f9c6ac"/><stop offset="0.375" stop-color="#f9c4a9"/><stop offset="0.417" stop-color="#f9c4a9"/><stop offset="0.458" stop-color="#f9c4a9"/><stop offset="0.500" stop-color="#f9c4a9"/><stop offset="0.542" stop-color="#f9c4a9"/><stop offset="0.583" stop-color="#f9c4a9"/><stop offset="0.625" stop-color="#f9c4a9"/><stop offset="0.667" stop-color="#f9c6ac"/><stop offset="0.708" stop-color="#f9c6ac"/><stop offset="0.750" stop-color="#f9c4a9"/><stop offset="0.792" stop-color="#f9c6ac"/><stop offset="0.833" stop-color="#fac8af"/><stop offset="0.875" stop-color="#f9c6ac"/><stop offset="0.917" stop-color="#f9c6ac"/><stop offset="0.958" stop-color="#fac8af"/><stop offset="1.000" stop-color="#fac8af"/></linearGradient>
<linearGradient id="b148" gradientUnits="userSpaceOnUse" x1="649.9" y1="479.7" x2="251.6" y2="225.4"><stop offset="0.000" stop-color="#fddbc7"/><stop offset="0.042" stop-color="#fcd7c2"/><stop offset="0.083" stop-color="#fcd7c2"/><stop offset="0.125" stop-color="#fbd0b9"/><stop offset="0.167" stop-color="#fbceb7"/><stop offset="0.208" stop-color="#facab1"/><stop offset="0.250" stop-color="#f9c6ac"/><stop offset="0.292" stop-color="#f9c6ac"/><stop offset="0.333" stop-color="#f9c4a9"/><stop offset="0.375" stop-color="#f9c6ac"/><stop offset="0.417" stop-color="#f9c4a9"/><stop offset="0.458" stop-color="#f9c6ac"/><stop offset="0.500" stop-color="#f9c4a9"/><stop offset="0.542" stop-color="#f9c4a9"/><stop offset="0.583" stop-color="#f9c4a9"/><stop offset="0.625" stop-color="#f9c4a9"/><stop offset="0.667" stop-color="#fac8af"/><stop offset="0.708" stop-color="#f9c6ac"/><stop offset="0.750" stop-color="#fac8af"/><stop offset="0.792" stop-color="#fac8af"/><stop offset="0.833" stop-color="#f9c4a9"/><stop offset="0.875" stop-color="#f9c6ac"/><stop offset="0.917" stop-color="#f9c6ac"/><stop offset="0.958" stop-color="#f9c6ac"/><stop offset="1.000" stop-color="#f9c6ac"/></linearGradient>
<linearGradient id="b149" gradientUnits="userSpaceOnUse" x1="649.9" y1="479.9" x2="249.1" y2="230"><stop offset="0.000" stop-color="#fddbc7"/><stop offset="0.042" stop-color="#fdd9c4"/><stop offset="0.083" stop-color="#fcd3bc"/><stop offset="0.125" stop-color="#fbd0b9"/><stop offset="0.167" stop-color="#fbceb7"/><stop offset="0.208" stop-color="#facab1"/><stop offset="0.250" stop-color="#facab1"/><stop offset="0.292" stop-color="#fac8af"/><stop offset="0.333" stop-color="#f9c6ac"/><stop offset="0.375" stop-color="#f9c6ac"/><stop offset="0.417" stop-color="#f9c2a7"/><stop offset="0.458" stop-color="#f9c6ac"/><stop offset="0.500" stop-color="#f9c4a9"/><stop offset="0.542" stop-color="#f9c2a7"/><stop offset="0.583" stop-color="#f9c4a9"/><stop offset="0.625" stop-color="#f9c2a7"/><stop offset="0.667" stop-color="#f9c4a9"/><stop offset="0.708" stop-color="#f9c4a9"/><stop offset="0.750" stop-color="#f9c4a9"/><stop offset="0.792" stop-color="#f9c6ac"/><stop offset="0.833" stop-color="#f9c6ac"/><stop offset="0.875" stop-color="#f9c4a9"/><stop offset="0.917" stop-color="#f9c6ac"/><stop offset="0.958" stop-color="#f9c6ac"/><stop offset="1.000" stop-color="#f9c6ac"/></linearGradient>
<linearGradient id="b150" gradientUnits="userSpaceOnUse" x1="649.8" y1="480" x2="246.6" y2="234.7"><stop offset="0.000" stop-color="#fddbc7"/><stop offset="0.042" stop-color="#fcd7c2"/><stop offset="0.083" stop-color="#fbd0b9"/><stop offset="0.125" stop-color="#fbceb7"/><stop offset="0.167" stop-color="#fbccb4"/><stop offset="0.208" stop-color="#facab1"/><stop offset="0.250" stop-color="#fac8af"/><stop offset="0.292" stop-color="#f9c6ac"/><stop offset="0.333" stop-color="#f9c6ac"/><stop offset="0.375" stop-color="#f9c6ac"/><stop offset="0.417" stop-color="#f9c4a9"/><stop offset="0.458" stop-color="#f9c2a7"/><stop offset="0.500" stop-color="#f9c4a9"/><stop offset="0.542" stop-color="#f9c2a7"/><stop offset="0.583" stop-color="#f9c2a7"/><stop offset="0.625" stop-color="#f9c4a9"/><stop offset="0.667" stop-color="#f9c4a9"/><stop offset="0.708" stop-color="#f9c4a9"/><stop offset="0.750" stop-color="#f9c6ac"/><stop offset="0.792" stop-color="#f9c6ac"/><stop offset="0.833" stop-color="#f9c4a9"/><stop offset="0.875" stop-color="#f9c2a7"/><stop offset="0.917" stop-color="#f9c2a7"/><stop offset="0.958" stop-color="#f9c6ac"/><stop offset="1.000" stop-color="#f9c6ac"/></linearGradient>
<linearGradient id="b151" gradientUnits="userSpaceOnUse" x1="649.7" y1="480.2" x2="244.2" y2="239.4"><stop offset="0.000" stop-color="#fddbc7"/><stop offset="0.042" stop-color="#fcd5bf"/><stop offset="0.083" stop-color="#fbd0b9"/><stop offset="0.125" stop-color="#fbceb7"/><stop offset="0.167" stop-color="#fbccb4"/><stop offset="0.208" stop-color="#fac8af"/><stop offset="0.250" stop-color="#fac8af"/><stop offset="0.292" stop-color="#f9c4a9"/><stop offset="0.333" stop-color="#f9c2a7"/><stop offset="0.375" stop-color="#f9c4a9"/><stop offset="0.417" stop-color="#f9c2a7"/><stop offset="0.458" stop-color="#f9c6ac"/><stop offset="0.500" stop-color="#f9c2a7"/><stop offset="0.542" stop-color="#f9c4a9"/><stop offset="0.583" stop-color="#f9c4a9"/><stop offset="0.625" stop-color="#f9c4a9"/><stop offset="0.667" stop-color="#f9c2a7"/><stop offset="0.708" stop-color="#f9c2a7"/><stop offset="0.750" stop-color="#f9c6ac"/><stop offset="0.792" stop-color="#f9c6ac"/><stop offset="0.833" stop-color="#fac8af"/><stop offset="0.875" stop-color="#f9c4a9"/><stop offset="0.917" stop-color="#f9c6ac"/><stop offset="0.958" stop-color="#f9c6ac"/><stop offset="1.000" stop-color="#f9c6ac"/></linearGradient>
<linearGradient id="b152" gradientUnits="userSpaceOnUse" x1="649.6" y1="480.3" x2="241.8" y2="244.1"><stop offset="0.000" stop-color="#fddbc7"/><stop offset="0.042" stop-color="#fcd7c2"/><stop offset="0.083" stop-color="#fcd3bc"/><stop offset="0.125" stop-color="#fbd0b9"/><stop offset="0.167" stop-color="#facab1"/><stop offset="0.208" stop-color="#facab1"/><stop offset="0.250" stop-color="#f9c6ac"/><stop offset="0.292" stop-color="#fac8af"/><stop offset="0.333" stop-color="#f8bfa4"/><stop offset="0.375" stop-color="#f9c2a7"/><stop offset="0.417" stop-color="#f9c2a7"/><stop offset="0.458" stop-color="#f9c2a7"/><stop offset="0.500" stop-color="#f9c4a9"/><stop offset="0.542" stop-color="#f9c4a9"/><stop offset="0.583" stop-color="#f9c2a7"/><stop offset="0.625" stop-color="#f9c4a9"/><stop offset="0.667" stop-color="#f9c2a7"/><stop offset="0.708" stop-color="#f9c2a7"/><stop offset="0.750" stop-color="#f9c6ac"/><stop offset="0.792" stop-color="#f9c4a9"/><stop offset="0.833" stop-color="#f9c2a7"/><stop offset="0.875" stop-color="#f9c4a9"/><stop offset="0.917" stop-color="#f9c2a7"/><stop offset="0.958" stop-color="#f9c6ac"/><stop offset="1.000" stop-color="#f9c6ac"/></linearGradient>
<linearGradient id="b153" gradientUnits="userSpaceOnUse" x1="649.6" y1="480.5" x2="239.4" y2="248.9"><stop offset="0.000" stop-color="#fddbc7"/><stop offset="0.042" stop-color="#fcd3bc"/><stop offset="0.083" stop-color="#fcd3bc"/><stop offset="0.125" stop-color="#fbceb7"/><stop offset="0.167" stop-color="#facab1"/><stop offset="0.208" stop-color="#f9c6ac"/><stop offset="0.250" stop-color="#f9c6ac"/><stop offset="0.292" stop-color="#f9c2a7"/><stop offset="0.333" stop-color="#f9c2a7"/><stop offset="0.375" stop-color="#f8bfa4"/><stop offset="0.417" stop-color="#f9c4a9"/><stop offset="0.458" stop-color="#f8bfa4"/><stop offset="0.500" stop-color="#f8bda1"/><stop offset="0.542" stop-color="#f9c2a7"/><stop offset="0.583" stop-color="#f9c2a7"/><stop offset="0.625" stop-color="#f9c2a7"/><stop offset="0.667" stop-color="#f9c6ac"/><stop offset="0.708" stop-color="#f9c4a9"/><stop offset="0.750" stop-color="#f9c4a9"/><stop offset="0.792" stop-color="#f9c2a7"/><stop offset="0.833" stop-color="#f8bfa4"/><stop offset="0.875" stop-color="#f9c4a9"/><stop offset="0.917" stop-color="#f9c4a9"/><stop offset="0.958" stop-color="#f9c2a7"/><stop offset="1.000" stop-color="#f9c2a7"/></linearGradient>
<linearGradient id="b154" gradientUnits="userSpaceOnUse" x1="649.5" y1="480.6" x2="237.1" y2="253.6"><stop offset="0.000" stop-color="#fcd7c2"/><stop offset="0.042" stop-color="#fcd5bf"/><stop offset="0.083" stop-color="#fcd3bc"/><stop offset="0.125" stop-color="#fbd0b9"/><stop offset="0.167" stop-color="#fbccb4"/><stop offset="0.208" stop-color="#fac8af"/><stop offset="0.250" stop-color="#fac8af"/><stop offset="0.292" stop-color="#fac8af"/><stop offset="0.333" stop-color="#f9c4a9"/><stop offset="0.375" stop-color="#f9c2a7"/><stop offset="0.417" stop-color="#f9c2a7"/><stop offset="0.458" stop-color="#f8bfa4"/><stop offset="0.500" stop-color="#f8bfa4"/><stop offset="0.542" stop-color="#f9c2a7"/><stop offset="0.583" stop-color="#f9c2a7"/><stop offset="0.625" stop-color="#f9c4a9"/><stop offset="0.667" stop-color="#f9c4a9"/><stop offset="0.708" stop-color="#f9c2a7"/><stop offset="0.750" stop-color="#f9c4a9"/><stop offset="0.792" stop-color="#f9c4a9"/><stop offset="0.833" stop-color="#f9c4a9"/><stop offset="0.875" stop-color="#f9c6ac"/><stop offset="0.917" stop-color="#f9c4a9"/><stop offset="0.958" stop-color="#f9c4a9"/><stop offset="1.000" stop-color="#f9c6ac"/></linearGradient>
<linearGradient id="b155" gradientUnits="userSpaceOnUse" x1="649.4" y1="480.8" x2="234.9" y2="258.4"><stop offset="0.000" stop-color="#fddbc7"/><stop offset="0.042" stop-color="#fcd5bf"/><stop offset="0.083" stop-color="#fcd3bc"/><stop offset="0.125" stop-color="#fbceb7"/><stop offset="0.167" stop-color="#facab1"/><stop offset="0.208" stop-color="#fac8af"/><stop offset="0.250" stop-color="#f9c6ac"/><stop offset="0.292" stop-color="#f9c6ac"/><stop offset="0.333" stop-color="#f9c4a9"/><stop offset="0.375" stop-color="#f9c4a9"/><stop offset="0.417" stop-color="#f9c2a7"/><stop offset="0.458" stop-color="#f9c2a7"/><stop offset="0.500" stop-color="#f9c2a7"/><stop offset="0.542" stop-color="#f9c4a9"/><stop offset="0.583" stop-color="#f8bfa4"/><stop offset="0.625" stop-color="#f9c2a7"/><stop offset="0.667" stop-color="#f9c2a7"/><stop offset="0.708" stop-color="#f9c4a9"/><stop offset="0.750" stop-color="#f9c4a9"/><stop offset="0.792" stop-color="#f9c4a9"/><stop offset="0.833" stop-color="#f9c4a9"/><stop offset="0.875" stop-color="#f9c4a9"/><stop offset="0.917" stop-color="#f9c2a7"/><stop offset="0.958" stop-color="#f9c4a9"/><stop offset="1.000" stop-color="#f9c4a9"/></linearGradient>
<linearGradient id="b156" gradientUnits="userSpaceOnUse" x1="649.3" y1="480.9" x2="232.6" y2="263.3"><stop offset="0.000" stop-color="#fddbc7"/><stop offset="0.042" stop-color="#fcd7c2"/><stop offset="0.083" stop-color="#fbd0b9"/><stop offset="0.125" stop-color="#fbccb4"/><stop offset="0.167" stop-color="#facab1"/><stop offset="0.208" stop-color="#fac8af"/><stop offset="0.250" stop-color="#fac8af"/><stop offset="0.292" stop-color="#fac8af"/><stop offset="0.333" stop-color="#f9c4a9"/><stop offset="0.375" stop-color="#f9c6ac"/><stop offset="0.417" stop-color="#f9c4a9"/><stop offset="0.458" stop-color="#f8bfa4"/><stop offset="0.500" stop-color="#f9c4a9"/><stop offset="0.542" stop-color="#f9c4a9"/><stop offset="0.583" stop-color="#f9c4a9"/><stop offset="0.625" stop-color="#f9c2a7"/><stop offset="0.667" stop-color="#f9c4a9"/><stop offset="0.708" stop-color="#f9c2a7"/><stop offset="0.750" stop-color="#f9c4a9"/><stop offset="0.792" stop-color="#f9c4a9"/><stop offset="0.833" stop-color="#f9c6ac"/><stop offset="0.875" stop-color="#f9c4a9"/><stop offset="0.917" stop-color="#f9c4a9"/><stop offset="0.958" stop-color="#f9c4a9"/><stop offset="1.000" stop-color="#f9c2a7"/></linearGradient>
<linearGradient id="b157" gradientUnits="userSpaceOnUse" x1="649.3" y1="481.1" x2="230.5" y2="268.1"><stop offset="0.000" stop-color="#fddbc7"/><stop offset="0.042" stop-color="#fcd5bf"/><stop offset="0.083" stop-color="#fcd3bc"/><stop offset="0.125" stop-color="#fbccb4"/><stop offset="0.167" stop-color="#facab1"/><stop offset="0.208" stop-color="#fac8af"/><stop offset="0.250" stop-color="#f9c6ac"/><stop offset="0.292" stop-color="#f9c4a9"/><stop offset="0.333" stop-color="#f9c2a7"/><stop offset="0.375" stop-color="#f9c4a9"/><stop offset="0.417" stop-color="#f9c2a7"/><stop offset="0.458" stop-color="#f9c2a7"/><stop offset="0.500" stop-color="#f9c2a7"/><stop offset="0.542" stop-color="#f8bfa4"/><stop offset="0.583" stop-color="#f9c2a7"/><stop offset="0.625" stop-color="#f9c4a9"/><stop offset="0.667" stop-color="#f9c4a9"/><stop offset="0.708" stop-color="#f9c2a7"/><stop offset="0.750" stop-color="#f9c4a9"/><stop offset="0.792" stop-color="#f9c4a9"/><stop offset="0.833" stop-color="#f9c4a9"/><stop offset="0.875" stop-color="#f9c4a9"/><stop offset="0.917" stop-color="#f9c4a9"/><stop offset="0.958" stop-color="#f9c2a7"/><stop offset="1.000" stop-color="#f9c4a9"/></linearGradient>
<linearGradient id="b158" gradientUnits="userSpaceOnUse" x1="649.2" y1="481.2" x2="228.4" y2="273"><stop offset="0.000" stop-color="#fdd9c4"/><stop offset="0.042" stop-color="#fcd7c2"/><stop offset="0.083" stop-color="#fcd3bc"/><stop offset="0.125" stop-color="#fbceb7"/><stop offset="0.167" stop-color="#facab1"/><stop offset="0.208" stop-color="#fbccb4"/><stop offset="0.250" stop-color="#f9c6ac"/><stop offset="0.292" stop-color="#f9c6ac"/><stop offset="0.333" stop-color="#f9c4a9"/><stop offset="0.375" stop-color="#f9c6ac"/><stop offset="0.417" stop-color="#f9c2a7"/><stop offset="0.458" stop-color="#f9c4a9"/><stop offset="0.500" stop-color="#f9c4a9"/><stop offset="0.542" stop-color="#f9c4a9"/><stop offset="0.583" stop-color="#f9c2a7"/><stop offset="0.625" stop-color="#f9c4a9"/><stop offset="0.667" stop-color="#f9c4a9"/><stop offset="0.708" stop-color="#f9c6ac"/><stop offset="0.750" stop-color="#f9c4a9"/><stop offset="0.792" stop-color="#f9c4a9"/><stop offset="0.833" stop-color="#f9c4a9"/><stop offset="0.875" stop-color="#f9c4a9"/><stop offset="0.917" stop-color="#f9c4a9"/><stop offset="0.958" stop-color="#f9c4a9"/><stop offset="1.000" stop-color="#f9c6ac"/></linearGradient>
<linearGradient id="b159" gradientUnits="userSpaceOnUse" x1="649.1" y1="481.4" x2="226.3" y2="277.9"><stop offset="0.000" stop-color="#fdd9c4"/><stop offset="0.042" stop-color="#fcd5bf"/><stop offset="0.083" stop-color="#fbd0b9"/><stop offset="0.125" stop-color="#fbccb4"/><stop offset="0.167" stop-color="#facab1"/><stop offset="0.208" stop-color="#f9c6ac"/><stop offset="0.250" stop-color="#f9c4a9"/><stop offset="0.292" stop-color="#f9c6ac"/><stop offset="0.333" stop-color="#f9c4a9"/><stop offset="0.375" stop-color="#f9c2a7"/><stop offset="0.417" stop-color="#f8bfa4"/><stop offset="0.458" stop-color="#f9c2a7"/><stop offset="0.500" stop-color="#f9c2a7"/><stop offset="0.542" stop-color="#f8bfa4"/><stop offset="0.583" stop-color="#f8bfa4"/><stop offset="0.625" stop-color="#f9c2a7"/><stop offset="0.667" stop-color="#f9c4a9"/><stop offset="0.708" stop-color="#f9c4a9"/><stop offset="0.750" stop-color="#f9c2a7"/><stop offset="0.792" stop-color="#f9c2a7"/><stop offset="0.833" stop-color="#f9c2a7"/><stop offset="0.875" stop-color="#f9c2a7"/><stop offset="0.917" stop-color="#f9c2a7"/><stop offset="0.958" stop-color="#f9c2a7"/><stop offset="1.000" stop-color="#f9c4a9"/></linearGradient>
<linearGradient id="b160" gradientUnits="userSpaceOnUse" x1="649.1" y1="481.6" x2="224.3" y2="282.8"><stop offset="0.000" stop-color="#fdd9c4"/><stop offset="0.042" stop-color="#fcd5bf"/><stop offset="0.083" stop-color="#fbd0b9"/><stop offset="0.125" stop-color="#fbccb4"/><stop offset="0.167" stop-color="#facab1"/><stop offset="0.208" stop-color="#facab1"/><stop offset="0.250" stop-color="#fac8af"/><stop offset="0.292" stop-color="#f9c2a7"/><stop offset="0.333" stop-color="#f9c2a7"/><stop offset="0.375" stop-color="#f9c2a7"/><stop offset="0.417" stop-color="#f9c4a9"/><stop offset="0.458" stop-color="#f9c6ac"/><stop offset="0.500" stop-color="#f9c2a7"/><stop offset="0.542" stop-color="#f9c2a7"/><stop offset="0.583" stop-color="#f9c4a9"/><stop offset="0.625" stop-color="#f8bfa4"/><stop offset="0.667" stop-color="#f9c2a7"/><stop offset="0.708" stop-color="#f8bda1"/><stop offset="0.750" stop-color="#f9c2a7"/><stop offset="0.792" stop-color="#f9c2a7"/><stop offset="0.833" stop-color="#f9c2a7"/><stop offset="0.875" stop-color="#f9c4a9"/><stop offset="0.917" stop-color="#f9c2a7"/><stop offset="0.958" stop-color="#f9c4a9"/><stop offset="1.000" stop-color="#f9c2a7"/></linearGradient>
<linearGradient id="b161" gradientUnits="userSpaceOnUse" x1="649" y1="481.7" x2="222.3" y2="287.7"><stop offset="0.000" stop-color="#fddcc9"/><stop offset="0.042" stop-color="#fcd3bc"/><stop offset="0.083" stop-color="#fbd0b9"/><stop offset="0.125" stop-color="#fbccb4"/><stop offset="0.167" stop-color="#fbccb4"/><stop offset="0.208" stop-color="#facab1"/><stop offset="0.250" stop-color="#f9c6ac"/><stop offset="0.292" stop-color="#f9c6ac"/><stop offset="0.333" stop-color="#f9c6ac"/><stop offset="0.375" stop-color="#f9c4a9"/><stop offset="0.417" stop-color="#f9c2a7"/><stop offset="0.458" stop-color="#f9c2a7"/><stop offset="0.500" stop-color="#f9c4a9"/><stop offset="0.542" stop-color="#f8bfa4"/><stop offset="0.583" stop-color="#f9c2a7"/><stop offset="0.625" stop-color="#f9c2a7"/><stop offset="0.667" stop-color="#f9c2a7"/><stop offset="0.708" stop-color="#f9c4a9"/><stop offset="0.750" stop-color="#f9c4a9"/><stop offset="0.792" stop-color="#f9c2a7"/><stop offset="0.833" stop-color="#f9c4a9"/><stop offset="0.875" stop-color="#f8bfa4"/><stop offset="0.917" stop-color="#f9c2a7"/><stop offset="0.958" stop-color="#f9c2a7"/><stop offset="1.000" stop-color="#f9c2a7"/></linearGradient>
<linearGradient id="b162" gradientUnits="userSpaceOnUse" x1="648.9" y1="481.9" x2="220.4" y2="292.7"><stop offset="0.000" stop-color="#fddbc7"/><stop offset="0.042" stop-color="#fcd5bf"/><stop offset="0.083" stop-color="#fcd3bc"/><stop offset="0.125" stop-color="#fbccb4"/><stop offset="0.167" stop-color="#fbceb7"/><stop offset="0.208" stop-color="#facab1"/><stop offset="0.250" stop-color="#f9c6ac"/><stop offset="0.292" stop-color="#fac8af"/><stop offset="0.333" stop-color="#f9c4a9"/><stop offset="0.375" stop-color="#f9c4a9"/><stop offset="0.417" stop-color="#f9c2a7"/><stop offset="0.458" stop-color="#f9c4a9"/><stop offset="0.500" stop-color="#f9c2a7"/><stop offset="0.542" stop-color="#f9c2a7"/><stop offset="0.583" stop-color="#f9c2a7"/><stop offset="0.625" stop-color="#f9c2a7"/><stop offset="0.667" stop-color="#f9c2a7"/><stop offset="0.708" stop-color="#f9c4a9"/><stop offset="0.750" stop-color="#f9c2a7"/><stop offset="0.792" stop-color="#f8bfa4"/><stop offset="0.833" stop-color="#f9c2a7"/><stop offset="0.875" stop-color="#f9c4a9"/><stop offset="0.917" stop-color="#f8bfa4"/><stop offset="0.958" stop-color="#f8bfa4"/><stop offset="1.000" stop-color="#f8bfa4"/></linearGradient>
<linearGradient id="b163" gradientUnits="userSpaceOnUse" x1="648.9" y1="482" x2="218.5" y2="297.7"><stop offset="0.000" stop-color="#fcdfcf"/><stop offset="0.042" stop-color="#fdddcb"/><stop offset="0.083" stop-color="#fddbc7"/><stop offset="0.125" stop-color="#fddbc7"/><stop offset="0.167" stop-color="#fcd7c2"/><stop offset="0.208" stop-color="#fdd9c4"/><stop offset="0.250" stop-color="#fcd3bc"/><stop offset="0.292" stop-color="#fbd0b9"/><stop offset="0.333" stop-color="#facab1"/><stop offset="0.375" stop-color="#f9c4a9"/><stop offset="0.417" stop-color="#f9c2a7"/><stop offset="0.458" stop-color="#f9c2a7"/><stop offset="0.500" stop-color="#f8bfa4"/><stop offset="0.542" stop-color="#f9c2a7"/><stop offset="0.583" stop-color="#f9c4a9"/><stop offset="0.625" stop-color="#f8bfa4"/><stop offset="0.667" stop-color="#f9c2a7"/><stop offset="0.708" stop-color="#f9c4a9"/><stop offset="0.750" stop-color="#f9c4a9"/><stop offset="0.792" stop-color="#f9c2a7"/><stop offset="0.833" stop-color="#f9c2a7"/><stop offset="0.875" stop-color="#f9c2a7"/><stop offset="0.917" stop-color="#f8bfa4"/><stop offset="0.958" stop-color="#f9c4a9"/><stop offset="1.000" stop-color="#f9c2a7"/></linearGradient>
<linearGradient id="b164" gradientUnits="userSpaceOnUse" x1="648.8" y1="482.2" x2="216.7" y2="302.7"><stop offset="0.000" stop-color="#fce2d2"/><stop offset="0.042" stop-color="#fce2d2"/><stop offset="0.083" stop-color="#fce0d0"/><stop offset="0.125" stop-color="#fce0d0"/><stop offset="0.167" stop-color="#fcdecd"/><stop offset="0.208" stop-color="#fcdecd"/><stop offset="0.250" stop-color="#fddbc7"/><stop offset="0.292" stop-color="#fcd3bc"/><stop offset="0.333" stop-color="#facab1"/><stop offset="0.375" stop-color="#f8bfa4"/><stop offset="0.417" stop-color="#f9c2a7"/><stop offset="0.458" stop-color="#f9c2a7"/><stop offset="0.500" stop-color="#f8bfa4"/><stop offset="0.542" stop-color="#f8bfa4"/><stop offset="0.583" stop-color="#f8bfa4"/><stop offset="0.625" stop-color="#f8bfa4"/><stop offset="0.667" stop-color="#f8bfa4"/><stop offset="0.708" stop-color="#f9c2a7"/><stop offset="0.750" stop-color="#f9c2a7"/><stop offset="0.792" stop-color="#f9c2a7"/><stop offset="0.833" stop-color="#f9c2a7"/><stop offset="0.875" stop-color="#f9c2a7"/><stop offset="0.917" stop-color="#f9c2a7"/><stop offset="0.958" stop-color="#f8bfa4"/><stop offset="1.000" stop-color="#f9c2a7"/></linearGradient>
<linearGradient id="b165" gradientUnits="userSpaceOnUse" x1="648.8" y1="482.3" x2="214.9" y2="307.7"><stop offset="0.000" stop-color="#fae8de"/><stop offset="0.042" stop-color="#fae8de"/><stop offset="0.083" stop-color="#fbe6da"/><stop offset="0.125" stop-color="#fbe6da"/><stop offset="0.167" stop-color="#fae7dc"/><stop offset="0.208" stop-color="#fbe5d8"/><stop offset="0.250" stop-color="#fce0d0"/><stop offset="0.292" stop-color="#fddbc7"/><stop offset="0.333" stop-color="#fbd0b9"/><stop offset="0.375" stop-color="#f9c6ac"/><stop offset="0.417" stop-color="#f9c2a7"/><stop offset="0.458" stop-color="#f8bfa4"/><stop offset="0.500" stop-color="#f9c6ac"/><stop offset="0.542" stop-color="#f9c4a9"/><stop offset="0.583" stop-color="#f8bfa4"/><stop offset="0.625" stop-color="#f9c2a7"/><stop offset="0.667" stop-color="#f9c2a7"/><stop offset="0.708" stop-color="#f9c2a7"/><stop offset="0.750" stop-color="#f8bfa4"/><stop offset="0.792" stop-color="#f9c4a9"/><stop offset="0.833" stop-color="#f9c6ac"/><stop offset="0.875" stop-color="#f9c4a9"/><stop offset="0.917" stop-color="#f9c4a9"/><stop offset="0.958" stop-color="#f9c4a9"/><stop offset="1.000" stop-color="#f9c2a7"/></linearGradient>
<linearGradient id="b166" gradientUnits="userSpaceOnUse" x1="648.7" y1="482.5" x2="213.2" y2="312.8"><stop offset="0.000" stop-color="#faeae1"/><stop offset="0.042" stop-color="#f9ebe3"/><stop offset="0.083" stop-color="#f9ebe3"/><stop offset="0.125" stop-color="#f9ede5"/><stop offset="0.167" stop-color="#f9ebe3"/><stop offset="0.208" stop-color="#f9ebe3"/><stop offset="0.250" stop-color="#fbe4d6"/><stop offset="0.292" stop-color="#fcdecd"/><stop offset="0.333" stop-color="#fcd5bf"/><stop offset="0.375" stop-color="#fac8af"/><stop offset="0.417" stop-color="#f9c4a9"/><stop offset="0.458" stop-color="#f9c4a9"/><stop offset="0.500" stop-color="#f9c4a9"/><stop offset="0.542" stop-color="#f9c4a9"/><stop offset="0.583" stop-color="#f9c6ac"/><stop offset="0.625" stop-color="#f9c4a9"/><stop offset="0.667" stop-color="#f9c4a9"/><stop offset="0.708" stop-color="#f9c6ac"/><stop offset="0.750" stop-color="#f9c6ac"/><stop offset="0.792" stop-color="#f9c4a9"/><stop offset="0.833" stop-color="#f9c4a9"/><stop offset="0.875" stop-color="#f9c4a9"/><stop offset="0.917" stop-color="#f9c6ac"/><stop offset="0.958" stop-color="#f9c4a9"/><stop offset="1.000" stop-color="#f9c6ac"/></linearGradient>
<linearGradient id="b167" gradientUnits="userSpaceOnUse" x1="648.7" y1="482.7" x2="211.5" y2="317.8"><stop offset="0.000" stop-color="#faeae1"/><stop offset="0.042" stop-color="#faeae1"/><stop offset="0.083" stop-color="#faeae1"/><stop offset="0.125" stop-color="#faeae1"/><stop offset="0.167" stop-color="#faeae1"/><stop offset="0.208" stop-color="#fae9df"/><stop offset="0.250" stop-color="#fbe3d4"/><stop offset="0.292" stop-color="#fdddcb"/><stop offset="0.333" stop-color="#fcd5bf"/><stop offset="0.375" stop-color="#f9c6ac"/><stop offset="0.417" stop-color="#f8bfa4"/><stop offset="0.458" stop-color="#f8bfa4"/><stop offset="0.500" stop-color="#f9c2a7"/><stop offset="0.542" stop-color="#f9c4a9"/><stop offset="0.583" stop-color="#f9c2a7"/><stop offset="0.625" stop-color="#f9c2a7"/><stop offset="0.667" stop-color="#f9c2a7"/><stop offset="0.708" stop-color="#f9c2a7"/><stop offset="0.750" stop-color="#f8bfa4"/><stop offset="0.792" stop-color="#f9c2a7"/><stop offset="0.833" stop-color="#f9c2a7"/><stop offset="0.875" stop-color="#f9c2a7"/><stop offset="0.917" stop-color="#f8bfa4"/><stop offset="0.958" stop-color="#f9c4a9"/><stop offset="1.000" stop-color="#f9c4a9"/></linearGradient>
<linearGradient id="b168" gradientUnits="userSpaceOnUse" x1="648.6" y1="482.8" x2="209.8" y2="322.9"><stop offset="0.000" stop-color="#f9ede5"/><stop offset="0.042" stop-color="#f9ebe3"/><stop offset="0.083" stop-color="#faeae1"/><stop offset="0.125" stop-color="#f9ebe3"/><stop offset="0.167" stop-color="#f9ebe3"/><stop offset="0.208" stop-color="#faeae1"/><stop offset="0.250" stop-color="#fbe4d6"/><stop offset="0.292" stop-color="#fcdecd"/><stop offset="0.333" stop-color="#fcd5bf"/><stop offset="0.375" stop-color="#fac8af"/><stop offset="0.417" stop-color="#f9c4a9"/><stop offset="0.458" stop-color="#f9c2a7"/><stop offset="0.500" stop-color="#f9c2a7"/><stop offset="0.542" stop-color="#f9c4a9"/><stop offset="0.583" stop-color="#f9c6ac"/><stop offset="0.625" stop-color="#f9c2a7"/><stop offset="0.667" stop-color="#f9c4a9"/><stop offset="0.708" stop-color="#f9c6ac"/><stop offset="0.750" stop-color="#f9c4a9"/><stop offset="0.792" stop-color="#f9c4a9"/><stop offset="0.833" stop-color="#f9c6ac"/><stop offset="0.875" stop-color="#f9c2a7"/><stop offset="0.917" stop-color="#f9c2a7"/><stop offset="0.958" stop-color="#f9c2a7"/><stop offset="1.000" stop-color="#f9c2a7"/></linearGradient>
<linearGradient id="b169" gradientUnits="userSpaceOnUse" x1="648.6" y1="483" x2="208.3" y2="328"><stop offset="0.000" stop-color="#f9ebe3"/><stop offset="0.042" stop-color="#faeae1"/><stop offset="0.083" stop-color="#faeae1"/><stop offset="0.125" stop-color="#f9ebe3"/><stop offset="0.167" stop-color="#f9ebe3"/><stop offset="0.208" stop-color="#f9ebe3"/><stop offset="0.250" stop-color="#fbe3d4"/><stop offset="0.292" stop-color="#fdddcb"/><stop offset="0.333" stop-color="#fbd0b9"/><stop offset="0.375" stop-color="#fac8af"/><stop offset="0.417" stop-color="#f9c2a7"/><stop offset="0.458" stop-color="#f9c2a7"/><stop offset="0.500" stop-color="#f9c6ac"/><stop offset="0.542" stop-color="#f9c6ac"/><stop offset="0.583" stop-color="#f9c4a9"/><stop offset="0.625" stop-color="#f9c4a9"/><stop offset="0.667" stop-color="#f9c4a9"/><stop offset="0.708" stop-color="#f9c4a9"/><stop offset="0.750" stop-color="#f9c4a9"/><stop offset="0.792" stop-color="#f9c6ac"/><stop offset="0.833" stop-color="#f9c4a9"/><stop offset="0.875" stop-color="#f9c4a9"/><stop offset="0.917" stop-color="#f9c4a9"/><stop offset="0.958" stop-color="#f9c6ac"/><stop offset="1.000" stop-color="#f9c6ac"/></linearGradient>
<linearGradient id="b170" gradientUnits="userSpaceOnUse" x1="648.5" y1="483.2" x2="206.7" y2="333.1"><stop offset="0.000" stop-color="#faeae1"/><stop offset="0.042" stop-color="#faeae1"/><stop offset="0.083" stop-color="#fae9df"/><stop offset="0.125" stop-color="#faeae1"/><stop offset="0.167" stop-color="#faeae1"/><stop offset="0.208" stop-color="#faeae1"/><stop offset="0.250" stop-color="#fbe4d6"/><stop offset="0.292" stop-color="#fdddcb"/><stop offset="0.333" stop-color="#fcd3bc"/><stop offset="0.375" stop-color="#f9c6ac"/><stop offset="0.417" stop-color="#f9c2a7"/><stop offset="0.458" stop-color="#f9c2a7"/><stop offset="0.500" stop-color="#f9c4a9"/><stop offset="0.542" stop-color="#f9c2a7"/><stop offset="0.583" stop-color="#f8bfa4"/><stop offset="0.625" stop-color="#f9c2a7"/><stop offset="0.667" stop-color="#f9c4a9"/><stop offset="0.708" stop-color="#f9c6ac"/><stop offset="0.750" stop-color="#f9c2a7"/><stop offset="0.792" stop-color="#f9c2a7"/><stop offset="0.833" stop-color="#f9c2a7"/><stop offset="0.875" stop-color="#f9c2a7"/><stop offset="0.917" stop-color="#f9c4a9"/><stop offset="0.958" stop-color="#f9c4a9"/><stop offset="1.000" stop-color="#f9c4a9"/></linearGradient>
<linearGradient id="b171" gradientUnits="userSpaceOnUse" x1="648.5" y1="483.3" x2="205.2" y2="338.3"><stop offset="0.000" stop-color="#f9ede5"/><stop offset="0.042" stop-color="#f9ede5"/><stop offset="0.083" stop-color="#f9ede5"/><stop offset="0.125" stop-color="#f9ebe3"/><stop offset="0.167" stop-color="#f9ebe3"/><stop offset="0.208" stop-color="#f9eee7"/><stop offset="0.250" stop-color="#fbe6da"/><stop offset="0.292" stop-color="#fcdfcf"/><stop offset="0.333" stop-color="#fcd7c2"/><stop offset="0.375" stop-color="#fbccb4"/><stop offset="0.417" stop-color="#fac8af"/><stop offset="0.458" stop-color="#facab1"/><stop offset="0.500" stop-color="#fac8af"/><stop offset="0.542" stop-color="#fac8af"/><stop offset="0.583" stop-color="#fac8af"/><stop offset="0.625" stop-color="#fac8af"/><stop offset="0.667" stop-color="#fac8af"/><stop offset="0.708" stop-color="#fac8af"/><stop offset="0.750" stop-color="#fac8af"/><stop offset="0.792" stop-color="#fac8af"/><stop offset="0.833" stop-color="#fac8af"/><stop offset="0.875" stop-color="#fac8af"/><stop offset="0.917" stop-color="#f9c6ac"/><stop offset="0.958" stop-color="#fac8af"/><stop offset="1.000" stop-color="#facab1"/></linearGradient>
<linearGradient id="b172" gradientUnits="userSpaceOnUse" x1="648.4" y1="483.5" x2="203.8" y2="343.4"><stop offset="0.000" stop-color="#faeae1"/><stop offset="0.042" stop-color="#f9ebe3"/><stop offset="0.083" stop-color="#f9ebe3"/><stop offset="0.125" stop-color="#f9ebe3"/><stop offset="0.167" stop-color="#faeae1"/><stop offset="0.208" stop-color="#faeae1"/><stop offset="0.250" stop-color="#fbe5d8"/><stop offset="0.292" stop-color="#fcdfcf"/><stop offset="0.333" stop-color="#fcd3bc"/><stop offset="0.375" stop-color="#f9c4a9"/><stop offset="0.417" stop-color="#f9c4a9"/><stop offset="0.458" stop-color="#f9c4a9"/><stop offset="0.500" stop-color="#f9c4a9"/><stop offset="0.542" stop-color="#f9c2a7"/><stop offset="0.583" stop-color="#f9c4a9"/><stop offset="0.625" stop-color="#f9c4a9"/><stop offset="0.667" stop-color="#f9c6ac"/><stop offset="0.708" stop-color="#fac8af"/><stop offset="0.750" stop-color="#fac8af"/><stop offset="0.792" stop-color="#f9c6ac"/><stop offset="0.833" stop-color="#f9c6ac"/><stop offset="0.875" stop-color="#f9c4a9"/><stop offset="0.917" stop-color="#f9c4a9"/><stop offset="0.958" stop-color="#f9c4a9"/><stop offset="1.000" stop-color="#f9c6ac"/></linearGradient>
<linearGradient id="b173" gradientUnits="userSpaceOnUse" x1="648.4" y1="483.6" x2="202.4" y2="348.6"><stop offset="0.000" stop-color="#f9ebe3"/><stop offset="0.042" stop-color="#f9ebe3"/><stop offset="0.083" stop-color="#f9ebe3"/><stop offset="0.125" stop-color="#f9ede5"/><stop offset="0.167" stop-color="#f9ede5"/><stop offset="0.208" stop-color="#f9ebe3"/><stop offset="0.250" stop-color="#fbe6da"/><stop offset="0.292" stop-color="#fdddcb"/><stop offset="0.333" stop-color="#fcd7c2"/><stop offset="0.375" stop-color="#fbccb4"/><stop offset="0.417" stop-color="#f9c4a9"/><stop offset="0.458" stop-color="#fac8af"/><stop offset="0.500" stop-color="#f9c6ac"/><stop offset="0.542" stop-color="#f9c4a9"/><stop offset="0.583" stop-color="#f9c4a9"/><stop offset="0.625" stop-color="#fac8af"/><stop offset="0.667" stop-color="#fbccb4"/><stop offset="0.708" stop-color="#fbccb4"/><stop offset="0.750" stop-color="#f9c6ac"/><stop offset="0.792" stop-color="#f9c6ac"/><stop offset="0.833" stop-color="#fac8af"/><stop offset="0.875" stop-color="#f9c6ac"/><stop offset="0.917" stop-color="#f9c6ac"/><stop offset="0.958" stop-color="#f9c6ac"/><stop offset="1.000" stop-color="#f9c6ac"/></linearGradient>
<linearGradient id="b174" gradientUnits="userSpaceOnUse" x1="648.3" y1="483.8" x2="201.1" y2="353.8"><stop offset="0.000" stop-color="#f9ede5"/><stop offset="0.042" stop-color="#faeae1"/><stop offset="0.083" stop-color="#f9ebe3"/><stop offset="0.125" stop-color="#f9ede5"/><stop offset="0.167" stop-color="#faeae1"/><stop offset="0.208" stop-color="#f9ebe3"/><stop offset="0.250" stop-color="#fae7dc"/><stop offset="0.292" stop-color="#fcdfcf"/><stop offset="0.333" stop-color="#fcd3bc"/><stop offset="0.375" stop-color="#facab1"/><stop offset="0.417" stop-color="#f9c4a9"/><stop offset="0.458" stop-color="#f9c6ac"/><stop offset="0.500" stop-color="#f9c6ac"/><stop offset="0.542" stop-color="#f9c6ac"/><stop offset="0.583" stop-color="#f9c6ac"/><stop offset="0.625" stop-color="#fac8af"/><stop offset="0.667" stop-color="#fbd0b9"/><stop offset="0.708" stop-color="#fbceb7"/><stop offset="0.750" stop-color="#fac8af"/><stop offset="0.792" stop-color="#f9c6ac"/><stop offset="0.833" stop-color="#f9c6ac"/><stop offset="0.875" stop-color="#fac8af"/><stop offset="0.917" stop-color="#f9c4a9"/><stop offset="0.958" stop-color="#f9c6ac"/><stop offset="1.000" stop-color="#f9c6ac"/></linearGradient>
<linearGradient id="b175" gradientUnits="userSpaceOnUse" x1="648.3" y1="484" x2="199.8" y2="359"><stop offset="0.000" stop-color="#f9ebe3"/><stop offset="0.042" stop-color="#f9ebe3"/><stop offset="0.083" stop-color="#f9ebe3"/><stop offset="0.125" stop-color="#f9eee7"/><stop offset="0.167" stop-color="#f9ede5"/><stop offset="0.208" stop-color="#f9ebe3"/><stop offset="0.250" stop-color="#fbe6da"/><stop offset="0.292" stop-color="#fcdfcf"/><stop offset="0.333" stop-color="#fddbc7"/><stop offset="0.375" stop-color="#fbccb4"/><stop offset="0.417" stop-color="#f9c6ac"/><stop offset="0.458" stop-color="#fac8af"/><stop offset="0.500" stop-color="#facab1"/><stop offset="0.542" stop-color="#fac8af"/><stop offset="0.583" stop-color="#fac8af"/><stop offset="0.625" stop-color="#facab1"/><stop offset="0.667" stop-color="#fcd7c2"/><stop offset="0.708" stop-color="#fcd7c2"/><stop offset="0.750" stop-color="#facab1"/><stop offset="0.792" stop-color="#fac8af"/><stop offset="0.833" stop-color="#fac8af"/><stop offset="0.875" stop-color="#fac8af"/><stop offset="0.917" stop-color="#fac8af"/><stop offset="0.958" stop-color="#f9c6ac"/><stop offset="1.000" stop-color="#fac8af"/></linearGradient>
<linearGradient id="b176" gradientUnits="userSpaceOnUse" x1="648.3" y1="484.1" x2="198.6" y2="364.2"><stop offset="0.000" stop-color="#faeae1"/><stop offset="0.042" stop-color="#f9ebe3"/><stop offset="0.083" stop-color="#f9ede5"/><stop offset="0.125" stop-color="#f9ede5"/><stop offset="0.167" stop-color="#f9ebe3"/><stop offset="0.208" stop-color="#f9ede5"/><stop offset="0.250" stop-color="#fbe5d8"/><stop offset="0.292" stop-color="#fcdfcf"/><stop offset="0.333" stop-color="#fddbc7"/><stop offset="0.375" stop-color="#fbccb4"/><stop offset="0.417" stop-color="#fac8af"/><stop offset="0.458" stop-color="#f9c6ac"/><stop offset="0.500" stop-color="#f9c6ac"/><stop offset="0.542" stop-color="#f9c6ac"/><stop offset="0.583" stop-color="#fac8af"/><stop offset="0.625" stop-color="#fac8af"/><stop offset="0.667" stop-color="#fdd9c4"/><stop offset="0.708" stop-color="#fcd5bf"/><stop offset="0.750" stop-color="#fac8af"/><stop offset="0.792" stop-color="#f9c6ac"/><stop offset="0.833" stop-color="#fac8af"/><stop offset="0.875" stop-color="#facab1"/><stop offset="0.917" stop-color="#fac8af"/><stop offset="0.958" stop-color="#facab1"/><stop offset="1.000" stop-color="#facab1"/></linearGradient>
<linearGradient id="b177" gradientUnits="userSpaceOnUse" x1="648.2" y1="484.3" x2="197.4" y2="369.4"><stop offset="0.000" stop-color="#f9ede5"/><stop offset="0.042" stop-color="#f9ebe3"/><stop offset="0.083" stop-color="#f9ede5"/><stop offset="0.125" stop-color="#f9ebe3"/><stop offset="0.167" stop-color="#f9ede5"/><stop offset="0.208" stop-color="#f9ebe3"/><stop offset="0.250" stop-color="#fbe6da"/><stop offset="0.292" stop-color="#fce0d0"/><stop offset="0.333" stop-color="#fcd7c2"/><stop offset="0.375" stop-color="#fbccb4"/><stop offset="0.417" stop-color="#facab1"/><stop offset="0.458" stop-color="#fac8af"/><stop offset="0.500" stop-color="#fac8af"/><stop offset="0.542" stop-color="#fbccb4"/><stop offset="0.583" stop-color="#f9c6ac"/><stop offset="0.625" stop-color="#facab1"/><stop offset="0.667" stop-color="#fcd5bf"/><stop offset="0.708" stop-color="#fcd3bc"/><stop offset="0.750" stop-color="#fac8af"/><stop offset="0.792" stop-color="#fac8af"/><stop offset="0.833" stop-color="#facab1"/><stop offset="0.875" stop-color="#fac8af"/><stop offset="0.917" stop-color="#facab1"/><stop offset="0.958" stop-color="#facab1"/><stop offset="1.000" stop-color="#facab1"/></linearGradient>
<linearGradient id="b178" gradientUnits="userSpaceOnUse" x1="648.2" y1="484.5" x2="196.3" y2="374.7"><stop offset="0.000" stop-color="#faeae1"/><stop offset="0.042" stop-color="#f9ebe3"/><stop offset="0.083" stop-color="#f9ebe3"/><stop offset="0.125" stop-color="#f9ebe3"/><stop offset="0.167" stop-color="#faeae1"/><stop offset="0.208" stop-color="#faeae1"/><stop offset="0.250" stop-color="#fbe4d6"/><stop offset="0.292" stop-color="#fcdfcf"/><stop offset="0.333" stop-color="#fcd5bf"/><stop offset="0.375" stop-color="#facab1"/><stop offset="0.417" stop-color="#f9c4a9"/><stop offset="0.458" stop-color="#f9c4a9"/><stop offset="0.500" stop-color="#fac8af"/><stop offset="0.542" stop-color="#f9c6ac"/><stop offset="0.583" stop-color="#f9c6ac"/><stop offset="0.625" stop-color="#f9c4a9"/><stop offset="0.667" stop-color="#fbccb4"/><stop offset="0.708" stop-color="#fbceb7"/><stop offset="0.750" stop-color="#f9c4a9"/><stop offset="0.792" stop-color="#f9c2a7"/><stop offset="0.833" stop-color="#f9c6ac"/><stop offset="0.875" stop-color="#f9c6ac"/><stop offset="0.917" stop-color="#f9c6ac"/><stop offset="0.958" stop-color="#f9c4a9"/><stop offset="1.000" stop-color="#f9c4a9"/></linearGradient>
<linearGradient id="b179" gradientUnits="userSpaceOnUse" x1="648.1" y1="484.6" x2="195.2" y2="379.9"><stop offset="0.000" stop-color="#f9ebe3"/><stop offset="0.042" stop-color="#faeae1"/><stop offset="0.083" stop-color="#f9ebe3"/><stop offset="0.125" stop-color="#faeae1"/><stop offset="0.167" stop-color="#f9ebe3"/><stop offset="0.208" stop-color="#faeae1"/><stop offset="0.250" stop-color="#fbe5d8"/><stop offset="0.292" stop-color="#fcdfcf"/><stop offset="0.333" stop-color="#fcd7c2"/><stop offset="0.375" stop-color="#facab1"/><stop offset="0.417" stop-color="#f9c4a9"/><stop offset="0.458" stop-color="#f9c6ac"/><stop offset="0.500" stop-color="#fac8af"/><stop offset="0.542" stop-color="#f9c6ac"/><stop offset="0.583" stop-color="#f9c6ac"/><stop offset="0.625" stop-color="#f9c4a9"/><stop offset="0.667" stop-color="#fac8af"/><stop offset="0.708" stop-color="#facab1"/><stop offset="0.750" stop-color="#fac8af"/><stop offset="0.792" stop-color="#f9c6ac"/><stop offset="0.833" stop-color="#f9c4a9"/><stop offset="0.875" stop-color="#f9c6ac"/><stop offset="0.917" stop-color="#f9c4a9"/><stop offset="0.958" stop-color="#f9c6ac"/><stop offset="1.000" stop-color="#fac8af"/></linearGradient>
<linearGradient id="b180" gradientUnits="userSpaceOnUse" x1="648.1" y1="484.8" x2="194.2" y2="385.2"><stop offset="0.000" stop-color="#f9ebe3"/><stop offset="0.042" stop-color="#f9ede5"/><stop offset="0.083" stop-color="#f9ebe3"/><stop offset="0.125" stop-color="#f9ede5"/><stop offset="0.167" stop-color="#f9ebe3"/><stop offset="0.208" stop-color="#f9ede5"/><stop offset="0.250" stop-color="#fbe5d8"/><stop offset="0.292" stop-color="#fce0d0"/><stop offset="0.333" stop-color="#fdd9c4"/><stop offset="0.375" stop-color="#facab1"/><stop offset="0.417" stop-color="#f9c4a9"/><stop offset="0.458" stop-color="#fac8af"/><stop offset="0.500" stop-color="#facab1"/><stop offset="0.542" stop-color="#fac8af"/><stop offset="0.583" stop-color="#facab1"/><stop offset="0.625" stop-color="#facab1"/><stop offset="0.667" stop-color="#facab1"/><stop offset="0.708" stop-color="#fac8af"/><stop offset="0.750" stop-color="#fac8af"/><stop offset="0.792" stop-color="#fac8af"/><stop offset="0.833" stop-color="#facab1"/><stop offset="0.875" stop-color="#facab1"/><stop offset="0.917" stop-color="#fac8af"/><stop offset="0.958" stop-color="#fac8af"/><stop offset="1.000" stop-color="#facab1"/></linearGradient>
<linearGradient id="b181" gradientUnits="userSpaceOnUse" x1="648.1" y1="485" x2="193.2" y2="390.5"><stop offset="0.000" stop-color="#f9ede5"/><stop offset="0.042" stop-color="#faeae1"/><stop offset="0.083" stop-color="#f9ede5"/><stop offset="0.125" stop-color="#faeae1"/><stop offset="0.167" stop-color="#f9ede5"/><stop offset="0.208" stop-color="#f9ebe3"/><stop offset="0.250" stop-color="#fbe6da"/><stop offset="0.292" stop-color="#fcdfcf"/><stop offset="0.333" stop-color="#fdd9c4"/><stop offset="0.375" stop-color="#fbceb7"/><stop offset="0.417" stop-color="#facab1"/><stop offset="0.458" stop-color="#fac8af"/><stop offset="0.500" stop-color="#f9c6ac"/><stop offset="0.542" stop-color="#fac8af"/><stop offset="0.583" stop-color="#facab1"/><stop offset="0.625" stop-color="#fac8af"/><stop offset="0.667" stop-color="#facab1"/><stop offset="0.708" stop-color="#fac8af"/><stop offset="0.750" stop-color="#fac8af"/><stop offset="0.792" stop-color="#facab1"/><stop offset="0.833" stop-color="#facab1"/><stop offset="0.875" stop-color="#fac8af"/><stop offset="0.917" stop-color="#fac8af"/><stop offset="0.958" stop-color="#facab1"/><stop offset="1.000" stop-color="#fac8af"/></linearGradient>
<linearGradient id="b182" gradientUnits="userSpaceOnUse" x1="648.1" y1="485.1" x2="192.3" y2="395.7"><stop offset="0.000" stop-color="#f9ede5"/><stop offset="0.042" stop-color="#f9ede5"/><stop offset="0.083" stop-color="#f9ebe3"/><stop offset="0.125" stop-color="#f9ebe3"/><stop offset="0.167" stop-color="#f9ebe3"/><stop offset="0.208" stop-color="#faeae1"/><stop offset="0.250" stop-color="#fbe5d8"/><stop offset="0.292" stop-color="#fcdfcf"/><stop offset="0.333" stop-color="#fcd7c2"/><stop offset="0.375" stop-color="#fbd0b9"/><stop offset="0.417" stop-color="#fbccb4"/><stop offset="0.458" stop-color="#fbccb4"/><stop offset="0.500" stop-color="#facab1"/><stop offset="0.542" stop-color="#facab1"/><stop offset="0.583" stop-color="#facab1"/><stop offset="0.625" stop-color="#facab1"/><stop offset="0.667" stop-color="#fbceb7"/><stop offset="0.708" stop-color="#facab1"/><stop offset="0.750" stop-color="#fac8af"/><stop offset="0.792" stop-color="#fac8af"/><stop offset="0.833" stop-color="#fac8af"/><stop offset="0.875" stop-color="#facab1"/><stop offset="0.917" stop-color="#f9c6ac"/><stop offset="0.958" stop-color="#fac8af"/><stop offset="1.000" stop-color="#fac8af"/></linearGradient>
<linearGradient id="b183" gradientUnits="userSpaceOnUse" x1="648" y1="485.3" x2="191.4" y2="401"><stop offset="0.000" stop-color="#f9efe9"/><stop offset="0.042" stop-color="#f9eee7"/><stop offset="0.083" stop-color="#f9f0eb"/><stop offset="0.125" stop-color="#f9efe9"/><stop offset="0.167" stop-color="#f9f0eb"/><stop offset="0.208" stop-color="#f9f0eb"/><stop offset="0.250" stop-color="#f9ebe3"/><stop offset="0.292" stop-color="#fae9df"/><stop offset="0.333" stop-color="#fae8de"/><stop offset="0.375" stop-color="#fbe6da"/><stop offset="0.417" stop-color="#fae7dc"/><stop offset="0.458" stop-color="#fae7dc"/><stop offset="0.500" stop-color="#fae7dc"/><stop offset="0.542" stop-color="#fae8de"/><stop offset="0.583" stop-color="#faeae1"/><stop offset="0.625" stop-color="#fae9df"/><stop offset="0.667" stop-color="#f9ede5"/><stop offset="0.708" stop-color="#faeae1"/><stop offset="0.750" stop-color="#fac8af"/><stop offset="0.792" stop-color="#f9c6ac"/><stop offset="0.833" stop-color="#facab1"/><stop offset="0.875" stop-color="#fac8af"/><stop offset="0.917" stop-color="#facab1"/><stop offset="0.958" stop-color="#fac8af"/><stop offset="1.000" stop-color="#fac8af"/></linearGradient>
<linearGradient id="b184" gradientUnits="userSpaceOnUse" x1="648" y1="485.5" x2="190.6" y2="406.3"><stop offset="0.000" stop-color="#f8f4f2"/><stop offset="0.042" stop-color="#f8f4f2"/><stop offset="0.083" stop-color="#f8f4f2"/><stop offset="0.125" stop-color="#f8f4f2"/><stop offset="0.167" stop-color="#f8f4f2"/><stop offset="0.208" stop-color="#f8f4f2"/><stop offset="0.250" stop-color="#f8f3f0"/><stop offset="0.292" stop-color="#f7f6f6"/><stop offset="0.333" stop-color="#f7f5f4"/><stop offset="0.375" stop-color="#f7f6f6"/><stop offset="0.417" stop-color="#f3f5f6"/><stop offset="0.458" stop-color="#eff3f5"/><stop offset="0.500" stop-color="#edf2f5"/><stop offset="0.542" stop-color="#edf2f5"/><stop offset="0.583" stop-color="#eaf1f5"/><stop offset="0.625" stop-color="#e9f0f4"/><stop offset="0.667" stop-color="#e9f0f4"/><stop offset="0.708" stop-color="#e7f0f4"/><stop offset="0.750" stop-color="#fbccb4"/><stop offset="0.792" stop-color="#fbccb4"/><stop offset="0.833" stop-color="#facab1"/><stop offset="0.875" stop-color="#fac8af"/><stop offset="0.917" stop-color="#fac8af"/><stop offset="0.958" stop-color="#fbccb4"/><stop offset="1.000" stop-color="#facab1"/></linearGradient>
<linearGradient id="b185" gradientUnits="userSpaceOnUse" x1="648" y1="485.7" x2="189.8" y2="411.7"><stop offset="0.000" stop-color="#f8f3f0"/><stop offset="0.042" stop-color="#f8f3f0"/><stop offset="0.083" stop-color="#f8f2ef"/><stop offset="0.125" stop-color="#f8f3f0"/><stop offset="0.167" stop-color="#f8f3f0"/><stop offset="0.208" stop-color="#f8f3f0"/><stop offset="0.250" stop-color="#f8f4f2"/><stop offset="0.292" stop-color="#f8f3f0"/><stop offset="0.333" stop-color="#f8f4f2"/><stop offset="0.375" stop-color="#f7f6f6"/><stop offset="0.417" stop-color="#f2f5f6"/><stop offset="0.458" stop-color="#f3f5f6"/><stop offset="0.500" stop-color="#f0f4f6"/><stop offset="0.542" stop-color="#edf2f5"/><stop offset="0.583" stop-color="#eaf1f5"/><stop offset="0.625" stop-color="#e6eff4"/><stop offset="0.667" stop-color="#e9f0f4"/><stop offset="0.708" stop-color="#e7f0f4"/><stop offset="0.750" stop-color="#fac8af"/><stop offset="0.792" stop-color="#facab1"/><stop offset="0.833" stop-color="#facab1"/><stop offset="0.875" stop-color="#fac8af"/><stop offset="0.917" stop-color="#facab1"/><stop offset="0.958" stop-color="#facab1"/><stop offset="1.000" stop-color="#facab1"/></linearGradient>
<linearGradient id="b186" gradientUnits="userSpaceOnUse" x1="647.9" y1="485.8" x2="189.1" y2="417"><stop offset="0.000" stop-color="#f8f2ef"/><stop offset="0.042" stop-color="#f8f2ef"/><stop offset="0.083" stop-color="#f8f3f0"/><stop offset="0.125" stop-color="#f8f2ef"/><stop offset="0.167" stop-color="#f8f2ef"/><stop offset="0.208" stop-color="#f8f3f0"/><stop offset="0.250" stop-color="#f8f2ef"/><stop offset="0.292" stop-color="#f8f3f0"/><stop offset="0.333" stop-color="#f7f6f6"/><stop offset="0.375" stop-color="#f5f6f7"/><stop offset="0.417" stop-color="#f5f6f7"/><stop offset="0.458" stop-color="#f2f5f6"/><stop offset="0.500" stop-color="#f0f4f6"/><stop offset="0.542" stop-color="#edf2f5"/><stop offset="0.583" stop-color="#ecf2f5"/><stop offset="0.625" stop-color="#eaf1f5"/><stop offset="0.667" stop-color="#e7f0f4"/><stop offset="0.708" stop-color="#e6eff4"/><stop offset="0.750" stop-color="#facab1"/><stop offset="0.792" stop-color="#facab1"/><stop offset="0.833" stop-color="#fac8af"/><stop offset="0.875" stop-color="#fbccb4"/><stop offset="0.917" stop-color="#facab1"/><stop offset="0.958" stop-color="#fac8af"/><stop offset="1.000" stop-color="#facab1"/></linearGradient>
<linearGradient id="b187" gradientUnits="userSpaceOnUse" x1="647.9" y1="486" x2="188.4" y2="422.3"><stop offset="0.000" stop-color="#f8f1ed"/><stop offset="0.042" stop-color="#f9f0eb"/><stop offset="0.083" stop-color="#f8f3f0"/><stop offset="0.125" stop-color="#f8f3f0"/><stop offset="0.167" stop-color="#f8f1ed"/><stop offset="0.208" stop-color="#f8f1ed"/><stop offset="0.250" stop-color="#f8f1ed"/><stop offset="0.292" stop-color="#f8f3f0"/><stop offset="0.333" stop-color="#f7f5f4"/><stop offset="0.375" stop-color="#f6f7f7"/><stop offset="0.417" stop-color="#f6f7f7"/><stop offset="0.458" stop-color="#f3f5f6"/><stop offset="0.500" stop-color="#f3f5f6"/><stop offset="0.542" stop-color="#edf2f5"/><stop offset="0.583" stop-color="#edf2f5"/><stop offset="0.625" stop-color="#ecf2f5"/><stop offset="0.667" stop-color="#e7f0f4"/><stop offset="0.708" stop-color="#e9f0f4"/><stop offset="0.750" stop-color="#facab1"/><stop offset="0.792" stop-color="#facab1"/><stop offset="0.833" stop-color="#facab1"/><stop offset="0.875" stop-color="#f9c6ac"/><stop offset="0.917" stop-color="#fac8af"/><stop offset="0.958" stop-color="#fac8af"/><stop offset="1.000" stop-color="#fac8af"/></linearGradient>
<linearGradient id="b188" gradientUnits="userSpaceOnUse" x1="647.9" y1="486.2" x2="187.8" y2="427.7"><stop offset="0.000" stop-color="#f8f3f0"/><stop offset="0.042" stop-color="#f8f4f2"/><stop offset="0.083" stop-color="#f8f4f2"/><stop offset="0.125" stop-color="#f8f2ef"/><stop offset="0.167" stop-color="#f8f3f0"/><stop offset="0.208" stop-color="#f8f3f0"/><stop offset="0.250" stop-color="#f8f3f0"/><stop offset="0.292" stop-color="#f7f5f4"/><stop offset="0.333" stop-color="#f7f6f6"/><stop offset="0.375" stop-color="#f5f6f7"/><stop offset="0.417" stop-color="#f3f5f6"/><stop offset="0.458" stop-color="#f2f5f6"/><stop offset="0.500" stop-color="#eff3f5"/><stop offset="0.542" stop-color="#ecf2f5"/><stop offset="0.583" stop-color="#ecf2f5"/><stop offset="0.625" stop-color="#e9f0f4"/><stop offset="0.667" stop-color="#e7f0f4"/><stop offset="0.708" stop-color="#e6eff4"/><stop offset="0.750" stop-color="#facab1"/><stop offset="0.792" stop-color="#fbccb4"/><stop offset="0.833" stop-color="#fbccb4"/><stop offset="0.875" stop-color="#fbccb4"/><stop offset="0.917" stop-color="#facab1"/><stop offset="0.958" stop-color="#facab1"/><stop offset="1.000" stop-color="#facab1"/></linearGradient>
<linearGradient id="b189" gradientUnits="userSpaceOnUse" x1="647.9" y1="486.3" x2="187.2" y2="433"><stop offset="0.000" stop-color="#f8f3f0"/><stop offset="0.042" stop-color="#f8f4f2"/><stop offset="0.083" stop-color="#f8f1ed"/><stop offset="0.125" stop-color="#f8f1ed"/><stop offset="0.167" stop-color="#f8f2ef"/><stop offset="0.208" stop-color="#f8f2ef"/><stop offset="0.250" stop-color="#f8f1ed"/><stop offset="0.292" stop-color="#f8f2ef"/><stop offset="0.333" stop-color="#f7f5f4"/><stop offset="0.375" stop-color="#f7f5f4"/><stop offset="0.417" stop-color="#f5f6f7"/><stop offset="0.458" stop-color="#f5f6f7"/><stop offset="0.500" stop-color="#f2f5f6"/><stop offset="0.542" stop-color="#eff3f5"/><stop offset="0.583" stop-color="#edf2f5"/><stop offset="0.625" stop-color="#eaf1f5"/><stop offset="0.667" stop-color="#e9f0f4"/><stop offset="0.708" stop-color="#e7f0f4"/><stop offset="0.750" stop-color="#fac8af"/><stop offset="0.792" stop-color="#fac8af"/><stop offset="0.833" stop-color="#fac8af"/><stop offset="0.875" stop-color="#fac8af"/><stop offset="0.917" stop-color="#fac8af"/><stop offset="0.958" stop-color="#fac8af"/><stop offset="1.000" stop-color="#facab1"/></linearGradient>
</defs>
<rect width="1200" height="636" fill="#fff"/>
<g clip-path="url(#ax)">
<path d="M670.6 473.9L901.2 42.1A478.5 514.3 0 0 0 894.7 38.1L670.4 473.8Z" fill="url(#b0)"/>
<path d="M670.5 473.8L896.8 39.4A478.5 514.3 0 0 0 890.3 35.5L670.2 473.7Z" fill="url(#b1)"/>
<path d="M670.3 473.7L892.5 36.8A478.5 514.3 0 0 0 885.8 33L670.1 473.6Z" fill="url(#b2)"/>
<path d="M670.2 473.7L888.1 34.2A478.5 514.3 0 0 0 881.4 30.5L670 473.5Z" fill="url(#b3)"/>
<path d="M670 473.6L883.6 31.7A478.5 514.3 0 0 0 876.9 28.1L669.8 473.5Z" fill="url(#b4)"/>
<path d="M669.9 473.5L879.2 29.3A478.5 514.3 0 0 0 872.5 25.7L669.7 473.4Z" fill="url(#b5)"/>
<path d="M669.8 473.4L874.7 26.9A478.5 514.3 0 0 0 867.9 23.4L669.5 473.3Z" fill="url(#b6)"/>
<path d="M669.6 473.3L870.2 24.5A478.5 514.3 0 0 0 863.4 21.1L669.4 473.2Z" fill="url(#b7)"/>
<path d="M669.5 473.3L865.7 22.2A478.5 514.3 0 0 0 858.9 18.9L669.2 473.2Z" fill="url(#b8)"/>
<path d="M669.3 473.2L861.1 20A478.5 514.3 0 0 0 854.3 16.7L669.1 473.1Z" fill="url(#b9)"/>
<path d="M669.2 473.1L856.6 17.8A478.5 514.3 0 0 0 849.7 14.6L669 473Z" fill="url(#b10)"/>
<path d="M669 473.1L852 15.6A478.5 514.3 0 0 0 845.1 12.5L668.8 473Z" fill="url(#b11)"/>
<path d="M668.9 473L847.4 13.5A478.5 514.3 0 0 0 840.4 10.5L668.7 472.9Z" fill="url(#b12)"/>
<path d="M668.7 472.9L842.7 11.5A478.5 514.3 0 0 0 835.8 8.5L668.5 472.8Z" fill="url(#b13)"/>
<path d="M668.6 472.9L838.1 9.5A478.5 514.3 0 0 0 831.1 6.6L668.4 472.8Z" fill="url(#b14)"/>
<path d="M668.4 472.8L833.4 7.5A478.5 514.3 0 0 0 826.4 4.7L668.2 472.7Z" fill="url(#b15)"/>
<path d="M668.3 472.7L828.7 5.7A478.5 514.3 0 0 0 821.7 2.9L668.1 472.7Z" fill="url(#b16)"/>
<path d="M668.1 472.7L824 3.8A478.5 514.3 0 0 0 817 1.2L667.9 472.6Z" fill="url(#b17)"/>
<path d="M668 472.6L819.3 2A478.5 514.3 0 0 0 812.2 -0.5L667.8 472.5Z" fill="url(#b18)"/>
<path d="M667.8 472.6L814.6 0.3A478.5 514.3 0 0 0 807.4 -2.2L667.6 472.5Z" fill="url(#b19)"/>
<path d="M667.7 472.5L809.8 -1.4A478.5 514.3 0 0 0 802.7 -3.8L667.5 472.4Z" fill="url(#b20)"/>
<path d="M667.5 472.5L805.1 -3A478.5 514.3 0 0 0 797.9 -5.3L667.3 472.4Z" fill="url(#b21)"/>
<path d="M667.4 472.4L800.3 -4.6A478.5 514.3 0 0 0 793.1 -6.8L667.2 472.3Z" fill="url(#b22)"/>
<path d="M667.2 472.4L795.5 -6.1A478.5 514.3 0 0 0 788.2 -8.2L667 472.3Z" fill="url(#b23)"/>
<path d="M667.1 472.3L790.7 -7.5A478.5 514.3 0 0 0 783.4 -9.6L666.9 472.3Z" fill="url(#b24)"/>
<path d="M666.9 472.3L785.8 -8.9A478.5 514.3 0 0 0 778.5 -11L666.7 472.2Z" fill="url(#b25)"/>
<path d="M666.8 472.2L781 -10.3A478.5 514.3 0 0 0 773.7 -12.2L666.5 472.2Z" fill="url(#b26)"/>
<path d="M666.6 472.2L776.1 -11.6A478.5 514.3 0 0 0 768.8 -13.4L666.4 472.1Z" fill="url(#b27)"/>
<path d="M666.5 472.2L771.3 -12.8A478.5 514.3 0 0 0 763.9 -14.6L666.2 472.1Z" fill="url(#b28)"/>
<path d="M666.3 472.1L766.4 -14A478.5 514.3 0 0 0 759 -15.7L666.1 472.1Z" fill="url(#b29)"/>
<path d="M666.2 472.1L761.5 -15.2A478.5 514.3 0 0 0 754.1 -16.8L665.9 472Z" fill="url(#b30)"/>
<path d="M666 472L756.6 -16.2A478.5 514.3 0 0 0 749.2 -17.8L665.8 472Z" fill="url(#b31)"/>
<path d="M665.8 472L751.7 -17.3A478.5 514.3 0 0 0 744.3 -18.7L665.6 472Z" fill="url(#b32)"/>
<path d="M665.7 472L746.7 -18.2A478.5 514.3 0 0 0 739.3 -19.6L665.4 471.9Z" fill="url(#b33)"/>
<path d="M665.5 472L741.8 -19.1A478.5 514.3 0 0 0 734.4 -20.4L665.3 471.9Z" fill="url(#b34)"/>
<path d="M665.4 471.9L736.9 -20A478.5 514.3 0 0 0 729.4 -21.2L665.1 471.9Z" fill="url(#b35)"/>
<path d="M665.2 471.9L731.9 -20.8A478.5 514.3 0 0 0 724.5 -21.9L665 471.9Z" fill="url(#b36)"/>
<path d="M665.1 471.9L727 -21.6A478.5 514.3 0 0 0 719.5 -22.6L664.8 471.8Z" fill="url(#b37)"/>
<path d="M664.9 471.9L722 -22.2A478.5 514.3 0 0 0 714.5 -23.2L664.7 471.8Z" fill="url(#b38)"/>
<path d="M664.7 471.8L717 -22.9A478.5 514.3 0 0 0 709.6 -23.7L664.5 471.8Z" fill="url(#b39)"/>
<path d="M664.6 471.8L712.1 -23.5A478.5 514.3 0 0 0 704.6 -24.2L664.3 471.8Z" fill="url(#b40)"/>
<path d="M664.4 471.8L707.1 -24A478.5 514.3 0 0 0 699.6 -24.7L664.2 471.8Z" fill="url(#b41)"/>
<path d="M664.3 471.8L702.1 -24.4A478.5 514.3 0 0 0 694.6 -25L664 471.8Z" fill="url(#b42)"/>
<path d="M664.1 471.8L697.1 -24.9A478.5 514.3 0 0 0 689.6 -25.4L663.9 471.8Z" fill="url(#b43)"/>
<path d="M663.9 471.8L692.1 -25.2A478.5 514.3 0 0 0 684.6 -25.6L663.7 471.7Z" fill="url(#b44)"/>
<path d="M663.8 471.8L687.1 -25.5A478.5 514.3 0 0 0 679.6 -25.9L663.5 471.7Z" fill="url(#b45)"/>
<path d="M663.6 471.7L682.1 -25.8A478.5 514.3 0 0 0 674.6 -26L663.4 471.7Z" fill="url(#b46)"/>
<path d="M663.5 471.7L677.1 -25.9A478.5 514.3 0 0 0 669.6 -26.1L663.2 471.7Z" fill="url(#b47)"/>
<path d="M663.3 471.7L672.1 -26.1A478.5 514.3 0 0 0 664.6 -26.2L663.1 471.7Z" fill="url(#b48)"/>
<path d="M663.2 471.7L667.1 -26.1A478.5 514.3 0 0 0 659.6 -26.2L662.9 471.7Z" fill="url(#b49)"/>
<path d="M663 471.7L662.1 -26.2A478.5 514.3 0 0 0 654.6 -26.1L662.8 471.7Z" fill="url(#b50)"/>
<path d="M662.8 471.7L657.1 -26.1A478.5 514.3 0 0 0 649.6 -26L662.6 471.7Z" fill="url(#b51)"/>
<path d="M662.7 471.7L652.1 -26A478.5 514.3 0 0 0 644.6 -25.8L662.4 471.7Z" fill="url(#b52)"/>
<path d="M662.5 471.7L647.1 -25.9A478.5 514.3 0 0 0 639.6 -25.5L662.3 471.7Z" fill="url(#b53)"/>
<path d="M662.4 471.7L642.1 -25.7A478.5 514.3 0 0 0 634.6 -25.3L662.1 471.8Z" fill="url(#b54)"/>
<path d="M662.2 471.8L637.1 -25.4A478.5 514.3 0 0 0 629.6 -24.9L662 471.8Z" fill="url(#b55)"/>
<path d="M662 471.8L632.1 -25.1A478.5 514.3 0 0 0 624.6 -24.5L661.8 471.8Z" fill="url(#b56)"/>
<path d="M661.9 471.8L627.1 -24.7A478.5 514.3 0 0 0 619.6 -24L661.6 471.8Z" fill="url(#b57)"/>
<path d="M661.7 471.8L622.1 -24.3A478.5 514.3 0 0 0 614.6 -23.5L661.5 471.8Z" fill="url(#b58)"/>
<path d="M661.6 471.8L617.1 -23.8A478.5 514.3 0 0 0 609.7 -23L661.3 471.8Z" fill="url(#b59)"/>
<path d="M661.4 471.8L612.1 -23.3A478.5 514.3 0 0 0 604.7 -22.3L661.2 471.9Z" fill="url(#b60)"/>
<path d="M661.2 471.8L607.2 -22.7A478.5 514.3 0 0 0 599.7 -21.6L661 471.9Z" fill="url(#b61)"/>
<path d="M661.1 471.9L602.2 -22A478.5 514.3 0 0 0 594.8 -20.9L660.9 471.9Z" fill="url(#b62)"/>
<path d="M660.9 471.9L597.2 -21.3A478.5 514.3 0 0 0 589.8 -20.1L660.7 471.9Z" fill="url(#b63)"/>
<path d="M660.8 471.9L592.3 -20.5A478.5 514.3 0 0 0 584.9 -19.3L660.5 471.9Z" fill="url(#b64)"/>
<path d="M660.6 471.9L587.3 -19.7A478.5 514.3 0 0 0 579.9 -18.4L660.4 472Z" fill="url(#b65)"/>
<path d="M660.5 472L582.4 -18.8A478.5 514.3 0 0 0 575 -17.4L660.2 472Z" fill="url(#b66)"/>
<path d="M660.3 472L577.5 -17.9A478.5 514.3 0 0 0 570.1 -16.4L660.1 472Z" fill="url(#b67)"/>
<path d="M660.1 472L572.6 -16.9A478.5 514.3 0 0 0 565.2 -15.3L659.9 472.1Z" fill="url(#b68)"/>
<path d="M660 472.1L567.7 -15.9A478.5 514.3 0 0 0 560.3 -14.2L659.8 472.1Z" fill="url(#b69)"/>
<path d="M659.8 472.1L562.8 -14.8A478.5 514.3 0 0 0 555.4 -13L659.6 472.1Z" fill="url(#b70)"/>
<path d="M659.7 472.1L557.9 -13.6A478.5 514.3 0 0 0 550.6 -11.8L659.4 472.2Z" fill="url(#b71)"/>
<path d="M659.5 472.2L553 -12.4A478.5 514.3 0 0 0 545.7 -10.5L659.3 472.2Z" fill="url(#b72)"/>
<path d="M659.4 472.2L548.1 -11.1A478.5 514.3 0 0 0 540.9 -9.1L659.1 472.3Z" fill="url(#b73)"/>
<path d="M659.2 472.3L543.3 -9.8A478.5 514.3 0 0 0 536 -7.7L659 472.3Z" fill="url(#b74)"/>
<path d="M659.1 472.3L538.4 -8.4A478.5 514.3 0 0 0 531.2 -6.3L658.8 472.4Z" fill="url(#b75)"/>
<path d="M658.9 472.3L533.6 -7A478.5 514.3 0 0 0 526.4 -4.8L658.7 472.4Z" fill="url(#b76)"/>
<path d="M658.8 472.4L528.8 -5.5A478.5 514.3 0 0 0 521.6 -3.2L658.5 472.5Z" fill="url(#b77)"/>
<path d="M658.6 472.4L524 -4A478.5 514.3 0 0 0 516.8 -1.6L658.4 472.5Z" fill="url(#b78)"/>
<path d="M658.4 472.5L519.2 -2.4A478.5 514.3 0 0 0 512.1 0.1L658.2 472.6Z" fill="url(#b79)"/>
<path d="M658.3 472.5L514.5 -0.8A478.5 514.3 0 0 0 507.3 1.8L658.1 472.6Z" fill="url(#b80)"/>
<path d="M658.1 472.6L509.7 0.9A478.5 514.3 0 0 0 502.6 3.6L657.9 472.7Z" fill="url(#b81)"/>
<path d="M658 472.6L505 2.7A478.5 514.3 0 0 0 497.9 5.4L657.8 472.7Z" fill="url(#b82)"/>
<path d="M657.8 472.7L500.3 4.5A478.5 514.3 0 0 0 493.2 7.3L657.6 472.8Z" fill="url(#b83)"/>
<path d="M657.7 472.8L495.6 6.3A478.5 514.3 0 0 0 488.6 9.2L657.5 472.9Z" fill="url(#b84)"/>
<path d="M657.5 472.8L490.9 8.3A478.5 514.3 0 0 0 483.9 11.2L657.3 472.9Z" fill="url(#b85)"/>
<path d="M657.4 472.9L486.2 10.2A478.5 514.3 0 0 0 479.3 13.3L657.2 473Z" fill="url(#b86)"/>
<path d="M657.3 473L481.6 12.2A478.5 514.3 0 0 0 474.7 15.3L657 473.1Z" fill="url(#b87)"/>
<path d="M657.1 473L477 14.3A478.5 514.3 0 0 0 470.1 17.5L656.9 473.1Z" fill="url(#b88)"/>
<path d="M657 473.1L472.4 16.4A478.5 514.3 0 0 0 465.5 19.7L656.7 473.2Z" fill="url(#b89)"/>
<path d="M656.8 473.2L467.8 18.6A478.5 514.3 0 0 0 461 21.9L656.6 473.3Z" fill="url(#b90)"/>
<path d="M656.7 473.2L463.2 20.8A478.5 514.3 0 0 0 456.4 24.2L656.5 473.3Z" fill="url(#b91)"/>
<path d="M656.5 473.3L458.7 23.1A478.5 514.3 0 0 0 451.9 26.6L656.3 473.4Z" fill="url(#b92)"/>
<path d="M656.4 473.4L454.2 25.4A478.5 514.3 0 0 0 447.4 29L656.2 473.5Z" fill="url(#b93)"/>
<path d="M656.2 473.4L449.7 27.8A478.5 514.3 0 0 0 443 31.4L656 473.6Z" fill="url(#b94)"/>
<path d="M656.1 473.5L445.2 30.2A478.5 514.3 0 0 0 438.6 33.9L655.9 473.6Z" fill="url(#b95)"/>
<path d="M656 473.6L440.8 32.7A478.5 514.3 0 0 0 434.1 36.5L655.7 473.7Z" fill="url(#b96)"/>
<path d="M655.8 473.7L436.4 35.2A478.5 514.3 0 0 0 429.8 39.1L655.6 473.8Z" fill="url(#b97)"/>
<path d="M655.7 473.8L432 37.8A478.5 514.3 0 0 0 425.4 41.7L655.5 473.9Z" fill="url(#b98)"/>
<path d="M655.5 473.8L427.6 40.4A478.5 514.3 0 0 0 421.1 44.4L655.3 474Z" fill="url(#b99)"/>
<path d="M655.4 473.9L423.2 43A478.5 514.3 0 0 0 416.8 47.1L655.2 474.1Z" fill="url(#b100)"/>
<path d="M655.3 474L418.9 45.8A478.5 514.3 0 0 0 412.5 49.9L655.1 474.2Z" fill="url(#b101)"/>
<path d="M655.1 474.1L414.6 48.5A478.5 514.3 0 0 0 408.2 52.8L654.9 474.2Z" fill="url(#b102)"/>
<path d="M655 474.2L410.4 51.4A478.5 514.3 0 0 0 404 55.7L654.8 474.3Z" fill="url(#b103)"/>
<path d="M654.9 474.3L406.1 54.2A478.5 514.3 0 0 0 399.8 58.6L654.7 474.4Z" fill="url(#b104)"/>
<path d="M654.7 474.4L401.9 57.1A478.5 514.3 0 0 0 395.7 61.6L654.5 474.5Z" fill="url(#b105)"/>
<path d="M654.6 474.5L397.7 60.1A478.5 514.3 0 0 0 391.5 64.6L654.4 474.6Z" fill="url(#b106)"/>
<path d="M654.5 474.6L393.6 63.1A478.5 514.3 0 0 0 387.4 67.7L654.3 474.7Z" fill="url(#b107)"/>
<path d="M654.3 474.7L389.5 66.1A478.5 514.3 0 0 0 383.3 70.8L654.1 474.8Z" fill="url(#b108)"/>
<path d="M654.2 474.8L385.4 69.2A478.5 514.3 0 0 0 379.3 74L654 474.9Z" fill="url(#b109)"/>
<path d="M654.1 474.9L381.3 72.4A478.5 514.3 0 0 0 375.3 77.2L653.9 475Z" fill="url(#b110)"/>
<path d="M653.9 475L377.3 75.6A478.5 514.3 0 0 0 371.3 80.4L653.7 475.1Z" fill="url(#b111)"/>
<path d="M653.8 475.1L373.3 78.8A478.5 514.3 0 0 0 367.4 83.7L653.6 475.2Z" fill="url(#b112)"/>
<path d="M653.7 475.2L369.3 82.1A478.5 514.3 0 0 0 363.4 87.1L653.5 475.3Z" fill="url(#b113)"/>
<path d="M653.6 475.3L365.4 85.4A478.5 514.3 0 0 0 359.5 90.5L653.4 475.4Z" fill="url(#b114)"/>
<path d="M653.4 475.4L361.5 88.8A478.5 514.3 0 0 0 355.7 93.9L653.2 475.5Z" fill="url(#b115)"/>
<path d="M653.3 475.5L357.6 92.2A478.5 514.3 0 0 0 351.9 97.4L653.1 475.7Z" fill="url(#b116)"/>
<path d="M653.2 475.6L353.8 95.6A478.5 514.3 0 0 0 348.1 100.9L653 475.8Z" fill="url(#b117)"/>
<path d="M653.1 475.7L350 99.1A478.5 514.3 0 0 0 344.3 104.5L652.9 475.9Z" fill="url(#b118)"/>
<path d="M652.9 475.8L346.2 102.7A478.5 514.3 0 0 0 340.6 108.1L652.8 476Z" fill="url(#b119)"/>
<path d="M652.8 475.9L342.5 106.3A478.5 514.3 0 0 0 336.9 111.7L652.7 476.1Z" fill="url(#b120)"/>
<path d="M652.7 476.1L338.8 109.9A478.5 514.3 0 0 0 333.3 115.4L652.5 476.2Z" fill="url(#b121)"/>
<path d="M652.6 476.2L335.1 113.5A478.5 514.3 0 0 0 329.7 119.1L652.4 476.4Z" fill="url(#b122)"/>
<path d="M652.5 476.3L331.5 117.2A478.5 514.3 0 0 0 326.1 122.9L652.3 476.5Z" fill="url(#b123)"/>
<path d="M652.4 476.4L327.9 121A478.5 514.3 0 0 0 322.6 126.7L652.2 476.6Z" fill="url(#b124)"/>
<path d="M652.3 476.5L324.3 124.8A478.5 514.3 0 0 0 319.1 130.5L652.1 476.7Z" fill="url(#b125)"/>
<path d="M652.1 476.7L320.8 128.6A478.5 514.3 0 0 0 315.6 134.4L652 476.8Z" fill="url(#b126)"/>
<path d="M652 476.8L317.4 132.5A478.5 514.3 0 0 0 312.2 138.3L651.9 477Z" fill="url(#b127)"/>
<path d="M651.9 476.9L313.9 136.4A478.5 514.3 0 0 0 308.8 142.3L651.8 477.1Z" fill="url(#b128)"/>
<path d="M651.8 477L310.5 140.3A478.5 514.3 0 0 0 305.5 146.3L651.7 477.2Z" fill="url(#b129)"/>
<path d="M651.7 477.2L307.1 144.3A478.5 514.3 0 0 0 302.2 150.3L651.5 477.3Z" fill="url(#b130)"/>
<path d="M651.6 477.3L303.8 148.3A478.5 514.3 0 0 0 298.9 154.4L651.4 477.5Z" fill="url(#b131)"/>
<path d="M651.5 477.4L300.5 152.4A478.5 514.3 0 0 0 295.7 158.5L651.3 477.6Z" fill="url(#b132)"/>
<path d="M651.4 477.5L297.3 156.5A478.5 514.3 0 0 0 292.5 162.7L651.2 477.7Z" fill="url(#b133)"/>
<path d="M651.3 477.7L294.1 160.6A478.5 514.3 0 0 0 289.3 166.9L651.1 477.9Z" fill="url(#b134)"/>
<path d="M651.2 477.8L290.9 164.8A478.5 514.3 0 0 0 286.2 171.1L651 478Z" fill="url(#b135)"/>
<path d="M651.1 477.9L287.8 169A478.5 514.3 0 0 0 283.2 175.3L650.9 478.1Z" fill="url(#b136)"/>
<path d="M651 478.1L284.7 173.2A478.5 514.3 0 0 0 280.1 179.6L650.8 478.3Z" fill="url(#b137)"/>
<path d="M650.9 478.2L281.7 177.5A478.5 514.3 0 0 0 277.2 183.9L650.8 478.4Z" fill="url(#b138)"/>
<path d="M650.8 478.3L278.7 181.8A478.5 514.3 0 0 0 274.2 188.3L650.7 478.6Z" fill="url(#b139)"/>
<path d="M650.7 478.5L275.7 186.1A478.5 514.3 0 0 0 271.3 192.7L650.6 478.7Z" fill="url(#b140)"/>
<path d="M650.6 478.6L272.8 190.5A478.5 514.3 0 0 0 268.5 197.1L650.5 478.8Z" fill="url(#b141)"/>
<path d="M650.5 478.8L269.9 194.9A478.5 514.3 0 0 0 265.7 201.5L650.4 479Z" fill="url(#b142)"/>
<path d="M650.4 478.9L267.1 199.3A478.5 514.3 0 0 0 262.9 206L650.3 479.1Z" fill="url(#b143)"/>
<path d="M650.3 479L264.3 203.8A478.5 514.3 0 0 0 260.2 210.5L650.2 479.3Z" fill="url(#b144)"/>
<path d="M650.3 479.2L261.5 208.3A478.5 514.3 0 0 0 257.5 215.1L650.1 479.4Z" fill="url(#b145)"/>
<path d="M650.2 479.3L258.8 212.8A478.5 514.3 0 0 0 254.9 219.6L650 479.5Z" fill="url(#b146)"/>
<path d="M650.1 479.5L256.2 217.4A478.5 514.3 0 0 0 252.3 224.3L650 479.7Z" fill="url(#b147)"/>
<path d="M650 479.6L253.6 221.9A478.5 514.3 0 0 0 249.7 228.9L649.9 479.8Z" fill="url(#b148)"/>
<path d="M649.9 479.8L251 226.6A478.5 514.3 0 0 0 247.2 233.5L649.8 480Z" fill="url(#b149)"/>
<path d="M649.8 479.9L248.5 231.2A478.5 514.3 0 0 0 244.8 238.2L649.7 480.1Z" fill="url(#b150)"/>
<path d="M649.8 480.1L246 235.9A478.5 514.3 0 0 0 242.4 242.9L649.6 480.3Z" fill="url(#b151)"/>
<path d="M649.7 480.2L243.6 240.6A478.5 514.3 0 0 0 240 247.7L649.6 480.4Z" fill="url(#b152)"/>
<path d="M649.6 480.4L241.2 245.3A478.5 514.3 0 0 0 237.7 252.5L649.5 480.6Z" fill="url(#b153)"/>
<path d="M649.5 480.5L238.8 250.1A478.5 514.3 0 0 0 235.4 257.2L649.4 480.7Z" fill="url(#b154)"/>
<path d="M649.5 480.7L236.5 254.8A478.5 514.3 0 0 0 233.2 262.1L649.4 480.9Z" fill="url(#b155)"/>
<path d="M649.4 480.8L234.3 259.6A478.5 514.3 0 0 0 231 266.9L649.3 481.1Z" fill="url(#b156)"/>
<path d="M649.3 481L232.1 264.5A478.5 514.3 0 0 0 228.9 271.8L649.2 481.2Z" fill="url(#b157)"/>
<path d="M649.2 481.1L229.9 269.3A478.5 514.3 0 0 0 226.8 276.7L649.1 481.4Z" fill="url(#b158)"/>
<path d="M649.2 481.3L227.8 274.2A478.5 514.3 0 0 0 224.8 281.6L649.1 481.5Z" fill="url(#b159)"/>
<path d="M649.1 481.4L225.8 279.1A478.5 514.3 0 0 0 222.8 286.5L649 481.7Z" fill="url(#b160)"/>
<path d="M649.1 481.6L223.8 284A478.5 514.3 0 0 0 220.8 291.5L649 481.8Z" fill="url(#b161)"/>
<path d="M649 481.8L221.8 289A478.5 514.3 0 0 0 219 296.5L648.9 482Z" fill="url(#b162)"/>
<path d="M648.9 481.9L219.9 294A478.5 514.3 0 0 0 217.1 301.5L648.8 482.1Z" fill="url(#b163)"/>
<path d="M648.9 482.1L218 298.9A478.5 514.3 0 0 0 215.3 306.5L648.8 482.3Z" fill="url(#b164)"/>
<path d="M648.8 482.2L216.2 304A478.5 514.3 0 0 0 213.6 311.5L648.7 482.5Z" fill="url(#b165)"/>
<path d="M648.8 482.4L214.5 309A478.5 514.3 0 0 0 211.9 316.6L648.7 482.6Z" fill="url(#b166)"/>
<path d="M648.7 482.5L212.7 314A478.5 514.3 0 0 0 210.2 321.7L648.6 482.8Z" fill="url(#b167)"/>
<path d="M648.6 482.7L211.1 319.1A478.5 514.3 0 0 0 208.7 326.8L648.6 483Z" fill="url(#b168)"/>
<path d="M648.6 482.9L209.4 324.2A478.5 514.3 0 0 0 207.1 331.9L648.5 483.1Z" fill="url(#b169)"/>
<path d="M648.5 483L207.9 329.3A478.5 514.3 0 0 0 205.6 337L648.5 483.3Z" fill="url(#b170)"/>
<path d="M648.5 483.2L206.4 334.4A478.5 514.3 0 0 0 204.2 342.2L648.4 483.4Z" fill="url(#b171)"/>
<path d="M648.5 483.4L204.9 339.6A478.5 514.3 0 0 0 202.8 347.3L648.4 483.6Z" fill="url(#b172)"/>
<path d="M648.4 483.5L203.5 344.7A478.5 514.3 0 0 0 201.4 352.5L648.3 483.8Z" fill="url(#b173)"/>
<path d="M648.4 483.7L202.1 349.9A478.5 514.3 0 0 0 200.1 357.7L648.3 483.9Z" fill="url(#b174)"/>
<path d="M648.3 483.9L200.8 355.1A478.5 514.3 0 0 0 198.9 362.9L648.3 484.1Z" fill="url(#b175)"/>
<path d="M648.3 484L199.5 360.3A478.5 514.3 0 0 0 197.7 368.1L648.2 484.3Z" fill="url(#b176)"/>
<path d="M648.2 484.2L198.3 365.5A478.5 514.3 0 0 0 196.6 373.4L648.2 484.4Z" fill="url(#b177)"/>
<path d="M648.2 484.4L197.1 370.7A478.5 514.3 0 0 0 195.5 378.6L648.2 484.6Z" fill="url(#b178)"/>
<path d="M648.2 484.5L196 376A478.5 514.3 0 0 0 194.4 383.9L648.1 484.8Z" fill="url(#b179)"/>
<path d="M648.1 484.7L194.9 381.2A478.5 514.3 0 0 0 193.4 389.1L648.1 484.9Z" fill="url(#b180)"/>
<path d="M648.1 484.9L193.9 386.5A478.5 514.3 0 0 0 192.5 394.4L648.1 485.1Z" fill="url(#b181)"/>
<path d="M648.1 485L193 391.8A478.5 514.3 0 0 0 191.6 399.7L648 485.3Z" fill="url(#b182)"/>
<path d="M648 485.2L192 397.1A478.5 514.3 0 0 0 190.8 405L648 485.4Z" fill="url(#b183)"/>
<path d="M648 485.4L191.2 402.4A478.5 514.3 0 0 0 190 410.3L648 485.6Z" fill="url(#b184)"/>
<path d="M648 485.5L190.4 407.7A478.5 514.3 0 0 0 189.3 415.7L648 485.8Z" fill="url(#b185)"/>
<path d="M648 485.7L189.6 413A478.5 514.3 0 0 0 188.6 421L647.9 486Z" fill="url(#b186)"/>
<path d="M647.9 485.9L188.9 418.3A478.5 514.3 0 0 0 188 426.3L647.9 486.1Z" fill="url(#b187)"/>
<path d="M647.9 486L188.3 423.6A478.5 514.3 0 0 0 187.4 431.7L647.9 486.3Z" fill="url(#b188)"/>
<path d="M647.9 486.2L187.7 429A478.5 514.3 0 0 0 186.9 437L647.9 486.5Z" fill="url(#b189)"/>
<ellipse cx="307.3" cy="321.5" rx="3.2" ry="1.4" transform="rotate(-154.9 307.3 321.5)" fill="#f5a886"/>
<ellipse cx="418.4" cy="301.1" rx="1.8" ry="1.4" transform="rotate(-142.6 418.4 301.1)" fill="#f2a17f"/>
<ellipse cx="412.5" cy="308.3" rx="3.2" ry="1.4" transform="rotate(-144.3 412.5 308.3)" fill="#fae9df"/>
<ellipse cx="333.4" cy="275.1" rx="2.6" ry="1.4" transform="rotate(-147.1 333.4 275.1)" fill="#fbe5d8"/>
<ellipse cx="322.1" cy="251.9" rx="1.8" ry="1.4" transform="rotate(-145.3 322.1 251.9)" fill="#faeae1"/>
<ellipse cx="277.7" cy="215.5" rx="1.8" ry="1.4" transform="rotate(-144.7 277.7 215.5)" fill="#f9ede5"/>
<ellipse cx="431.6" cy="404.6" rx="1.8" ry="1.4" transform="rotate(-160.2 431.6 404.6)" fill="#f19e7d"/>
<ellipse cx="274.4" cy="223.4" rx="2.6" ry="1.4" transform="rotate(-145.7 274.4 223.4)" fill="#f9f0eb"/>
<ellipse cx="431.8" cy="344.5" rx="1.5" ry="1.4" transform="rotate(-148.2 431.8 344.5)" fill="#fbe4d6"/>
<ellipse cx="303.9" cy="271" rx="2.2" ry="1.4" transform="rotate(-148.8 303.9 271)" fill="#faeae1"/>
<ellipse cx="445" cy="326" rx="1.8" ry="1.4" transform="rotate(-143.4 445 326)" fill="#f9ebe3"/>
<ellipse cx="326" cy="308.5" rx="1.5" ry="1.4" transform="rotate(-151.9 326 308.5)" fill="#f9f0eb"/>
<ellipse cx="408.8" cy="404.5" rx="2.6" ry="1.4" transform="rotate(-161.8 408.8 404.5)" fill="#fae9df"/>
<ellipse cx="368.2" cy="314.8" rx="1.8" ry="1.4" transform="rotate(-149.6 368.2 314.8)" fill="#fbe3d4"/>
<ellipse cx="245.3" cy="292.7" rx="2.6" ry="1.4" transform="rotate(-154.9 245.3 292.7)" fill="#fbe5d8"/>
<ellipse cx="431.5" cy="349.5" rx="1.5" ry="1.4" transform="rotate(-149.1 431.5 349.5)" fill="#f9ede5"/>
<ellipse cx="297.8" cy="311.6" rx="2.6" ry="1.4" transform="rotate(-154.2 297.8 311.6)" fill="#fbe6da"/>
<ellipse cx="489.8" cy="430.9" rx="1.8" ry="1.4" transform="rotate(-161.7 489.8 430.9)" fill="#faeae1"/>
<ellipse cx="273.7" cy="254.3" rx="2.2" ry="1.4" transform="rotate(-149 273.7 254.3)" fill="#fbe6da"/>
<ellipse cx="310.9" cy="270.7" rx="2.2" ry="1.4" transform="rotate(-148.3 310.9 270.7)" fill="#f9ede5"/>
<ellipse cx="467.4" cy="427.6" rx="3.2" ry="1.4" transform="rotate(-162.8 467.4 427.6)" fill="#f9f0eb"/>
<ellipse cx="508.3" cy="435.6" rx="2.2" ry="1.4" transform="rotate(-161.3 508.3 435.6)" fill="#ef9979"/>
<ellipse cx="407.7" cy="349" rx="1.5" ry="1.4" transform="rotate(-151.4 407.7 349)" fill="#f9efe9"/>
<ellipse cx="420.1" cy="393.3" rx="3.2" ry="1.4" transform="rotate(-158.7 420.1 393.3)" fill="#f9f0eb"/>
<ellipse cx="325.9" cy="377.3" rx="2.6" ry="1.4" transform="rotate(-161.8 325.9 377.3)" fill="#ec9374"/>
<ellipse cx="512.9" cy="400.4" rx="3.2" ry="1.4" transform="rotate(-149.7 512.9 400.4)" fill="#fbe4d6"/>
<ellipse cx="225.7" cy="326.7" rx="2.2" ry="1.4" transform="rotate(-159.7 225.7 326.7)" fill="#fae9df"/>
<ellipse cx="443.9" cy="371.1" rx="2.6" ry="1.4" transform="rotate(-151.9 443.9 371.1)" fill="#fbe4d6"/>
<ellipse cx="360.3" cy="372.5" rx="2.2" ry="1.4" transform="rotate(-159.1 360.3 372.5)" fill="#f9efe9"/>
<ellipse cx="402.5" cy="310.4" rx="3.2" ry="1.4" transform="rotate(-145.7 402.5 310.4)" fill="#fae9df"/>
<ellipse cx="310.6" cy="280.1" rx="1.5" ry="1.4" transform="rotate(-149.5 310.6 280.1)" fill="#f3a481"/>
<ellipse cx="412.8" cy="385.9" rx="2.6" ry="1.4" transform="rotate(-157.8 412.8 385.9)" fill="#fbe6da"/>
<ellipse cx="264" cy="233.5" rx="2.2" ry="1.4" transform="rotate(-147.5 264 233.5)" fill="#f9f0eb"/>
<ellipse cx="353" cy="346.6" rx="2.2" ry="1.4" transform="rotate(-155.5 353 346.6)" fill="#fae9df"/>
<ellipse cx="454.8" cy="361.6" rx="2.2" ry="1.4" transform="rotate(-148.7 454.8 361.6)" fill="#fae9df"/>
<ellipse cx="351" cy="301.9" rx="2.2" ry="1.4" transform="rotate(-149.2 351 301.9)" fill="#f4a683"/>
<ellipse cx="465.7" cy="421" rx="2.2" ry="1.4" transform="rotate(-161.2 465.7 421)" fill="#f09c7b"/>
<ellipse cx="359.8" cy="389.3" rx="2.2" ry="1.4" transform="rotate(-162 359.8 389.3)" fill="#fbe4d6"/>
<ellipse cx="372.8" cy="391.2" rx="2.6" ry="1.4" transform="rotate(-161.5 372.8 391.2)" fill="#f9ede5"/>
<ellipse cx="325.7" cy="256.6" rx="2.6" ry="1.4" transform="rotate(-145.5 325.7 256.6)" fill="#f9ebe3"/>
<ellipse cx="378.8" cy="312.1" rx="1.5" ry="1.4" transform="rotate(-148.2 378.8 312.1)" fill="#ee9677"/>
<ellipse cx="376.1" cy="294.8" rx="1.8" ry="1.4" transform="rotate(-146 376.1 294.8)" fill="#fbe5d8"/>
<ellipse cx="511.1" cy="417.5" rx="1.5" ry="1.4" transform="rotate(-155.1 511.1 417.5)" fill="#fbe5d8"/>
<ellipse cx="484.9" cy="425.3" rx="3.2" ry="1.4" transform="rotate(-160.6 484.9 425.3)" fill="#f19e7d"/>
<ellipse cx="418.1" cy="301.8" rx="3.2" ry="1.4" transform="rotate(-142.7 418.1 301.8)" fill="#faeae1"/>
<ellipse cx="340.1" cy="272" rx="2.2" ry="1.4" transform="rotate(-146.2 340.1 272)" fill="#fae7dc"/>
<ellipse cx="258.4" cy="339.4" rx="1.5" ry="1.4" transform="rotate(-159.8 258.4 339.4)" fill="#fae9df"/>
<ellipse cx="438.3" cy="375.5" rx="3.2" ry="1.4" transform="rotate(-153.4 438.3 375.5)" fill="#fae9df"/>
<ellipse cx="434.7" cy="345.7" rx="3.2" ry="1.4" transform="rotate(-148 434.7 345.7)" fill="#fae8de"/>
<ellipse cx="415.1" cy="374.2" rx="3.2" ry="1.4" transform="rotate(-155.3 415.1 374.2)" fill="#faeae1"/>
<ellipse cx="470.1" cy="384.9" rx="1.5" ry="1.4" transform="rotate(-151.9 470.1 384.9)" fill="#fbe3d4"/>
<ellipse cx="437.9" cy="357.5" rx="2.2" ry="1.4" transform="rotate(-149.9 437.9 357.5)" fill="#f19e7d"/>
<ellipse cx="263.4" cy="302.1" rx="1.8" ry="1.4" transform="rotate(-155 263.4 302.1)" fill="#fae8de"/>
<ellipse cx="389.5" cy="343.9" rx="1.8" ry="1.4" transform="rotate(-152.2 389.5 343.9)" fill="#fae7dc"/>
<ellipse cx="448.7" cy="385.1" rx="2.6" ry="1.4" transform="rotate(-154.3 448.7 385.1)" fill="#f19e7d"/>
<ellipse cx="295" cy="204.9" rx="1.8" ry="1.4" transform="rotate(-142.4 295 204.9)" fill="#f9efe9"/>
<ellipse cx="492.1" cy="396.7" rx="2.2" ry="1.4" transform="rotate(-151.9 492.1 396.7)" fill="#fae8de"/>
<ellipse cx="503.2" cy="366.9" rx="3.2" ry="1.4" transform="rotate(-142.8 503.2 366.9)" fill="#fae8de"/>
<ellipse cx="275.8" cy="242.7" rx="2.2" ry="1.4" transform="rotate(-147.6 275.8 242.7)" fill="#ee9677"/>
<ellipse cx="302.5" cy="353.8" rx="2.6" ry="1.4" transform="rotate(-159.6 302.5 353.8)" fill="#fae9df"/>
<ellipse cx="278.3" cy="289.7" rx="1.5" ry="1.4" transform="rotate(-152.7 278.3 289.7)" fill="#f5a886"/>
<ellipse cx="431.4" cy="393.6" rx="2.2" ry="1.4" transform="rotate(-157.8 431.4 393.6)" fill="#fae7dc"/>
<ellipse cx="513.4" cy="425.2" rx="3.2" ry="1.4" transform="rotate(-157.2 513.4 425.2)" fill="#f9ebe3"/>
<ellipse cx="535.1" cy="397.6" rx="1.5" ry="1.4" transform="rotate(-144.7 535.1 397.6)" fill="#f9ebe3"/>
<ellipse cx="353.8" cy="378.6" rx="2.6" ry="1.4" transform="rotate(-160.5 353.8 378.6)" fill="#f9ede5"/>
<ellipse cx="324.2" cy="325.2" rx="2.6" ry="1.4" transform="rotate(-154.3 324.2 325.2)" fill="#f2a17f"/>
<ellipse cx="332.7" cy="311.2" rx="2.6" ry="1.4" transform="rotate(-151.8 332.7 311.2)" fill="#f9efe9"/>
<ellipse cx="499.7" cy="426.3" rx="2.6" ry="1.4" transform="rotate(-159.3 499.7 426.3)" fill="#f3a481"/>
<ellipse cx="336.6" cy="329.3" rx="1.8" ry="1.4" transform="rotate(-154.1 336.6 329.3)" fill="#fbe6da"/>
<ellipse cx="370.4" cy="331.8" rx="1.8" ry="1.4" transform="rotate(-151.9 370.4 331.8)" fill="#fae7dc"/>
<ellipse cx="375.3" cy="327.2" rx="2.2" ry="1.4" transform="rotate(-150.8 375.3 327.2)" fill="#f9ede5"/>
<ellipse cx="282.6" cy="342.4" rx="2.6" ry="1.4" transform="rotate(-159.1 282.6 342.4)" fill="#fbe3d4"/>
<ellipse cx="212.6" cy="345.4" rx="1.5" ry="1.4" transform="rotate(-162.4 212.6 345.4)" fill="#fbe3d4"/>
<ellipse cx="358.6" cy="286.7" rx="1.8" ry="1.4" transform="rotate(-146.5 358.6 286.7)" fill="#f3a481"/>
<ellipse cx="301.3" cy="375.7" rx="1.8" ry="1.4" transform="rotate(-162.7 301.3 375.7)" fill="#fbe5d8"/>
<ellipse cx="483" cy="386.4" rx="1.5" ry="1.4" transform="rotate(-150.5 483 386.4)" fill="#fbe3d4"/>
<ellipse cx="304.2" cy="326" rx="1.5" ry="1.4" transform="rotate(-155.7 304.2 326)" fill="#faeae1"/>
<ellipse cx="260.7" cy="320.8" rx="2.2" ry="1.4" transform="rotate(-157.4 260.7 320.8)" fill="#fae8de"/>
<ellipse cx="378.2" cy="362.6" rx="1.5" ry="1.4" transform="rotate(-156.2 378.2 362.6)" fill="#f9ebe3"/>
<ellipse cx="457.4" cy="343.3" rx="2.2" ry="1.4" transform="rotate(-144.8 457.4 343.3)" fill="#f9ebe3"/>
<ellipse cx="350.2" cy="380.2" rx="3.2" ry="1.4" transform="rotate(-161 350.2 380.2)" fill="#fbe6da"/>
<ellipse cx="306.8" cy="255.4" rx="1.8" ry="1.4" transform="rotate(-146.9 306.8 255.4)" fill="#f9f0eb"/>
<ellipse cx="382.4" cy="385.8" rx="1.5" ry="1.4" transform="rotate(-160 382.4 385.8)" fill="#fbe4d6"/>
<ellipse cx="497.9" cy="413.1" rx="1.5" ry="1.4" transform="rotate(-155.6 497.9 413.1)" fill="#fbe3d4"/>
<ellipse cx="396.4" cy="349.1" rx="2.2" ry="1.4" transform="rotate(-152.5 396.4 349.1)" fill="#fae8de"/>
<ellipse cx="396.5" cy="296" rx="1.8" ry="1.4" transform="rotate(-144.2 396.5 296)" fill="#fae7dc"/>
<ellipse cx="387.1" cy="396.8" rx="1.5" ry="1.4" transform="rotate(-161.7 387.1 396.8)" fill="#f3a481"/>
<ellipse cx="314.5" cy="376.8" rx="3.2" ry="1.4" transform="rotate(-162.3 314.5 376.8)" fill="#ec9374"/>
<ellipse cx="295.7" cy="273.9" rx="2.2" ry="1.4" transform="rotate(-149.8 295.7 273.9)" fill="#f9efe9"/>
<ellipse cx="407.2" cy="387.6" rx="2.2" ry="1.4" transform="rotate(-158.6 407.2 387.6)" fill="#ef9979"/>
<ellipse cx="390.4" cy="382" rx="3.2" ry="1.4" transform="rotate(-158.7 390.4 382)" fill="#f19e7d"/>
<ellipse cx="451.2" cy="422.2" rx="1.5" ry="1.4" transform="rotate(-162.7 451.2 422.2)" fill="#fbe3d4"/>
<ellipse cx="486.4" cy="353.5" rx="2.6" ry="1.4" transform="rotate(-142.7 486.4 353.5)" fill="#f9efe9"/>
<ellipse cx="420.6" cy="378.7" rx="3.2" ry="1.4" transform="rotate(-155.7 420.6 378.7)" fill="#fbe6da"/>
<ellipse cx="420" cy="405.4" rx="1.8" ry="1.4" transform="rotate(-161.2 420 405.4)" fill="#fbe5d8"/>
<ellipse cx="310.2" cy="226.8" rx="3.2" ry="1.4" transform="rotate(-143.5 310.2 226.8)" fill="#f09c7b"/>
<ellipse cx="456.8" cy="355.4" rx="1.8" ry="1.4" transform="rotate(-147.2 456.8 355.4)" fill="#fbe6da"/>
<ellipse cx="306.4" cy="216.4" rx="2.2" ry="1.4" transform="rotate(-142.7 306.4 216.4)" fill="#f9ede5"/>
<ellipse cx="308.9" cy="370" rx="1.8" ry="1.4" transform="rotate(-161.6 308.9 370)" fill="#fae8de"/>
<ellipse cx="359.4" cy="271" rx="1.8" ry="1.4" transform="rotate(-144.4 359.4 271)" fill="#f9ebe3"/>
<ellipse cx="353.5" cy="252.3" rx="3.2" ry="1.4" transform="rotate(-142.7 353.5 252.3)" fill="#f9ebe3"/>
<ellipse cx="255.3" cy="255.3" rx="2.6" ry="1.4" transform="rotate(-150.3 255.3 255.3)" fill="#fbe6da"/>
<ellipse cx="511" cy="398.4" rx="1.8" ry="1.4" transform="rotate(-149.5 511 398.4)" fill="#f09c7b"/>
<ellipse cx="478.7" cy="361.9" rx="2.2" ry="1.4" transform="rotate(-145.6 478.7 361.9)" fill="#faeae1"/>
<ellipse cx="524" cy="380.1" rx="1.5" ry="1.4" transform="rotate(-142.1 524 380.1)" fill="#f09c7b"/>
<ellipse cx="322.2" cy="228.4" rx="1.5" ry="1.4" transform="rotate(-142.7 322.2 228.4)" fill="#f19e7d"/>
<ellipse cx="451.6" cy="397.8" rx="2.6" ry="1.4" transform="rotate(-156.9 451.6 397.8)" fill="#ec9374"/>
<ellipse cx="474.8" cy="346.8" rx="1.5" ry="1.4" transform="rotate(-143.1 474.8 346.8)" fill="#fae7dc"/>
<ellipse cx="321.5" cy="230.7" rx="1.5" ry="1.4" transform="rotate(-143 321.5 230.7)" fill="#faeae1"/>
<ellipse cx="458.4" cy="420.9" rx="1.8" ry="1.4" transform="rotate(-161.8 458.4 420.9)" fill="#faeae1"/>
<circle cx="307.4" cy="443.1" r="3.0" fill="#c5dfec"/>
<circle cx="205.7" cy="413.8" r="3.0" fill="#f8f4f2"/>
<circle cx="268.2" cy="423.9" r="3.0" fill="#7f0823"/>
<circle cx="205" cy="419.2" r="3.0" fill="#529dc8"/>
<circle cx="464.4" cy="466.2" r="3.0" fill="#deebf2"/>
<circle cx="239.5" cy="439.6" r="3.0" fill="#dd7059"/>
<circle cx="267.5" cy="433.3" r="3.0" fill="#cc4c44"/>
<circle cx="326.5" cy="437.5" r="3.0" fill="#67001f"/>
<circle cx="272.8" cy="443.4" r="3.0" fill="#c6413e"/>
<circle cx="227.7" cy="417.3" r="3.0" fill="#790622"/>
<circle cx="218.8" cy="431.9" r="3.0" fill="#810823"/>
<circle cx="279.2" cy="425.7" r="3.0" fill="#90c4dd"/>
<circle cx="300.7" cy="433.6" r="3.0" fill="#700320"/>
<circle cx="308.1" cy="439" r="3.0" fill="#08366a"/>
<circle cx="249.8" cy="420.9" r="3.0" fill="#f7b799"/>
<circle cx="289" cy="440.8" r="3.0" fill="#e17860"/>
<circle cx="278.6" cy="430.3" r="3.0" fill="#c13639"/>
<circle cx="417.6" cy="458.6" r="3.0" fill="#bbdaea"/>
<circle cx="234.3" cy="428.7" r="3.0" fill="#d35a4a"/>
<circle cx="276.5" cy="443.8" r="3.0" fill="#dbeaf2"/>
<circle cx="223.3" cy="427.2" r="3.0" fill="#fcd5bf"/>
<circle cx="302.4" cy="446.8" r="3.0" fill="#134c87"/>
<circle cx="287.6" cy="445.1" r="3.0" fill="#870a24"/>
<circle cx="238.1" cy="424.2" r="3.0" fill="#de735c"/>
<circle cx="319.7" cy="432.3" r="3.0" fill="#6d0220"/>
<circle cx="300.1" cy="442.2" r="3.0" fill="#134c87"/>
<circle cx="200.3" cy="429.6" r="3.0" fill="#810823"/>
<circle cx="222.5" cy="432.4" r="3.0" fill="#6a011f"/>
<circle cx="238.8" cy="419.1" r="3.0" fill="#760521"/>
<circle cx="269.1" cy="443" r="3.0" fill="#870a24"/>
<circle cx="297.1" cy="437.4" r="3.0" fill="#185493"/>
<circle cx="190.9" cy="411.4" r="3.0" fill="#e27b62"/>
<circle cx="189.2" cy="428.2" r="3.0" fill="#700320"/>
<circle cx="243.2" cy="440" r="3.0" fill="#c2383a"/>
<circle cx="201.3" cy="418.6" r="3.0" fill="#730421"/>
<circle cx="511.2" cy="468.5" r="3.0" fill="#7f0823"/>
<circle cx="190.2" cy="416.9" r="3.0" fill="#700320"/>
<circle cx="278.6" cy="434.9" r="3.0" fill="#1a5899"/>
<circle cx="282.3" cy="430.8" r="3.0" fill="#7f0823"/>
<circle cx="212.3" cy="420.3" r="3.0" fill="#6d0220"/>
<circle cx="309.8" cy="447.7" r="3.0" fill="#e27b62"/>
<circle cx="192.9" cy="428.6" r="3.0" fill="#730421"/>
<circle cx="207.7" cy="430.5" r="3.0" fill="#67001f"/>
<circle cx="235.8" cy="439.2" r="3.0" fill="#d5e7f1"/>
<circle cx="319.2" cy="436.3" r="3.0" fill="#0e4179"/>
<circle cx="504" cy="469" r="3.0" fill="#760521"/>
<circle cx="271.9" cy="424.5" r="3.0" fill="#810823"/>
<circle cx="193.9" cy="417.5" r="3.0" fill="#0a3b70"/>
<circle cx="446.4" cy="463.7" r="3.0" fill="#730421"/>
<circle cx="215.1" cy="431.5" r="3.0" fill="#dae9f2"/>
<circle cx="241.7" cy="429.8" r="3.0" fill="#b61f2e"/>
<circle cx="216.7" cy="415.5" r="3.0" fill="#870a24"/>
<circle cx="261.7" cy="442.1" r="3.0" fill="#790622"/>
<circle cx="514.8" cy="468.3" r="3.0" fill="#7eb8d7"/>
<circle cx="260.2" cy="427.5" r="3.0" fill="#10457e"/>
<circle cx="320.9" cy="448.9" r="3.0" fill="#7c0722"/>
<circle cx="450" cy="464.3" r="3.0" fill="#ec9374"/>
<circle cx="220.4" cy="416.1" r="3.0" fill="#0e4179"/>
<circle cx="314.8" cy="444.1" r="3.0" fill="#840924"/>
<circle cx="195.1" cy="434.5" r="3.0" fill="#e0ecf3"/>
<circle cx="414" cy="457.9" r="3.0" fill="#7f0823"/>
<circle cx="298.7" cy="446.4" r="3.0" fill="#810823"/>
<circle cx="275.5" cy="425.1" r="3.0" fill="#870a24"/>
<circle cx="293.4" cy="436.9" r="3.0" fill="#f7b596"/>
<circle cx="312.3" cy="431.1" r="3.0" fill="#810823"/>
<circle cx="212.2" cy="425.7" r="3.0" fill="#0c3d73"/>
<circle cx="197.4" cy="423.6" r="3.0" fill="#f7b799"/>
<circle cx="253.5" cy="421.5" r="3.0" fill="#870a24"/>
<circle cx="256.5" cy="426.9" r="3.0" fill="#840924"/>
<circle cx="291.3" cy="445.5" r="3.0" fill="#195696"/>
<circle cx="313.5" cy="448.1" r="3.0" fill="#7f0823"/>
<circle cx="296.4" cy="441.7" r="3.0" fill="#4393c3"/>
<circle cx="255.7" cy="436.6" r="3.0" fill="#760521"/>
<circle cx="216" cy="420.8" r="3.0" fill="#eaf1f5"/>
<circle cx="204.8" cy="424.7" r="3.0" fill="#1e61a5"/>
<circle cx="286.6" cy="426.9" r="3.0" fill="#870a24"/>
<circle cx="246.1" cy="420.3" r="3.0" fill="#f7b99c"/>
<circle cx="263.9" cy="428" r="3.0" fill="#6a011f"/>
<circle cx="245.5" cy="425.3" r="3.0" fill="#09386d"/>
<circle cx="240.9" cy="434.7" r="3.0" fill="#d55d4c"/>
<circle cx="322.9" cy="441" r="3.0" fill="#4c99c6"/>
<circle cx="263.1" cy="437.5" r="3.0" fill="#700320"/>
<circle cx="403.2" cy="455.9" r="3.0" fill="#f9c2a7"/>
<circle cx="238" cy="429.3" r="3.0" fill="#790622"/>
<circle cx="471.6" cy="467.3" r="3.0" fill="#6a011f"/>
<circle cx="324.6" cy="449.3" r="3.0" fill="#730421"/>
<circle cx="217.3" cy="437.1" r="3.0" fill="#c2ddec"/>
<circle cx="198.8" cy="434.9" r="3.0" fill="#810823"/>
<circle cx="317.2" cy="448.5" r="3.0" fill="#6d0220"/>
<circle cx="319.2" cy="440.5" r="3.0" fill="#810823"/>
<circle cx="308.6" cy="430.5" r="3.0" fill="#6a011f"/>
<circle cx="226.2" cy="432.9" r="3.0" fill="#67001f"/>
<circle cx="265.4" cy="442.6" r="3.0" fill="#d25849"/>
<circle cx="293.9" cy="428.1" r="3.0" fill="#db6b55"/>
<circle cx="224" cy="416.7" r="3.0" fill="#ba2832"/>
<circle cx="258" cy="441.7" r="3.0" fill="#d05548"/>
<circle cx="249.1" cy="430.8" r="3.0" fill="#4997c5"/>
<circle cx="496.8" cy="469.5" r="3.0" fill="#134c87"/>
<circle cx="525.6" cy="468.9" r="3.0" fill="#760521"/>
<circle cx="381.6" cy="450.3" r="3.0" fill="#f7f6f6"/>
<circle cx="196.6" cy="429.1" r="3.0" fill="#cc4c44"/>
<circle cx="281.6" cy="439.9" r="3.0" fill="#0d3f76"/>
<circle cx="213" cy="414.9" r="3.0" fill="#d2e6f0"/>
<circle cx="230.8" cy="423" r="3.0" fill="#760521"/>
<circle cx="187.7" cy="433.7" r="3.0" fill="#67001f"/>
<circle cx="209.9" cy="436.2" r="3.0" fill="#f7f6f6"/>
<circle cx="421.2" cy="459.2" r="3.0" fill="#700320"/>
<circle cx="264.5" cy="423.3" r="3.0" fill="#700320"/>
<circle cx="208.5" cy="425.2" r="3.0" fill="#d86551"/>
<circle cx="250.6" cy="440.9" r="3.0" fill="#1b5a9c"/>
<circle cx="322.9" cy="436.9" r="3.0" fill="#f8bfa4"/>
<circle cx="305" cy="429.9" r="3.0" fill="#f7f5f4"/>
<circle cx="322.2" cy="445" r="3.0" fill="#db6b55"/>
<circle cx="194.6" cy="412" r="3.0" fill="#760521"/>
<circle cx="202" cy="413.2" r="3.0" fill="#d35a4a"/>
<circle cx="327" cy="433.5" r="3.0" fill="#f19e7d"/>
<circle cx="260.2" cy="432.3" r="3.0" fill="#8ac0db"/>
<circle cx="388.8" cy="452.5" r="3.0" fill="#790622"/>
<circle cx="453.6" cy="464.8" r="3.0" fill="#7c0722"/>
<circle cx="229.9" cy="433.3" r="3.0" fill="#7bb6d6"/>
<circle cx="204" cy="430" r="3.0" fill="#144e8a"/>
<circle cx="532.8" cy="470.3" r="3.0" fill="#d1e5f0"/>
<circle cx="457.2" cy="465.3" r="3.0" fill="#053061"/>
<circle cx="215.9" cy="426.2" r="3.0" fill="#c7e0ed"/>
<circle cx="275" cy="429.7" r="3.0" fill="#810823"/>
<circle cx="323.4" cy="432.9" r="3.0" fill="#f7f6f6"/>
<circle cx="297.1" cy="433" r="3.0" fill="#1b5a9c"/>
<circle cx="252.8" cy="431.3" r="3.0" fill="#7f0823"/>
<circle cx="201.1" cy="424.1" r="3.0" fill="#ecf2f5"/>
<circle cx="224.7" cy="437.9" r="3.0" fill="#840924"/>
<circle cx="315.5" cy="435.8" r="3.0" fill="#840924"/>
<circle cx="304.4" cy="438.4" r="3.0" fill="#810823"/>
<circle cx="266.8" cy="438" r="3.0" fill="#f8bb9e"/>
<circle cx="311.8" cy="439.5" r="3.0" fill="#790622"/>
<circle cx="242.4" cy="419.7" r="3.0" fill="#5fa5cd"/>
<circle cx="233.6" cy="433.8" r="3.0" fill="#67001f"/>
<circle cx="208.6" cy="419.7" r="3.0" fill="#870a24"/>
<circle cx="439.2" cy="462.2" r="3.0" fill="#810823"/>
<circle cx="292.7" cy="441.3" r="3.0" fill="#790622"/>
<circle cx="468" cy="466.8" r="3.0" fill="#f3a481"/>
<circle cx="271.2" cy="433.9" r="3.0" fill="#7f0823"/>
<circle cx="231.4" cy="417.9" r="3.0" fill="#6d0220"/>
<circle cx="325.9" cy="445.5" r="3.0" fill="#840924"/>
<circle cx="283.9" cy="444.7" r="3.0" fill="#790622"/>
<circle cx="385.2" cy="451.4" r="3.0" fill="#bf3338"/>
<circle cx="202.5" cy="435.4" r="3.0" fill="#810823"/>
<circle cx="295" cy="446" r="3.0" fill="#6a011f"/>
<circle cx="259.4" cy="437.1" r="3.0" fill="#f5f6f7"/>
<circle cx="300.8" cy="437.9" r="3.0" fill="#f3a481"/>
<circle cx="248.3" cy="435.7" r="3.0" fill="#f3a481"/>
<circle cx="277.9" cy="439.4" r="3.0" fill="#1e61a5"/>
<circle cx="285.3" cy="440.3" r="3.0" fill="#760521"/>
<circle cx="406.8" cy="456.5" r="3.0" fill="#de735c"/>
<circle cx="308.1" cy="434.7" r="3.0" fill="#730421"/>
<circle cx="286" cy="431.4" r="3.0" fill="#6d0220"/>
<circle cx="489.6" cy="469.8" r="3.0" fill="#063264"/>
<circle cx="432" cy="460.7" r="3.0" fill="#6d0220"/>
<circle cx="392.4" cy="453.5" r="3.0" fill="#730421"/>
<circle cx="263.9" cy="432.8" r="3.0" fill="#f8f1ed"/>
<circle cx="234.4" cy="423.6" r="3.0" fill="#134c87"/>
<circle cx="475.2" cy="467.9" r="3.0" fill="#790622"/>
<circle cx="507.6" cy="468.8" r="3.0" fill="#790622"/>
<circle cx="286" cy="435.9" r="3.0" fill="#f3a481"/>
<circle cx="326.6" cy="441.5" r="3.0" fill="#195696"/>
<circle cx="289.7" cy="431.9" r="3.0" fill="#de735c"/>
<circle cx="271.3" cy="429.1" r="3.0" fill="#7f0823"/>
<circle cx="290.3" cy="427.5" r="3.0" fill="#67001f"/>
<circle cx="206.2" cy="435.8" r="3.0" fill="#700320"/>
<circle cx="482.4" cy="469" r="3.0" fill="#6d0220"/>
<circle cx="209.3" cy="414.3" r="3.0" fill="#6a011f"/>
<circle cx="311.1" cy="443.6" r="3.0" fill="#fac8af"/>
<circle cx="282.3" cy="435.4" r="3.0" fill="#700320"/>
<circle cx="301.3" cy="429.3" r="3.0" fill="#870a24"/>
<circle cx="249.2" cy="425.8" r="3.0" fill="#6d0220"/>
<circle cx="232.1" cy="438.8" r="3.0" fill="#c13639"/>
<circle cx="237.3" cy="434.3" r="3.0" fill="#c94741"/>
<circle cx="252" cy="436.1" r="3.0" fill="#6d0220"/>
<circle cx="274.9" cy="434.4" r="3.0" fill="#7c0722"/>
<circle cx="260.8" cy="422.7" r="3.0" fill="#ecf2f5"/>
<circle cx="270.5" cy="438.5" r="3.0" fill="#da6853"/>
<circle cx="428.4" cy="460.3" r="3.0" fill="#073467"/>
<circle cx="518.4" cy="468.1" r="3.0" fill="#7f0823"/>
<circle cx="424.8" cy="459.9" r="3.0" fill="#1b5a9c"/>
<circle cx="246.9" cy="440.5" r="3.0" fill="#810823"/>
<circle cx="252.9" cy="426.4" r="3.0" fill="#b8d8e9"/>
<circle cx="227" cy="427.7" r="3.0" fill="#68abd0"/>
<circle cx="190.1" cy="422.6" r="3.0" fill="#0d3f76"/>
<circle cx="254.3" cy="441.3" r="3.0" fill="#3b88be"/>
<circle cx="304.4" cy="434.1" r="3.0" fill="#67001f"/>
<circle cx="267.6" cy="428.6" r="3.0" fill="#870a24"/>
<circle cx="235.1" cy="418.5" r="3.0" fill="#67001f"/>
<circle cx="213.6" cy="436.6" r="3.0" fill="#760521"/>
<circle cx="228.4" cy="438.3" r="3.0" fill="#6d0220"/>
<circle cx="245.4" cy="430.3" r="3.0" fill="#fddbc7"/>
<circle cx="198.3" cy="412.6" r="3.0" fill="#bb2a34"/>
<circle cx="282.9" cy="426.3" r="3.0" fill="#840924"/>
<circle cx="211.4" cy="431" r="3.0" fill="#8dc2dc"/>
<circle cx="193.8" cy="423.1" r="3.0" fill="#2065ab"/>
<circle cx="500.4" cy="469.3" r="3.0" fill="#eaf1f5"/>
<circle cx="257.1" cy="422.1" r="3.0" fill="#09386d"/>
<circle cx="223.4" cy="421.9" r="3.0" fill="#790622"/>
<circle cx="306.1" cy="447.2" r="3.0" fill="#6d0220"/>
<circle cx="241.8" cy="424.7" r="3.0" fill="#6a011f"/>
<circle cx="460.8" cy="465.7" r="3.0" fill="#760521"/>
<circle cx="219.7" cy="421.4" r="3.0" fill="#67001f"/>
<circle cx="493.2" cy="469.8" r="3.0" fill="#67001f"/>
<circle cx="315.5" cy="440" r="3.0" fill="#6a011f"/>
<circle cx="399.6" cy="455.3" r="3.0" fill="#6d0220"/>
<circle cx="256.5" cy="431.8" r="3.0" fill="#c94741"/>
<circle cx="280.2" cy="444.3" r="3.0" fill="#7c0722"/>
<circle cx="274.2" cy="438.9" r="3.0" fill="#810823"/>
<circle cx="219.6" cy="426.7" r="3.0" fill="#175290"/>
<circle cx="316" cy="431.7" r="3.0" fill="#790622"/>
<circle cx="522" cy="468.4" r="3.0" fill="#6d0220"/>
<circle cx="442.8" cy="463.1" r="3.0" fill="#810823"/>
<circle cx="197.6" cy="418.1" r="3.0" fill="#840924"/>
<circle cx="410.4" cy="457.2" r="3.0" fill="#de735c"/>
<circle cx="478.8" cy="468.5" r="3.0" fill="#d05548"/>
<circle cx="378" cy="449.2" r="3.0" fill="#b72230"/>
<circle cx="297.6" cy="428.7" r="3.0" fill="#6a011f"/>
<circle cx="311.8" cy="435.2" r="3.0" fill="#b82531"/>
<circle cx="293.4" cy="432.5" r="3.0" fill="#c13639"/>
<circle cx="396" cy="454.6" r="3.0" fill="#790622"/>
<circle cx="435.6" cy="461.3" r="3.0" fill="#eff3f5"/>
<circle cx="230.7" cy="428.2" r="3.0" fill="#c0dceb"/>
<circle cx="318.5" cy="444.5" r="3.0" fill="#053061"/>
<circle cx="244.6" cy="435.2" r="3.0" fill="#b6d7e8"/>
<circle cx="227.1" cy="422.5" r="3.0" fill="#790622"/>
<circle cx="191.4" cy="434.1" r="3.0" fill="#790622"/>
<circle cx="303.8" cy="442.7" r="3.0" fill="#f3a481"/>
<circle cx="289.7" cy="436.4" r="3.0" fill="#840924"/>
<circle cx="221" cy="437.5" r="3.0" fill="#fcd7c2"/>
<circle cx="529.2" cy="469.4" r="3.0" fill="#840924"/>
<circle cx="486" cy="469.4" r="3.0" fill="#810823"/>
<path d="M150 497.4 159.3 493.6 167.8 491.7 178.2 486.4 187.6 485.7 197 481.9 205.5 481.3 215.9 475.7 224.4 473.8 234.8 467.2 244.2 464.3 253.7 458.7 263.1 454 272.5 446.4 282 441.7 292.3 431.3 302.7 428.5 312.2 427 320.6 427 329.1 430.4 338.6 434.2 350.4 439.8 358.9 442.3 368.3 445.5 377.7 451.1 387.2 454 396.6 456.8 406 458.3 415.5 460.2 424.9 461.9 434.3 463 443.8 465.3 453.2 466.8 462.6 467.9 472.1 469.4 481.5 470.9 491 471.9 500.4 471.3 509.8 470.6 519.2 470 528.7 471.3 539.4 473.8 548.9 476.6 558.3 478.1 567.7 481.9 577.2 485.1 586.6 490.2 596 492.1 606.4 494 614.9 493 624.3 491.7 633.8 490.6 643.2 489.4 652.6 488.3 662.1 486 671.5 484.2 680.9 481.3 690.4 478.9 699.8 476.2 709.2 473.8 718.7 470.9 729.4 465.7 738.9 463.4 748.3 456.8 757.7 453 767.2 447.4 776.6 443.6 787 438.3 797.4 436.6 806.8 437.4 816.2 438.9 825.7 447.7 835.1 449.8 844.5 455.5 854 459.2 863.4 467.7 872.8 470 882.3 475.7 892.6 477 893.2 477.1L893.2 536.9L150 536.9Z" fill="#000"/>
<path d="M150 497.4 159.3 493.6 167.8 491.7 178.2 486.4 187.6 485.7 197 481.9 205.5 481.3 215.9 475.7 224.4 473.8 234.8 467.2 244.2 464.3 253.7 458.7 263.1 454 272.5 446.4 282 441.7 292.3 431.3 302.7 428.5 312.2 427 320.6 427 329.1 430.4 338.6 434.2 350.4 439.8 358.9 442.3 368.3 445.5 377.7 451.1 387.2 454 396.6 456.8 406 458.3 415.5 460.2 424.9 461.9 434.3 463 443.8 465.3 453.2 466.8 462.6 467.9 472.1 469.4 481.5 470.9 491 471.9 500.4 471.3 509.8 470.6 519.2 470 528.7 471.3 539.4 473.8 548.9 476.6 558.3 478.1 567.7 481.9 577.2 485.1 586.6 490.2 596 492.1 606.4 494 614.9 493 624.3 491.7 633.8 490.6 643.2 489.4 652.6 488.3 662.1 486 671.5 484.2 680.9 481.3 690.4 478.9 699.8 476.2 709.2 473.8 718.7 470.9 729.4 465.7 738.9 463.4 748.3 456.8 757.7 453 767.2 447.4 776.6 443.6 787 438.3 797.4 436.6 806.8 437.4 816.2 438.9 825.7 447.7 835.1 449.8 844.5 455.5 854 459.2 863.4 467.7 872.8 470 882.3 475.7 892.6 477 893.2 477.1" fill="none" stroke="#0000ff" stroke-width="1.6" stroke-linejoin="round"/>
<circle cx="311.5" cy="386.5" r="2.1" fill="#e58368"/>
<circle cx="314.5" cy="384.3" r="1.9" fill="#eb9172"/>
<circle cx="332.5" cy="389.5" r="1.8" fill="#f5aa89"/>
<circle cx="311" cy="407.3" r="1.8" fill="#9dcbe1"/>
<circle cx="327.5" cy="411" r="1.8" fill="#9dcbe1"/>
<circle cx="311.5" cy="403.3" r="1.7" fill="#f6f7f7"/>
<circle cx="328" cy="407.6" r="1.6" fill="#f3f5f6"/>
<g stroke="#000" stroke-linecap="round" fill="none">
<path d="M321.6 398 L321.8 427" stroke-width="2.2"/>
<path d="M321 397.6 L332.6 383.2" stroke-width="1.3"/>
<path d="M321 397.6 L306.2 395.3" stroke-width="1.3"/>
<path d="M321.8 399 L323.9 415.5" stroke-width="1.3"/>
</g>
</g>
<g stroke="#000" stroke-width="0.694" stroke-dasharray="1.389 4.167" fill="none">
<line x1="319.5" y1="572.5" x2="319.5" y2="64.5"/>
<line x1="488.5" y1="572.5" x2="488.5" y2="64.5"/>
<line x1="657.5" y1="572.5" x2="657.5" y2="64.5"/>
<line x1="826.5" y1="572.5" x2="826.5" y2="64.5"/>
<line x1="150.5" y1="136.5" x2="894.5" y2="136.5"/>
<line x1="150.5" y1="209.5" x2="894.5" y2="209.5"/>
<line x1="150.5" y1="282.5" x2="894.5" y2="282.5"/>
<line x1="150.5" y1="354.5" x2="894.5" y2="354.5"/>
<line x1="150.5" y1="427.5" x2="894.5" y2="427.5"/>
<line x1="150.5" y1="500.5" x2="894.5" y2="500.5"/>
</g>
<g stroke="#000" stroke-width="0.694">
<line x1="319.5" y1="572.5" x2="319.5" y2="565.7"/><line x1="319.5" y1="64.5" x2="319.5" y2="70.4"/>
<line x1="488.5" y1="572.5" x2="488.5" y2="565.7"/><line x1="488.5" y1="64.5" x2="488.5" y2="70.4"/>
<line x1="657.5" y1="572.5" x2="657.5" y2="565.7"/><line x1="657.5" y1="64.5" x2="657.5" y2="70.4"/>
<line x1="826.5" y1="572.5" x2="826.5" y2="565.7"/><line x1="826.5" y1="64.5" x2="826.5" y2="70.4"/>
<line x1="150.5" y1="500.5" x2="156.9" y2="500.5"/><line x1="894.5" y1="500.5" x2="888.0" y2="500.5"/>
<line x1="150.5" y1="427.5" x2="156.9" y2="427.5"/><line x1="894.5" y1="427.5" x2="888.0" y2="427.5"/>
<line x1="150.5" y1="354.5" x2="156.9" y2="354.5"/><line x1="894.5" y1="354.5" x2="888.0" y2="354.5"/>
<line x1="150.5" y1="282.5" x2="156.9" y2="282.5"/><line x1="894.5" y1="282.5" x2="888.0" y2="282.5"/>
<line x1="150.5" y1="209.5" x2="156.9" y2="209.5"/><line x1="894.5" y1="209.5" x2="888.0" y2="209.5"/>
<line x1="150.5" y1="136.5" x2="156.9" y2="136.5"/><line x1="894.5" y1="136.5" x2="888.0" y2="136.5"/>
</g>
<rect x="150.5" y="64.5" width="744" height="508" fill="none" stroke="#000" stroke-width="1.389"/>
<rect x="941" y="64" width="25.5" height="508.5" fill="url(#cb)"/>
<g stroke="#000" stroke-width="0.694">
<line x1="966.5" y1="114.5" x2="960.2" y2="114.5"/>
<line x1="966.5" y1="165.5" x2="960.2" y2="165.5"/>
<line x1="966.5" y1="216.5" x2="960.2" y2="216.5"/>
<line x1="966.5" y1="267.5" x2="960.2" y2="267.5"/>
<line x1="966.5" y1="318.5" x2="960.2" y2="318.5"/>
<line x1="966.5" y1="369.5" x2="960.2" y2="369.5"/>
<line x1="966.5" y1="420.5" x2="960.2" y2="420.5"/>
<line x1="966.5" y1="471.5" x2="960.2" y2="471.5"/>
<line x1="966.5" y1="522.5" x2="960.2" y2="522.5"/>
</g>
<rect x="941.5" y="64.5" width="25" height="508" fill="none" stroke="#000" stroke-width="1.389"/>
<text x="394.15 406.88 419.60 432.32 444.96 451.79 464.51 477.15 483.98 496.70 509.15 515.78 528.51 541.15 547.97 560.69 573.33 580.16 592.88 605.33 611.19 625.78 637.71" y="57" font-size="20.9">2017/05/28 12:00:00 UTC</text>
<rect x="101.75" y="570.97" width="10.41" height="1.41" fill="#000"/>
<text x="112.94 123.54 134.15" y="576.6" font-size="17.8">400</text>
<rect x="101.75" y="499.00" width="10.41" height="1.38" fill="#000"/>
<text x="112.94 123.54 134.15" y="504.9" font-size="17.8">200</text>
<text x="134.15" y="432.2" font-size="17.8">0</text>
<text x="111.94 122.54 133.15" y="358.5" font-size="17.8">200</text>
<text x="112.94 123.54 134.15" y="286.9" font-size="17.8">400</text>
<text x="111.94 122.54 133.15" y="214.2" font-size="17.8">600</text>
<text x="111.94 122.54 133.15" y="140.5" font-size="17.8">800</text>
<text x="102.34 112.94 123.54 134.15" y="68.8" font-size="17.8">1000</text>
<rect x="129.75" y="586.00" width="10.41" height="1.38" fill="#000"/>
<text x="141.43 152.03 162.64" y="592" font-size="17.8">500</text>
<text x="314.14" y="592" font-size="17.8">0</text>
<text x="472.63 483.23 493.84" y="592" font-size="17.8">500</text>
<text x="636.42 647.02 657.62 668.23" y="592" font-size="17.8">1000</text>
<text x="805.51 816.11 826.72 837.32" y="592" font-size="17.8">1500</text>
<text x="409.78 423.75 429.44 442.13 450.11 463.96 477.76 490.06 503.61 511.50 519.47 532.99 539.88 561.05 575.20 591.58 598.85 606.13 614.13" y="619" font-size="22.9">distance to WEC / m</text>
<g transform="translate(87 397.6) rotate(-90)">
<text x="0.76 9.60 22.86 28.84 35.91 43.30 57.17 70.92 77.24 91.33 105.92 113.81 121.08 128.36 136.35" y="0" font-size="22.9">rel. height / m</text>
</g>
<text x="972.45 986.59" y="69.6" font-size="22.0">10</text>
<text x="972.45" y="119.5" font-size="22.0">8</text>
<text x="972.45" y="171.4" font-size="22.0">6</text>
<text x="972.45" y="221.2" font-size="22.0">4</text>
<text x="972.45" y="273.1" font-size="22.0">2</text>
<text x="972.45" y="324" font-size="22.0">0</text>
<rect x="974.36" y="367.15" width="13.92" height="1.85" fill="#000"/>
<text x="990.07" y="374.9" font-size="22.0">2</text>
<rect x="974.36" y="418.15" width="13.92" height="1.85" fill="#000"/>
<text x="990.07" y="425.8" font-size="22.0">4</text>
<rect x="974.36" y="469.15" width="13.92" height="1.85" fill="#000"/>
<text x="990.07" y="476.6" font-size="22.0">6</text>
<rect x="974.36" y="520.15" width="13.92" height="1.85" fill="#000"/>
<text x="990.07" y="527.5" font-size="22.0">8</text>
<rect x="974.36" y="570.15" width="13.92" height="1.85" fill="#000"/>
<text x="990.07 1004.21" y="578.4" font-size="22.0">10</text>
<g transform="translate(1044 458.2) rotate(-90)">
<text x="0.76 9.58 23.44 37.40 43.47 57.19 63.18 70.71 88.61 94.91 109.01 122.78 129.56 141.75 155.64 169.31 183.20 196.97 204.25 211.53 219.52 240.24 247.01" y="0" font-size="22.9">radial wind speed / m s</text>
<text x="260.7" y="-9" font-size="15.0" textLength="17.5" lengthAdjust="spacingAndGlyphs">−1</text>
</g>
</svg></body></html>
